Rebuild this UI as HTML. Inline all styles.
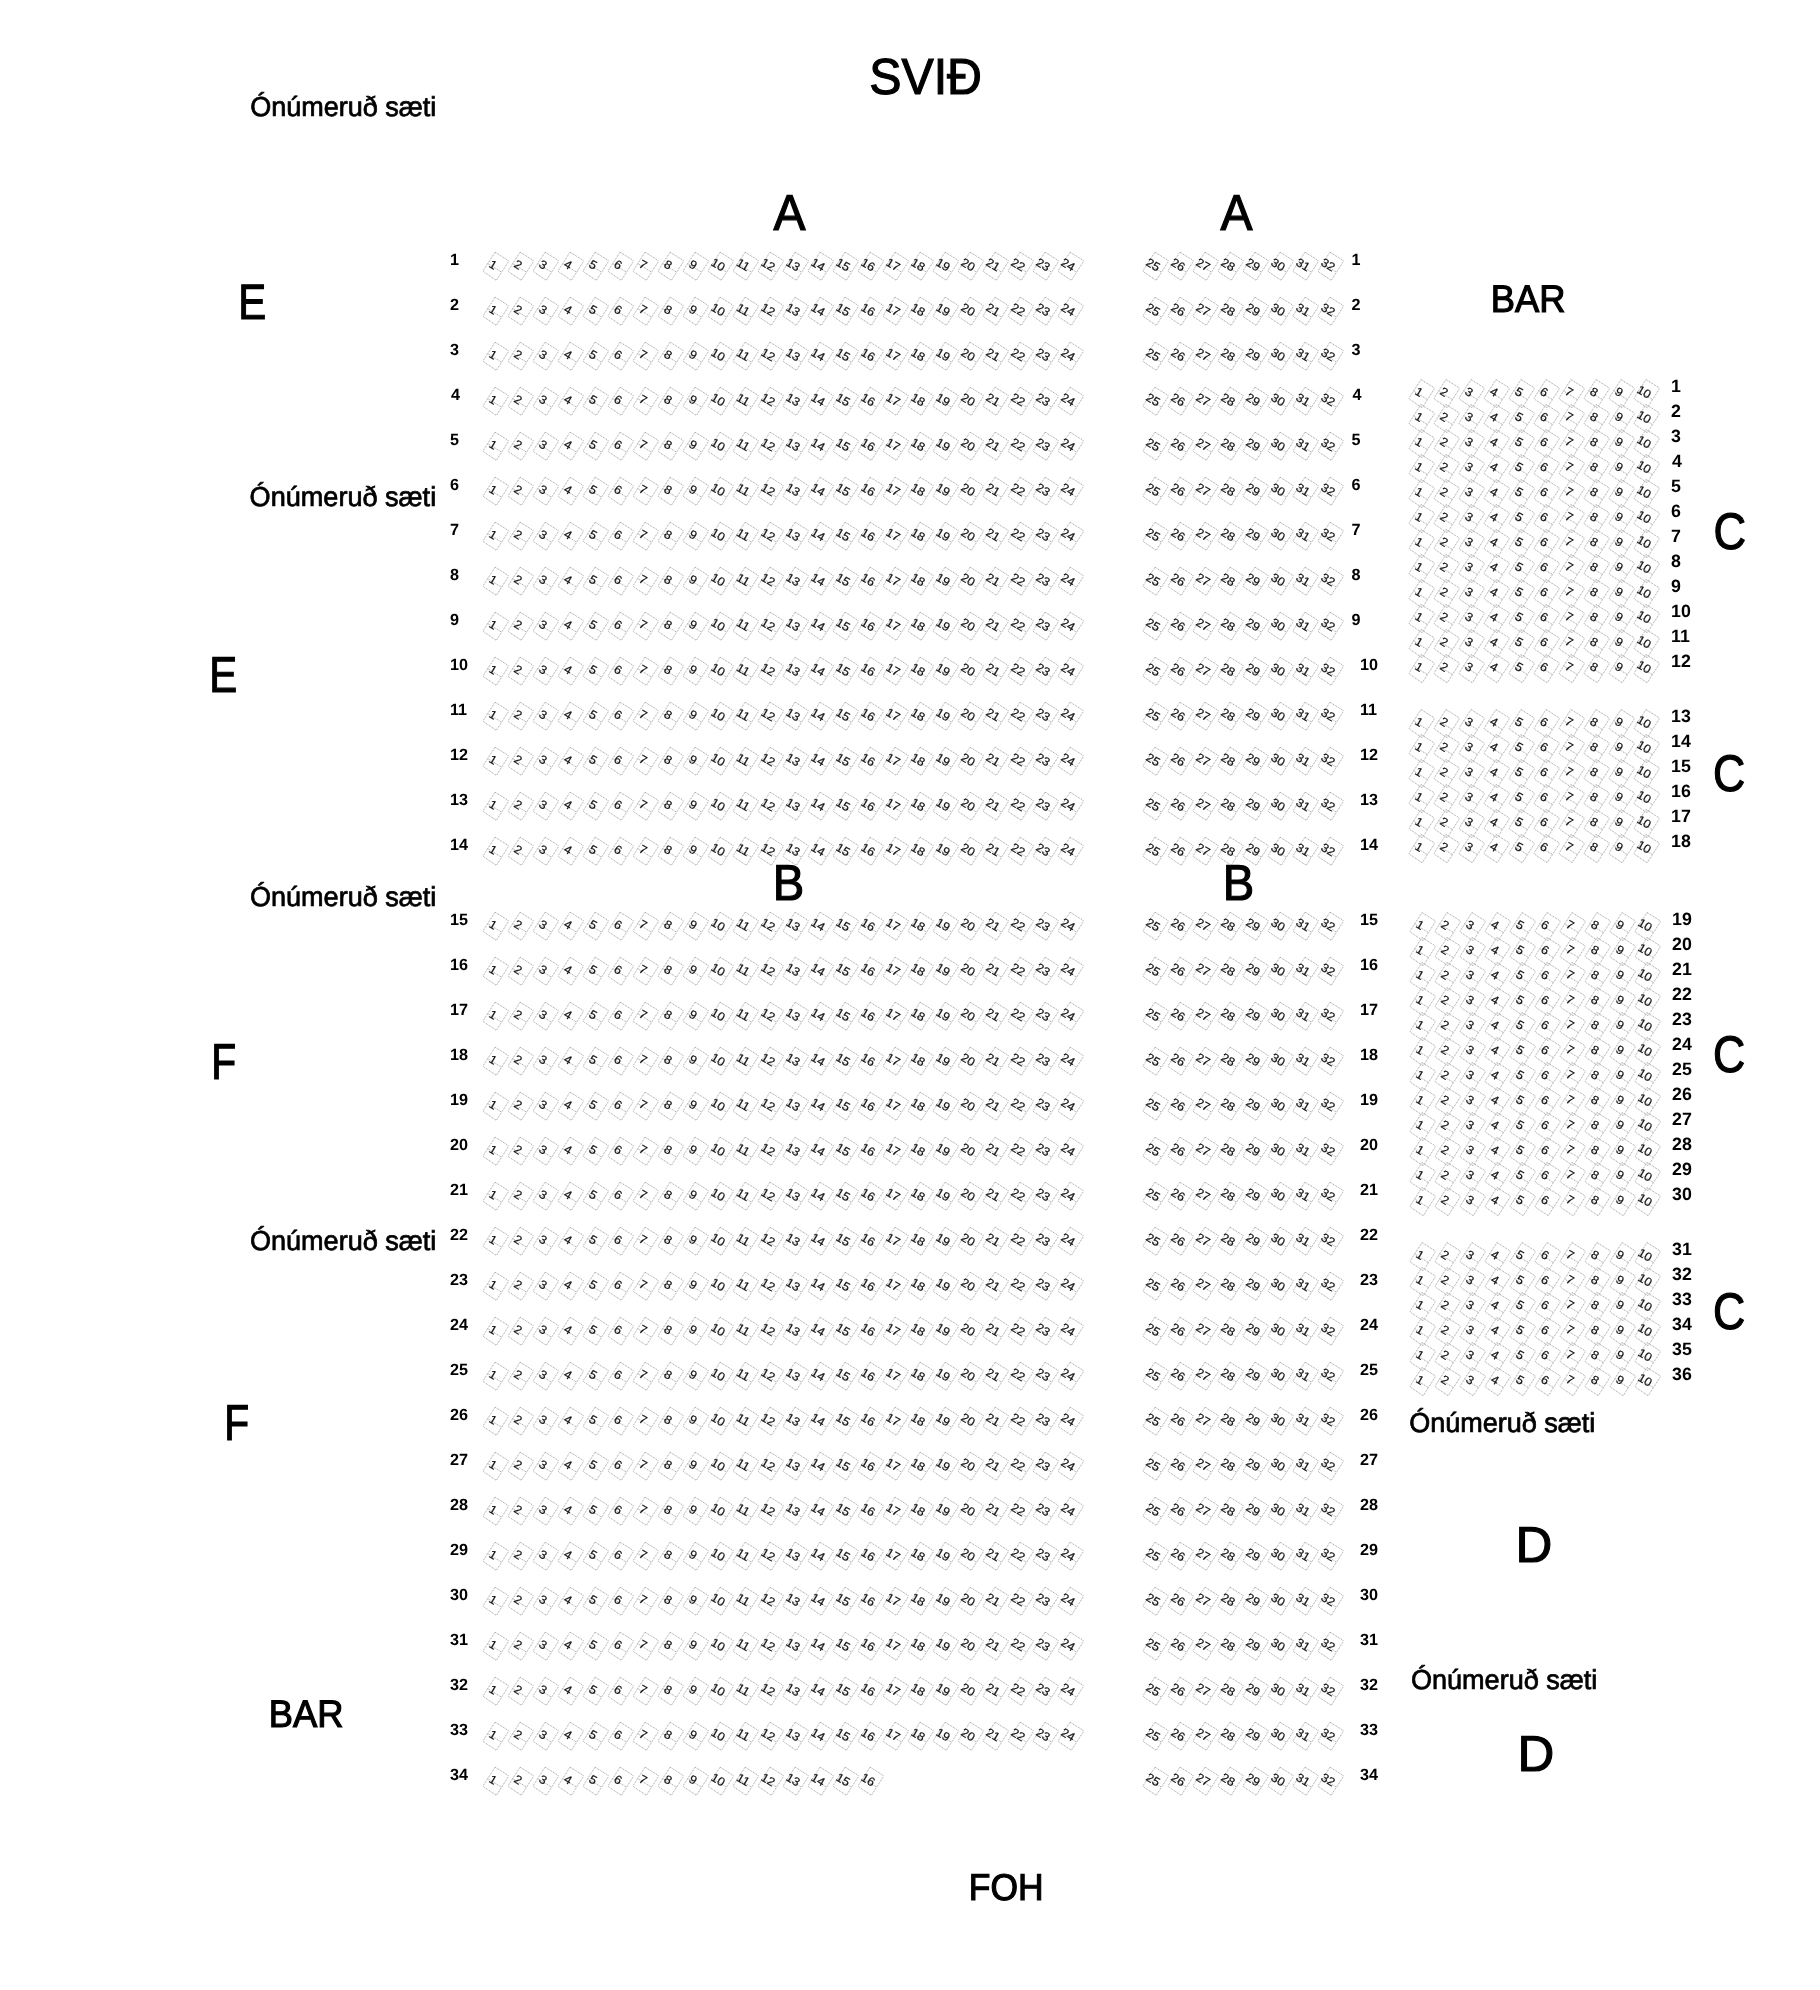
<!DOCTYPE html>
<html><head><meta charset="utf-8"><title>Seating</title><style>
html,body{margin:0;padding:0;background:#fff;width:1820px;height:1990px;overflow:hidden}
svg{position:absolute;left:0;top:0;will-change:transform;text-rendering:geometricPrecision;font-family:"Liberation Sans",sans-serif}
.L,.M{fill:#000}
.R{fill:#000;font-weight:bold}
#s rect,#s path{stroke-linejoin:round;fill:none;stroke:#959595;stroke-width:0.8;stroke-dasharray:1 0.85}
.n text{font-size:12px;fill:#111;stroke:#111;stroke-width:0.2px;text-anchor:middle;transform:scale(1.05,1.0)}
.L{stroke:#000;stroke-width:1.2px}
.M{stroke:#000;stroke-width:0.7px}
</style></head><body>
<svg width="1820" height="1990" viewBox="0 0 1820 1990">
<defs><g id="s"><path d="M-7.6 -11.7L6.9 -11.2Q8.7 -11.1 8.6 -9.3L7.6 12.1L-6.9 11.1Q-8.7 11 -8.6 9.2Z"/><path d="M-8.3 1.9L8.1 2.4"/></g></defs>
<text class="L" font-size="51" transform="matrix(0.947 0 0 0.991 869.203 93.94)">SVIÐ</text>
<text class="L" font-size="51" transform="matrix(0.941 0 0 0.989 773.504 230.16)">A</text>
<text class="L" font-size="51" transform="matrix(0.941 0 0 0.989 1220.504 230.16)">A</text>
<text class="L" font-size="51" transform="matrix(0.821 0 0 0.974 238.219 318.62)">E</text>
<text class="L" font-size="39" transform="matrix(0.933 0 0 0.986 1490.704 312.16)">BAR</text>
<text class="L" font-size="51" transform="matrix(0.885 0 0 1.006 1713.508 549.46)">C</text>
<text class="L" font-size="51" transform="matrix(0.821 0 0 0.989 209.219 692.16)">E</text>
<text class="L" font-size="51" transform="matrix(0.875 0 0 1.006 1712.88 791.46)">C</text>
<text class="L" font-size="51" transform="matrix(0.926 0 0 0.989 772.801 900.16)">B</text>
<text class="L" font-size="51" transform="matrix(0.926 0 0 0.989 1222.801 900.16)">B</text>
<text class="L" font-size="51" transform="matrix(0.875 0 0 1.006 1712.88 1072.46)">C</text>
<text class="L" font-size="51" transform="matrix(0.8 0 0 0.989 211.305 1079.16)">F</text>
<text class="L" font-size="51" transform="matrix(0.875 0 0 1.006 1712.88 1329.46)">C</text>
<text class="L" font-size="51" transform="matrix(0.8 0 0 0.989 224.305 1440.16)">F</text>
<text class="L" font-size="51" transform="matrix(1 0 0 0.989 1515.505 1562.16)">D</text>
<text class="L" font-size="39" transform="matrix(0.933 0 0 0.986 268.704 1727.16)">BAR</text>
<text class="L" font-size="51" transform="matrix(1 0 0 0.989 1517.505 1771.16)">D</text>
<text class="L" font-size="39" transform="matrix(0.908 0 0 0.953 968.781 1900.26)">FOH</text>
<text class="M" font-size="26" transform="matrix(1.039 0 0 1.056 250.141 116.3)">Ónúmeruð sæti</text>
<text class="M" font-size="26" transform="matrix(1.041 0 0 1.056 249.619 506.44)">Ónúmeruð sæti</text>
<text class="M" font-size="26" transform="matrix(1.04 0 0 1.056 249.96 905.78)">Ónúmeruð sæti</text>
<text class="M" font-size="26" transform="matrix(1.04 0 0 1.056 249.96 1249.78)">Ónúmeruð sæti</text>
<text class="M" font-size="26" transform="matrix(1.039 0 0 1.056 1409.141 1431.78)">Ónúmeruð sæti</text>
<text class="M" font-size="26" transform="matrix(1.04 0 0 1.056 1410.96 1688.78)">Ónúmeruð sæti</text>
<text class="R" font-size="16.2" x="450" y="264.7">1</text>
<text class="R" font-size="16.2" x="1351.5" y="264.7">1</text>
<text class="R" font-size="16.2" x="450" y="309.7">2</text>
<text class="R" font-size="16.2" x="1351.5" y="309.7">2</text>
<text class="R" font-size="16.2" x="450" y="354.7">3</text>
<text class="R" font-size="16.2" x="1351.5" y="354.7">3</text>
<text class="R" font-size="16.2" x="451" y="399.7">4</text>
<text class="R" font-size="16.2" x="1352.5" y="399.7">4</text>
<text class="R" font-size="16.2" x="450" y="444.7">5</text>
<text class="R" font-size="16.2" x="1351.5" y="444.7">5</text>
<text class="R" font-size="16.2" x="450" y="489.7">6</text>
<text class="R" font-size="16.2" x="1351.5" y="489.7">6</text>
<text class="R" font-size="16.2" x="450" y="534.7">7</text>
<text class="R" font-size="16.2" x="1351.5" y="534.7">7</text>
<text class="R" font-size="16.2" x="450" y="579.7">8</text>
<text class="R" font-size="16.2" x="1351.5" y="579.7">8</text>
<text class="R" font-size="16.2" x="450" y="624.7">9</text>
<text class="R" font-size="16.2" x="1351.5" y="624.7">9</text>
<text class="R" font-size="16.2" x="450" y="669.7">10</text>
<text class="R" font-size="16.2" x="1360" y="669.7">10</text>
<text class="R" font-size="16.2" x="450" y="714.7">11</text>
<text class="R" font-size="16.2" x="1360" y="714.7">11</text>
<text class="R" font-size="16.2" x="450" y="759.7">12</text>
<text class="R" font-size="16.2" x="1360" y="759.7">12</text>
<text class="R" font-size="16.2" x="450" y="804.7">13</text>
<text class="R" font-size="16.2" x="1360" y="804.7">13</text>
<text class="R" font-size="16.2" x="450" y="849.7">14</text>
<text class="R" font-size="16.2" x="1360" y="849.7">14</text>
<text class="R" font-size="16.2" x="450" y="924.7">15</text>
<text class="R" font-size="16.2" x="1360" y="924.7">15</text>
<text class="R" font-size="16.2" x="450" y="969.7">16</text>
<text class="R" font-size="16.2" x="1360" y="969.7">16</text>
<text class="R" font-size="16.2" x="450" y="1014.7">17</text>
<text class="R" font-size="16.2" x="1360" y="1014.7">17</text>
<text class="R" font-size="16.2" x="450" y="1059.7">18</text>
<text class="R" font-size="16.2" x="1360" y="1059.7">18</text>
<text class="R" font-size="16.2" x="450" y="1104.7">19</text>
<text class="R" font-size="16.2" x="1360" y="1104.7">19</text>
<text class="R" font-size="16.2" x="450" y="1149.7">20</text>
<text class="R" font-size="16.2" x="1360" y="1149.7">20</text>
<text class="R" font-size="16.2" x="450" y="1194.7">21</text>
<text class="R" font-size="16.2" x="1360" y="1194.7">21</text>
<text class="R" font-size="16.2" x="450" y="1239.7">22</text>
<text class="R" font-size="16.2" x="1360" y="1239.7">22</text>
<text class="R" font-size="16.2" x="450" y="1284.7">23</text>
<text class="R" font-size="16.2" x="1360" y="1284.7">23</text>
<text class="R" font-size="16.2" x="450" y="1329.7">24</text>
<text class="R" font-size="16.2" x="1360" y="1329.7">24</text>
<text class="R" font-size="16.2" x="450" y="1374.7">25</text>
<text class="R" font-size="16.2" x="1360" y="1374.7">25</text>
<text class="R" font-size="16.2" x="450" y="1419.7">26</text>
<text class="R" font-size="16.2" x="1360" y="1419.7">26</text>
<text class="R" font-size="16.2" x="450" y="1464.7">27</text>
<text class="R" font-size="16.2" x="1360" y="1464.7">27</text>
<text class="R" font-size="16.2" x="450" y="1509.7">28</text>
<text class="R" font-size="16.2" x="1360" y="1509.7">28</text>
<text class="R" font-size="16.2" x="450" y="1554.7">29</text>
<text class="R" font-size="16.2" x="1360" y="1554.7">29</text>
<text class="R" font-size="16.2" x="450" y="1599.7">30</text>
<text class="R" font-size="16.2" x="1360" y="1599.7">30</text>
<text class="R" font-size="16.2" x="450" y="1644.7">31</text>
<text class="R" font-size="16.2" x="1360" y="1644.7">31</text>
<text class="R" font-size="16.2" x="450" y="1689.7">32</text>
<text class="R" font-size="16.2" x="1360" y="1689.7">32</text>
<text class="R" font-size="16.2" x="450" y="1734.7">33</text>
<text class="R" font-size="16.2" x="1360" y="1734.7">33</text>
<text class="R" font-size="16.2" x="450" y="1779.7">34</text>
<text class="R" font-size="16.2" x="1360" y="1779.7">34</text>
<text class="R" font-size="17.8" x="1671" y="392">1</text>
<text class="R" font-size="17.8" x="1671" y="417">2</text>
<text class="R" font-size="17.8" x="1671" y="442">3</text>
<text class="R" font-size="17.8" x="1672" y="467">4</text>
<text class="R" font-size="17.8" x="1671" y="492">5</text>
<text class="R" font-size="17.8" x="1671" y="517">6</text>
<text class="R" font-size="17.8" x="1671" y="542">7</text>
<text class="R" font-size="17.8" x="1671" y="567">8</text>
<text class="R" font-size="17.8" x="1671" y="592">9</text>
<text class="R" font-size="17.8" x="1671" y="617">10</text>
<text class="R" font-size="17.8" x="1671" y="642">11</text>
<text class="R" font-size="17.8" x="1671" y="667">12</text>
<text class="R" font-size="17.8" x="1671" y="722">13</text>
<text class="R" font-size="17.8" x="1671" y="747">14</text>
<text class="R" font-size="17.8" x="1671" y="772">15</text>
<text class="R" font-size="17.8" x="1671" y="797">16</text>
<text class="R" font-size="17.8" x="1671" y="822">17</text>
<text class="R" font-size="17.8" x="1671" y="847">18</text>
<text class="R" font-size="17.8" x="1672" y="925">19</text>
<text class="R" font-size="17.8" x="1672" y="950">20</text>
<text class="R" font-size="17.8" x="1672" y="975">21</text>
<text class="R" font-size="17.8" x="1672" y="1000">22</text>
<text class="R" font-size="17.8" x="1672" y="1025">23</text>
<text class="R" font-size="17.8" x="1672" y="1050">24</text>
<text class="R" font-size="17.8" x="1672" y="1075">25</text>
<text class="R" font-size="17.8" x="1672" y="1100">26</text>
<text class="R" font-size="17.8" x="1672" y="1125">27</text>
<text class="R" font-size="17.8" x="1672" y="1150">28</text>
<text class="R" font-size="17.8" x="1672" y="1175">29</text>
<text class="R" font-size="17.8" x="1672" y="1200">30</text>
<text class="R" font-size="17.8" x="1672" y="1255">31</text>
<text class="R" font-size="17.8" x="1672" y="1280">32</text>
<text class="R" font-size="17.8" x="1672" y="1305">33</text>
<text class="R" font-size="17.8" x="1672" y="1330">34</text>
<text class="R" font-size="17.8" x="1672" y="1355">35</text>
<text class="R" font-size="17.8" x="1672" y="1380">36</text>
<g class="n">
<g transform="translate(495.8 266.1)rotate(30)"><use href="#s"/><text x="-2.9" y="4.2">1</text></g>
<g transform="translate(520.8 266.1)rotate(30)"><use href="#s"/><text x="-2.9" y="4.2">2</text></g>
<g transform="translate(545.8 266.1)rotate(30)"><use href="#s"/><text x="-2.9" y="4.2">3</text></g>
<g transform="translate(570.8 266.1)rotate(30)"><use href="#s"/><text x="-2.9" y="4.2">4</text></g>
<g transform="translate(595.8 266.1)rotate(30)"><use href="#s"/><text x="-2.9" y="4.2">5</text></g>
<g transform="translate(620.8 266.1)rotate(30)"><use href="#s"/><text x="-2.9" y="4.2">6</text></g>
<g transform="translate(645.8 266.1)rotate(30)"><use href="#s"/><text x="-2.9" y="4.2">7</text></g>
<g transform="translate(670.8 266.1)rotate(30)"><use href="#s"/><text x="-2.9" y="4.2">8</text></g>
<g transform="translate(695.8 266.1)rotate(30)"><use href="#s"/><text x="-2.9" y="4.2">9</text></g>
<g transform="translate(720.8 266.1)rotate(30)"><use href="#s"/><text x="-2.9" y="4.2">10</text></g>
<g transform="translate(745.8 266.1)rotate(30)"><use href="#s"/><text x="-2.9" y="4.2">11</text></g>
<g transform="translate(770.8 266.1)rotate(30)"><use href="#s"/><text x="-2.9" y="4.2">12</text></g>
<g transform="translate(795.8 266.1)rotate(30)"><use href="#s"/><text x="-2.9" y="4.2">13</text></g>
<g transform="translate(820.8 266.1)rotate(30)"><use href="#s"/><text x="-2.9" y="4.2">14</text></g>
<g transform="translate(845.8 266.1)rotate(30)"><use href="#s"/><text x="-2.9" y="4.2">15</text></g>
<g transform="translate(870.8 266.1)rotate(30)"><use href="#s"/><text x="-2.9" y="4.2">16</text></g>
<g transform="translate(895.8 266.1)rotate(30)"><use href="#s"/><text x="-2.9" y="4.2">17</text></g>
<g transform="translate(920.8 266.1)rotate(30)"><use href="#s"/><text x="-2.9" y="4.2">18</text></g>
<g transform="translate(945.8 266.1)rotate(30)"><use href="#s"/><text x="-2.9" y="4.2">19</text></g>
<g transform="translate(970.8 266.1)rotate(30)"><use href="#s"/><text x="-2.9" y="4.2">20</text></g>
<g transform="translate(995.8 266.1)rotate(30)"><use href="#s"/><text x="-2.9" y="4.2">21</text></g>
<g transform="translate(1020.8 266.1)rotate(30)"><use href="#s"/><text x="-2.9" y="4.2">22</text></g>
<g transform="translate(1045.8 266.1)rotate(30)"><use href="#s"/><text x="-2.9" y="4.2">23</text></g>
<g transform="translate(1070.8 266.1)rotate(30)"><use href="#s"/><text x="-2.9" y="4.2">24</text></g>
<g transform="translate(1155.7 266.1)rotate(30)"><use href="#s"/><text x="-2.9" y="4.2">25</text></g>
<g transform="translate(1180.7 266.1)rotate(30)"><use href="#s"/><text x="-2.9" y="4.2">26</text></g>
<g transform="translate(1205.7 266.1)rotate(30)"><use href="#s"/><text x="-2.9" y="4.2">27</text></g>
<g transform="translate(1230.7 266.1)rotate(30)"><use href="#s"/><text x="-2.9" y="4.2">28</text></g>
<g transform="translate(1255.7 266.1)rotate(30)"><use href="#s"/><text x="-2.9" y="4.2">29</text></g>
<g transform="translate(1280.7 266.1)rotate(30)"><use href="#s"/><text x="-2.9" y="4.2">30</text></g>
<g transform="translate(1305.7 266.1)rotate(30)"><use href="#s"/><text x="-2.9" y="4.2">31</text></g>
<g transform="translate(1330.7 266.1)rotate(30)"><use href="#s"/><text x="-2.9" y="4.2">32</text></g>
<g transform="translate(495.8 311.1)rotate(30)"><use href="#s"/><text x="-2.9" y="4.2">1</text></g>
<g transform="translate(520.8 311.1)rotate(30)"><use href="#s"/><text x="-2.9" y="4.2">2</text></g>
<g transform="translate(545.8 311.1)rotate(30)"><use href="#s"/><text x="-2.9" y="4.2">3</text></g>
<g transform="translate(570.8 311.1)rotate(30)"><use href="#s"/><text x="-2.9" y="4.2">4</text></g>
<g transform="translate(595.8 311.1)rotate(30)"><use href="#s"/><text x="-2.9" y="4.2">5</text></g>
<g transform="translate(620.8 311.1)rotate(30)"><use href="#s"/><text x="-2.9" y="4.2">6</text></g>
<g transform="translate(645.8 311.1)rotate(30)"><use href="#s"/><text x="-2.9" y="4.2">7</text></g>
<g transform="translate(670.8 311.1)rotate(30)"><use href="#s"/><text x="-2.9" y="4.2">8</text></g>
<g transform="translate(695.8 311.1)rotate(30)"><use href="#s"/><text x="-2.9" y="4.2">9</text></g>
<g transform="translate(720.8 311.1)rotate(30)"><use href="#s"/><text x="-2.9" y="4.2">10</text></g>
<g transform="translate(745.8 311.1)rotate(30)"><use href="#s"/><text x="-2.9" y="4.2">11</text></g>
<g transform="translate(770.8 311.1)rotate(30)"><use href="#s"/><text x="-2.9" y="4.2">12</text></g>
<g transform="translate(795.8 311.1)rotate(30)"><use href="#s"/><text x="-2.9" y="4.2">13</text></g>
<g transform="translate(820.8 311.1)rotate(30)"><use href="#s"/><text x="-2.9" y="4.2">14</text></g>
<g transform="translate(845.8 311.1)rotate(30)"><use href="#s"/><text x="-2.9" y="4.2">15</text></g>
<g transform="translate(870.8 311.1)rotate(30)"><use href="#s"/><text x="-2.9" y="4.2">16</text></g>
<g transform="translate(895.8 311.1)rotate(30)"><use href="#s"/><text x="-2.9" y="4.2">17</text></g>
<g transform="translate(920.8 311.1)rotate(30)"><use href="#s"/><text x="-2.9" y="4.2">18</text></g>
<g transform="translate(945.8 311.1)rotate(30)"><use href="#s"/><text x="-2.9" y="4.2">19</text></g>
<g transform="translate(970.8 311.1)rotate(30)"><use href="#s"/><text x="-2.9" y="4.2">20</text></g>
<g transform="translate(995.8 311.1)rotate(30)"><use href="#s"/><text x="-2.9" y="4.2">21</text></g>
<g transform="translate(1020.8 311.1)rotate(30)"><use href="#s"/><text x="-2.9" y="4.2">22</text></g>
<g transform="translate(1045.8 311.1)rotate(30)"><use href="#s"/><text x="-2.9" y="4.2">23</text></g>
<g transform="translate(1070.8 311.1)rotate(30)"><use href="#s"/><text x="-2.9" y="4.2">24</text></g>
<g transform="translate(1155.7 311.1)rotate(30)"><use href="#s"/><text x="-2.9" y="4.2">25</text></g>
<g transform="translate(1180.7 311.1)rotate(30)"><use href="#s"/><text x="-2.9" y="4.2">26</text></g>
<g transform="translate(1205.7 311.1)rotate(30)"><use href="#s"/><text x="-2.9" y="4.2">27</text></g>
<g transform="translate(1230.7 311.1)rotate(30)"><use href="#s"/><text x="-2.9" y="4.2">28</text></g>
<g transform="translate(1255.7 311.1)rotate(30)"><use href="#s"/><text x="-2.9" y="4.2">29</text></g>
<g transform="translate(1280.7 311.1)rotate(30)"><use href="#s"/><text x="-2.9" y="4.2">30</text></g>
<g transform="translate(1305.7 311.1)rotate(30)"><use href="#s"/><text x="-2.9" y="4.2">31</text></g>
<g transform="translate(1330.7 311.1)rotate(30)"><use href="#s"/><text x="-2.9" y="4.2">32</text></g>
<g transform="translate(495.8 356.1)rotate(30)"><use href="#s"/><text x="-2.9" y="4.2">1</text></g>
<g transform="translate(520.8 356.1)rotate(30)"><use href="#s"/><text x="-2.9" y="4.2">2</text></g>
<g transform="translate(545.8 356.1)rotate(30)"><use href="#s"/><text x="-2.9" y="4.2">3</text></g>
<g transform="translate(570.8 356.1)rotate(30)"><use href="#s"/><text x="-2.9" y="4.2">4</text></g>
<g transform="translate(595.8 356.1)rotate(30)"><use href="#s"/><text x="-2.9" y="4.2">5</text></g>
<g transform="translate(620.8 356.1)rotate(30)"><use href="#s"/><text x="-2.9" y="4.2">6</text></g>
<g transform="translate(645.8 356.1)rotate(30)"><use href="#s"/><text x="-2.9" y="4.2">7</text></g>
<g transform="translate(670.8 356.1)rotate(30)"><use href="#s"/><text x="-2.9" y="4.2">8</text></g>
<g transform="translate(695.8 356.1)rotate(30)"><use href="#s"/><text x="-2.9" y="4.2">9</text></g>
<g transform="translate(720.8 356.1)rotate(30)"><use href="#s"/><text x="-2.9" y="4.2">10</text></g>
<g transform="translate(745.8 356.1)rotate(30)"><use href="#s"/><text x="-2.9" y="4.2">11</text></g>
<g transform="translate(770.8 356.1)rotate(30)"><use href="#s"/><text x="-2.9" y="4.2">12</text></g>
<g transform="translate(795.8 356.1)rotate(30)"><use href="#s"/><text x="-2.9" y="4.2">13</text></g>
<g transform="translate(820.8 356.1)rotate(30)"><use href="#s"/><text x="-2.9" y="4.2">14</text></g>
<g transform="translate(845.8 356.1)rotate(30)"><use href="#s"/><text x="-2.9" y="4.2">15</text></g>
<g transform="translate(870.8 356.1)rotate(30)"><use href="#s"/><text x="-2.9" y="4.2">16</text></g>
<g transform="translate(895.8 356.1)rotate(30)"><use href="#s"/><text x="-2.9" y="4.2">17</text></g>
<g transform="translate(920.8 356.1)rotate(30)"><use href="#s"/><text x="-2.9" y="4.2">18</text></g>
<g transform="translate(945.8 356.1)rotate(30)"><use href="#s"/><text x="-2.9" y="4.2">19</text></g>
<g transform="translate(970.8 356.1)rotate(30)"><use href="#s"/><text x="-2.9" y="4.2">20</text></g>
<g transform="translate(995.8 356.1)rotate(30)"><use href="#s"/><text x="-2.9" y="4.2">21</text></g>
<g transform="translate(1020.8 356.1)rotate(30)"><use href="#s"/><text x="-2.9" y="4.2">22</text></g>
<g transform="translate(1045.8 356.1)rotate(30)"><use href="#s"/><text x="-2.9" y="4.2">23</text></g>
<g transform="translate(1070.8 356.1)rotate(30)"><use href="#s"/><text x="-2.9" y="4.2">24</text></g>
<g transform="translate(1155.7 356.1)rotate(30)"><use href="#s"/><text x="-2.9" y="4.2">25</text></g>
<g transform="translate(1180.7 356.1)rotate(30)"><use href="#s"/><text x="-2.9" y="4.2">26</text></g>
<g transform="translate(1205.7 356.1)rotate(30)"><use href="#s"/><text x="-2.9" y="4.2">27</text></g>
<g transform="translate(1230.7 356.1)rotate(30)"><use href="#s"/><text x="-2.9" y="4.2">28</text></g>
<g transform="translate(1255.7 356.1)rotate(30)"><use href="#s"/><text x="-2.9" y="4.2">29</text></g>
<g transform="translate(1280.7 356.1)rotate(30)"><use href="#s"/><text x="-2.9" y="4.2">30</text></g>
<g transform="translate(1305.7 356.1)rotate(30)"><use href="#s"/><text x="-2.9" y="4.2">31</text></g>
<g transform="translate(1330.7 356.1)rotate(30)"><use href="#s"/><text x="-2.9" y="4.2">32</text></g>
<g transform="translate(495.8 401.1)rotate(30)"><use href="#s"/><text x="-2.9" y="4.2">1</text></g>
<g transform="translate(520.8 401.1)rotate(30)"><use href="#s"/><text x="-2.9" y="4.2">2</text></g>
<g transform="translate(545.8 401.1)rotate(30)"><use href="#s"/><text x="-2.9" y="4.2">3</text></g>
<g transform="translate(570.8 401.1)rotate(30)"><use href="#s"/><text x="-2.9" y="4.2">4</text></g>
<g transform="translate(595.8 401.1)rotate(30)"><use href="#s"/><text x="-2.9" y="4.2">5</text></g>
<g transform="translate(620.8 401.1)rotate(30)"><use href="#s"/><text x="-2.9" y="4.2">6</text></g>
<g transform="translate(645.8 401.1)rotate(30)"><use href="#s"/><text x="-2.9" y="4.2">7</text></g>
<g transform="translate(670.8 401.1)rotate(30)"><use href="#s"/><text x="-2.9" y="4.2">8</text></g>
<g transform="translate(695.8 401.1)rotate(30)"><use href="#s"/><text x="-2.9" y="4.2">9</text></g>
<g transform="translate(720.8 401.1)rotate(30)"><use href="#s"/><text x="-2.9" y="4.2">10</text></g>
<g transform="translate(745.8 401.1)rotate(30)"><use href="#s"/><text x="-2.9" y="4.2">11</text></g>
<g transform="translate(770.8 401.1)rotate(30)"><use href="#s"/><text x="-2.9" y="4.2">12</text></g>
<g transform="translate(795.8 401.1)rotate(30)"><use href="#s"/><text x="-2.9" y="4.2">13</text></g>
<g transform="translate(820.8 401.1)rotate(30)"><use href="#s"/><text x="-2.9" y="4.2">14</text></g>
<g transform="translate(845.8 401.1)rotate(30)"><use href="#s"/><text x="-2.9" y="4.2">15</text></g>
<g transform="translate(870.8 401.1)rotate(30)"><use href="#s"/><text x="-2.9" y="4.2">16</text></g>
<g transform="translate(895.8 401.1)rotate(30)"><use href="#s"/><text x="-2.9" y="4.2">17</text></g>
<g transform="translate(920.8 401.1)rotate(30)"><use href="#s"/><text x="-2.9" y="4.2">18</text></g>
<g transform="translate(945.8 401.1)rotate(30)"><use href="#s"/><text x="-2.9" y="4.2">19</text></g>
<g transform="translate(970.8 401.1)rotate(30)"><use href="#s"/><text x="-2.9" y="4.2">20</text></g>
<g transform="translate(995.8 401.1)rotate(30)"><use href="#s"/><text x="-2.9" y="4.2">21</text></g>
<g transform="translate(1020.8 401.1)rotate(30)"><use href="#s"/><text x="-2.9" y="4.2">22</text></g>
<g transform="translate(1045.8 401.1)rotate(30)"><use href="#s"/><text x="-2.9" y="4.2">23</text></g>
<g transform="translate(1070.8 401.1)rotate(30)"><use href="#s"/><text x="-2.9" y="4.2">24</text></g>
<g transform="translate(1155.7 401.1)rotate(30)"><use href="#s"/><text x="-2.9" y="4.2">25</text></g>
<g transform="translate(1180.7 401.1)rotate(30)"><use href="#s"/><text x="-2.9" y="4.2">26</text></g>
<g transform="translate(1205.7 401.1)rotate(30)"><use href="#s"/><text x="-2.9" y="4.2">27</text></g>
<g transform="translate(1230.7 401.1)rotate(30)"><use href="#s"/><text x="-2.9" y="4.2">28</text></g>
<g transform="translate(1255.7 401.1)rotate(30)"><use href="#s"/><text x="-2.9" y="4.2">29</text></g>
<g transform="translate(1280.7 401.1)rotate(30)"><use href="#s"/><text x="-2.9" y="4.2">30</text></g>
<g transform="translate(1305.7 401.1)rotate(30)"><use href="#s"/><text x="-2.9" y="4.2">31</text></g>
<g transform="translate(1330.7 401.1)rotate(30)"><use href="#s"/><text x="-2.9" y="4.2">32</text></g>
<g transform="translate(495.8 446.1)rotate(30)"><use href="#s"/><text x="-2.9" y="4.2">1</text></g>
<g transform="translate(520.8 446.1)rotate(30)"><use href="#s"/><text x="-2.9" y="4.2">2</text></g>
<g transform="translate(545.8 446.1)rotate(30)"><use href="#s"/><text x="-2.9" y="4.2">3</text></g>
<g transform="translate(570.8 446.1)rotate(30)"><use href="#s"/><text x="-2.9" y="4.2">4</text></g>
<g transform="translate(595.8 446.1)rotate(30)"><use href="#s"/><text x="-2.9" y="4.2">5</text></g>
<g transform="translate(620.8 446.1)rotate(30)"><use href="#s"/><text x="-2.9" y="4.2">6</text></g>
<g transform="translate(645.8 446.1)rotate(30)"><use href="#s"/><text x="-2.9" y="4.2">7</text></g>
<g transform="translate(670.8 446.1)rotate(30)"><use href="#s"/><text x="-2.9" y="4.2">8</text></g>
<g transform="translate(695.8 446.1)rotate(30)"><use href="#s"/><text x="-2.9" y="4.2">9</text></g>
<g transform="translate(720.8 446.1)rotate(30)"><use href="#s"/><text x="-2.9" y="4.2">10</text></g>
<g transform="translate(745.8 446.1)rotate(30)"><use href="#s"/><text x="-2.9" y="4.2">11</text></g>
<g transform="translate(770.8 446.1)rotate(30)"><use href="#s"/><text x="-2.9" y="4.2">12</text></g>
<g transform="translate(795.8 446.1)rotate(30)"><use href="#s"/><text x="-2.9" y="4.2">13</text></g>
<g transform="translate(820.8 446.1)rotate(30)"><use href="#s"/><text x="-2.9" y="4.2">14</text></g>
<g transform="translate(845.8 446.1)rotate(30)"><use href="#s"/><text x="-2.9" y="4.2">15</text></g>
<g transform="translate(870.8 446.1)rotate(30)"><use href="#s"/><text x="-2.9" y="4.2">16</text></g>
<g transform="translate(895.8 446.1)rotate(30)"><use href="#s"/><text x="-2.9" y="4.2">17</text></g>
<g transform="translate(920.8 446.1)rotate(30)"><use href="#s"/><text x="-2.9" y="4.2">18</text></g>
<g transform="translate(945.8 446.1)rotate(30)"><use href="#s"/><text x="-2.9" y="4.2">19</text></g>
<g transform="translate(970.8 446.1)rotate(30)"><use href="#s"/><text x="-2.9" y="4.2">20</text></g>
<g transform="translate(995.8 446.1)rotate(30)"><use href="#s"/><text x="-2.9" y="4.2">21</text></g>
<g transform="translate(1020.8 446.1)rotate(30)"><use href="#s"/><text x="-2.9" y="4.2">22</text></g>
<g transform="translate(1045.8 446.1)rotate(30)"><use href="#s"/><text x="-2.9" y="4.2">23</text></g>
<g transform="translate(1070.8 446.1)rotate(30)"><use href="#s"/><text x="-2.9" y="4.2">24</text></g>
<g transform="translate(1155.7 446.1)rotate(30)"><use href="#s"/><text x="-2.9" y="4.2">25</text></g>
<g transform="translate(1180.7 446.1)rotate(30)"><use href="#s"/><text x="-2.9" y="4.2">26</text></g>
<g transform="translate(1205.7 446.1)rotate(30)"><use href="#s"/><text x="-2.9" y="4.2">27</text></g>
<g transform="translate(1230.7 446.1)rotate(30)"><use href="#s"/><text x="-2.9" y="4.2">28</text></g>
<g transform="translate(1255.7 446.1)rotate(30)"><use href="#s"/><text x="-2.9" y="4.2">29</text></g>
<g transform="translate(1280.7 446.1)rotate(30)"><use href="#s"/><text x="-2.9" y="4.2">30</text></g>
<g transform="translate(1305.7 446.1)rotate(30)"><use href="#s"/><text x="-2.9" y="4.2">31</text></g>
<g transform="translate(1330.7 446.1)rotate(30)"><use href="#s"/><text x="-2.9" y="4.2">32</text></g>
<g transform="translate(495.8 491.1)rotate(30)"><use href="#s"/><text x="-2.9" y="4.2">1</text></g>
<g transform="translate(520.8 491.1)rotate(30)"><use href="#s"/><text x="-2.9" y="4.2">2</text></g>
<g transform="translate(545.8 491.1)rotate(30)"><use href="#s"/><text x="-2.9" y="4.2">3</text></g>
<g transform="translate(570.8 491.1)rotate(30)"><use href="#s"/><text x="-2.9" y="4.2">4</text></g>
<g transform="translate(595.8 491.1)rotate(30)"><use href="#s"/><text x="-2.9" y="4.2">5</text></g>
<g transform="translate(620.8 491.1)rotate(30)"><use href="#s"/><text x="-2.9" y="4.2">6</text></g>
<g transform="translate(645.8 491.1)rotate(30)"><use href="#s"/><text x="-2.9" y="4.2">7</text></g>
<g transform="translate(670.8 491.1)rotate(30)"><use href="#s"/><text x="-2.9" y="4.2">8</text></g>
<g transform="translate(695.8 491.1)rotate(30)"><use href="#s"/><text x="-2.9" y="4.2">9</text></g>
<g transform="translate(720.8 491.1)rotate(30)"><use href="#s"/><text x="-2.9" y="4.2">10</text></g>
<g transform="translate(745.8 491.1)rotate(30)"><use href="#s"/><text x="-2.9" y="4.2">11</text></g>
<g transform="translate(770.8 491.1)rotate(30)"><use href="#s"/><text x="-2.9" y="4.2">12</text></g>
<g transform="translate(795.8 491.1)rotate(30)"><use href="#s"/><text x="-2.9" y="4.2">13</text></g>
<g transform="translate(820.8 491.1)rotate(30)"><use href="#s"/><text x="-2.9" y="4.2">14</text></g>
<g transform="translate(845.8 491.1)rotate(30)"><use href="#s"/><text x="-2.9" y="4.2">15</text></g>
<g transform="translate(870.8 491.1)rotate(30)"><use href="#s"/><text x="-2.9" y="4.2">16</text></g>
<g transform="translate(895.8 491.1)rotate(30)"><use href="#s"/><text x="-2.9" y="4.2">17</text></g>
<g transform="translate(920.8 491.1)rotate(30)"><use href="#s"/><text x="-2.9" y="4.2">18</text></g>
<g transform="translate(945.8 491.1)rotate(30)"><use href="#s"/><text x="-2.9" y="4.2">19</text></g>
<g transform="translate(970.8 491.1)rotate(30)"><use href="#s"/><text x="-2.9" y="4.2">20</text></g>
<g transform="translate(995.8 491.1)rotate(30)"><use href="#s"/><text x="-2.9" y="4.2">21</text></g>
<g transform="translate(1020.8 491.1)rotate(30)"><use href="#s"/><text x="-2.9" y="4.2">22</text></g>
<g transform="translate(1045.8 491.1)rotate(30)"><use href="#s"/><text x="-2.9" y="4.2">23</text></g>
<g transform="translate(1070.8 491.1)rotate(30)"><use href="#s"/><text x="-2.9" y="4.2">24</text></g>
<g transform="translate(1155.7 491.1)rotate(30)"><use href="#s"/><text x="-2.9" y="4.2">25</text></g>
<g transform="translate(1180.7 491.1)rotate(30)"><use href="#s"/><text x="-2.9" y="4.2">26</text></g>
<g transform="translate(1205.7 491.1)rotate(30)"><use href="#s"/><text x="-2.9" y="4.2">27</text></g>
<g transform="translate(1230.7 491.1)rotate(30)"><use href="#s"/><text x="-2.9" y="4.2">28</text></g>
<g transform="translate(1255.7 491.1)rotate(30)"><use href="#s"/><text x="-2.9" y="4.2">29</text></g>
<g transform="translate(1280.7 491.1)rotate(30)"><use href="#s"/><text x="-2.9" y="4.2">30</text></g>
<g transform="translate(1305.7 491.1)rotate(30)"><use href="#s"/><text x="-2.9" y="4.2">31</text></g>
<g transform="translate(1330.7 491.1)rotate(30)"><use href="#s"/><text x="-2.9" y="4.2">32</text></g>
<g transform="translate(495.8 536.1)rotate(30)"><use href="#s"/><text x="-2.9" y="4.2">1</text></g>
<g transform="translate(520.8 536.1)rotate(30)"><use href="#s"/><text x="-2.9" y="4.2">2</text></g>
<g transform="translate(545.8 536.1)rotate(30)"><use href="#s"/><text x="-2.9" y="4.2">3</text></g>
<g transform="translate(570.8 536.1)rotate(30)"><use href="#s"/><text x="-2.9" y="4.2">4</text></g>
<g transform="translate(595.8 536.1)rotate(30)"><use href="#s"/><text x="-2.9" y="4.2">5</text></g>
<g transform="translate(620.8 536.1)rotate(30)"><use href="#s"/><text x="-2.9" y="4.2">6</text></g>
<g transform="translate(645.8 536.1)rotate(30)"><use href="#s"/><text x="-2.9" y="4.2">7</text></g>
<g transform="translate(670.8 536.1)rotate(30)"><use href="#s"/><text x="-2.9" y="4.2">8</text></g>
<g transform="translate(695.8 536.1)rotate(30)"><use href="#s"/><text x="-2.9" y="4.2">9</text></g>
<g transform="translate(720.8 536.1)rotate(30)"><use href="#s"/><text x="-2.9" y="4.2">10</text></g>
<g transform="translate(745.8 536.1)rotate(30)"><use href="#s"/><text x="-2.9" y="4.2">11</text></g>
<g transform="translate(770.8 536.1)rotate(30)"><use href="#s"/><text x="-2.9" y="4.2">12</text></g>
<g transform="translate(795.8 536.1)rotate(30)"><use href="#s"/><text x="-2.9" y="4.2">13</text></g>
<g transform="translate(820.8 536.1)rotate(30)"><use href="#s"/><text x="-2.9" y="4.2">14</text></g>
<g transform="translate(845.8 536.1)rotate(30)"><use href="#s"/><text x="-2.9" y="4.2">15</text></g>
<g transform="translate(870.8 536.1)rotate(30)"><use href="#s"/><text x="-2.9" y="4.2">16</text></g>
<g transform="translate(895.8 536.1)rotate(30)"><use href="#s"/><text x="-2.9" y="4.2">17</text></g>
<g transform="translate(920.8 536.1)rotate(30)"><use href="#s"/><text x="-2.9" y="4.2">18</text></g>
<g transform="translate(945.8 536.1)rotate(30)"><use href="#s"/><text x="-2.9" y="4.2">19</text></g>
<g transform="translate(970.8 536.1)rotate(30)"><use href="#s"/><text x="-2.9" y="4.2">20</text></g>
<g transform="translate(995.8 536.1)rotate(30)"><use href="#s"/><text x="-2.9" y="4.2">21</text></g>
<g transform="translate(1020.8 536.1)rotate(30)"><use href="#s"/><text x="-2.9" y="4.2">22</text></g>
<g transform="translate(1045.8 536.1)rotate(30)"><use href="#s"/><text x="-2.9" y="4.2">23</text></g>
<g transform="translate(1070.8 536.1)rotate(30)"><use href="#s"/><text x="-2.9" y="4.2">24</text></g>
<g transform="translate(1155.7 536.1)rotate(30)"><use href="#s"/><text x="-2.9" y="4.2">25</text></g>
<g transform="translate(1180.7 536.1)rotate(30)"><use href="#s"/><text x="-2.9" y="4.2">26</text></g>
<g transform="translate(1205.7 536.1)rotate(30)"><use href="#s"/><text x="-2.9" y="4.2">27</text></g>
<g transform="translate(1230.7 536.1)rotate(30)"><use href="#s"/><text x="-2.9" y="4.2">28</text></g>
<g transform="translate(1255.7 536.1)rotate(30)"><use href="#s"/><text x="-2.9" y="4.2">29</text></g>
<g transform="translate(1280.7 536.1)rotate(30)"><use href="#s"/><text x="-2.9" y="4.2">30</text></g>
<g transform="translate(1305.7 536.1)rotate(30)"><use href="#s"/><text x="-2.9" y="4.2">31</text></g>
<g transform="translate(1330.7 536.1)rotate(30)"><use href="#s"/><text x="-2.9" y="4.2">32</text></g>
<g transform="translate(495.8 581.1)rotate(30)"><use href="#s"/><text x="-2.9" y="4.2">1</text></g>
<g transform="translate(520.8 581.1)rotate(30)"><use href="#s"/><text x="-2.9" y="4.2">2</text></g>
<g transform="translate(545.8 581.1)rotate(30)"><use href="#s"/><text x="-2.9" y="4.2">3</text></g>
<g transform="translate(570.8 581.1)rotate(30)"><use href="#s"/><text x="-2.9" y="4.2">4</text></g>
<g transform="translate(595.8 581.1)rotate(30)"><use href="#s"/><text x="-2.9" y="4.2">5</text></g>
<g transform="translate(620.8 581.1)rotate(30)"><use href="#s"/><text x="-2.9" y="4.2">6</text></g>
<g transform="translate(645.8 581.1)rotate(30)"><use href="#s"/><text x="-2.9" y="4.2">7</text></g>
<g transform="translate(670.8 581.1)rotate(30)"><use href="#s"/><text x="-2.9" y="4.2">8</text></g>
<g transform="translate(695.8 581.1)rotate(30)"><use href="#s"/><text x="-2.9" y="4.2">9</text></g>
<g transform="translate(720.8 581.1)rotate(30)"><use href="#s"/><text x="-2.9" y="4.2">10</text></g>
<g transform="translate(745.8 581.1)rotate(30)"><use href="#s"/><text x="-2.9" y="4.2">11</text></g>
<g transform="translate(770.8 581.1)rotate(30)"><use href="#s"/><text x="-2.9" y="4.2">12</text></g>
<g transform="translate(795.8 581.1)rotate(30)"><use href="#s"/><text x="-2.9" y="4.2">13</text></g>
<g transform="translate(820.8 581.1)rotate(30)"><use href="#s"/><text x="-2.9" y="4.2">14</text></g>
<g transform="translate(845.8 581.1)rotate(30)"><use href="#s"/><text x="-2.9" y="4.2">15</text></g>
<g transform="translate(870.8 581.1)rotate(30)"><use href="#s"/><text x="-2.9" y="4.2">16</text></g>
<g transform="translate(895.8 581.1)rotate(30)"><use href="#s"/><text x="-2.9" y="4.2">17</text></g>
<g transform="translate(920.8 581.1)rotate(30)"><use href="#s"/><text x="-2.9" y="4.2">18</text></g>
<g transform="translate(945.8 581.1)rotate(30)"><use href="#s"/><text x="-2.9" y="4.2">19</text></g>
<g transform="translate(970.8 581.1)rotate(30)"><use href="#s"/><text x="-2.9" y="4.2">20</text></g>
<g transform="translate(995.8 581.1)rotate(30)"><use href="#s"/><text x="-2.9" y="4.2">21</text></g>
<g transform="translate(1020.8 581.1)rotate(30)"><use href="#s"/><text x="-2.9" y="4.2">22</text></g>
<g transform="translate(1045.8 581.1)rotate(30)"><use href="#s"/><text x="-2.9" y="4.2">23</text></g>
<g transform="translate(1070.8 581.1)rotate(30)"><use href="#s"/><text x="-2.9" y="4.2">24</text></g>
<g transform="translate(1155.7 581.1)rotate(30)"><use href="#s"/><text x="-2.9" y="4.2">25</text></g>
<g transform="translate(1180.7 581.1)rotate(30)"><use href="#s"/><text x="-2.9" y="4.2">26</text></g>
<g transform="translate(1205.7 581.1)rotate(30)"><use href="#s"/><text x="-2.9" y="4.2">27</text></g>
<g transform="translate(1230.7 581.1)rotate(30)"><use href="#s"/><text x="-2.9" y="4.2">28</text></g>
<g transform="translate(1255.7 581.1)rotate(30)"><use href="#s"/><text x="-2.9" y="4.2">29</text></g>
<g transform="translate(1280.7 581.1)rotate(30)"><use href="#s"/><text x="-2.9" y="4.2">30</text></g>
<g transform="translate(1305.7 581.1)rotate(30)"><use href="#s"/><text x="-2.9" y="4.2">31</text></g>
<g transform="translate(1330.7 581.1)rotate(30)"><use href="#s"/><text x="-2.9" y="4.2">32</text></g>
<g transform="translate(495.8 626.1)rotate(30)"><use href="#s"/><text x="-2.9" y="4.2">1</text></g>
<g transform="translate(520.8 626.1)rotate(30)"><use href="#s"/><text x="-2.9" y="4.2">2</text></g>
<g transform="translate(545.8 626.1)rotate(30)"><use href="#s"/><text x="-2.9" y="4.2">3</text></g>
<g transform="translate(570.8 626.1)rotate(30)"><use href="#s"/><text x="-2.9" y="4.2">4</text></g>
<g transform="translate(595.8 626.1)rotate(30)"><use href="#s"/><text x="-2.9" y="4.2">5</text></g>
<g transform="translate(620.8 626.1)rotate(30)"><use href="#s"/><text x="-2.9" y="4.2">6</text></g>
<g transform="translate(645.8 626.1)rotate(30)"><use href="#s"/><text x="-2.9" y="4.2">7</text></g>
<g transform="translate(670.8 626.1)rotate(30)"><use href="#s"/><text x="-2.9" y="4.2">8</text></g>
<g transform="translate(695.8 626.1)rotate(30)"><use href="#s"/><text x="-2.9" y="4.2">9</text></g>
<g transform="translate(720.8 626.1)rotate(30)"><use href="#s"/><text x="-2.9" y="4.2">10</text></g>
<g transform="translate(745.8 626.1)rotate(30)"><use href="#s"/><text x="-2.9" y="4.2">11</text></g>
<g transform="translate(770.8 626.1)rotate(30)"><use href="#s"/><text x="-2.9" y="4.2">12</text></g>
<g transform="translate(795.8 626.1)rotate(30)"><use href="#s"/><text x="-2.9" y="4.2">13</text></g>
<g transform="translate(820.8 626.1)rotate(30)"><use href="#s"/><text x="-2.9" y="4.2">14</text></g>
<g transform="translate(845.8 626.1)rotate(30)"><use href="#s"/><text x="-2.9" y="4.2">15</text></g>
<g transform="translate(870.8 626.1)rotate(30)"><use href="#s"/><text x="-2.9" y="4.2">16</text></g>
<g transform="translate(895.8 626.1)rotate(30)"><use href="#s"/><text x="-2.9" y="4.2">17</text></g>
<g transform="translate(920.8 626.1)rotate(30)"><use href="#s"/><text x="-2.9" y="4.2">18</text></g>
<g transform="translate(945.8 626.1)rotate(30)"><use href="#s"/><text x="-2.9" y="4.2">19</text></g>
<g transform="translate(970.8 626.1)rotate(30)"><use href="#s"/><text x="-2.9" y="4.2">20</text></g>
<g transform="translate(995.8 626.1)rotate(30)"><use href="#s"/><text x="-2.9" y="4.2">21</text></g>
<g transform="translate(1020.8 626.1)rotate(30)"><use href="#s"/><text x="-2.9" y="4.2">22</text></g>
<g transform="translate(1045.8 626.1)rotate(30)"><use href="#s"/><text x="-2.9" y="4.2">23</text></g>
<g transform="translate(1070.8 626.1)rotate(30)"><use href="#s"/><text x="-2.9" y="4.2">24</text></g>
<g transform="translate(1155.7 626.1)rotate(30)"><use href="#s"/><text x="-2.9" y="4.2">25</text></g>
<g transform="translate(1180.7 626.1)rotate(30)"><use href="#s"/><text x="-2.9" y="4.2">26</text></g>
<g transform="translate(1205.7 626.1)rotate(30)"><use href="#s"/><text x="-2.9" y="4.2">27</text></g>
<g transform="translate(1230.7 626.1)rotate(30)"><use href="#s"/><text x="-2.9" y="4.2">28</text></g>
<g transform="translate(1255.7 626.1)rotate(30)"><use href="#s"/><text x="-2.9" y="4.2">29</text></g>
<g transform="translate(1280.7 626.1)rotate(30)"><use href="#s"/><text x="-2.9" y="4.2">30</text></g>
<g transform="translate(1305.7 626.1)rotate(30)"><use href="#s"/><text x="-2.9" y="4.2">31</text></g>
<g transform="translate(1330.7 626.1)rotate(30)"><use href="#s"/><text x="-2.9" y="4.2">32</text></g>
<g transform="translate(495.8 671.1)rotate(30)"><use href="#s"/><text x="-2.9" y="4.2">1</text></g>
<g transform="translate(520.8 671.1)rotate(30)"><use href="#s"/><text x="-2.9" y="4.2">2</text></g>
<g transform="translate(545.8 671.1)rotate(30)"><use href="#s"/><text x="-2.9" y="4.2">3</text></g>
<g transform="translate(570.8 671.1)rotate(30)"><use href="#s"/><text x="-2.9" y="4.2">4</text></g>
<g transform="translate(595.8 671.1)rotate(30)"><use href="#s"/><text x="-2.9" y="4.2">5</text></g>
<g transform="translate(620.8 671.1)rotate(30)"><use href="#s"/><text x="-2.9" y="4.2">6</text></g>
<g transform="translate(645.8 671.1)rotate(30)"><use href="#s"/><text x="-2.9" y="4.2">7</text></g>
<g transform="translate(670.8 671.1)rotate(30)"><use href="#s"/><text x="-2.9" y="4.2">8</text></g>
<g transform="translate(695.8 671.1)rotate(30)"><use href="#s"/><text x="-2.9" y="4.2">9</text></g>
<g transform="translate(720.8 671.1)rotate(30)"><use href="#s"/><text x="-2.9" y="4.2">10</text></g>
<g transform="translate(745.8 671.1)rotate(30)"><use href="#s"/><text x="-2.9" y="4.2">11</text></g>
<g transform="translate(770.8 671.1)rotate(30)"><use href="#s"/><text x="-2.9" y="4.2">12</text></g>
<g transform="translate(795.8 671.1)rotate(30)"><use href="#s"/><text x="-2.9" y="4.2">13</text></g>
<g transform="translate(820.8 671.1)rotate(30)"><use href="#s"/><text x="-2.9" y="4.2">14</text></g>
<g transform="translate(845.8 671.1)rotate(30)"><use href="#s"/><text x="-2.9" y="4.2">15</text></g>
<g transform="translate(870.8 671.1)rotate(30)"><use href="#s"/><text x="-2.9" y="4.2">16</text></g>
<g transform="translate(895.8 671.1)rotate(30)"><use href="#s"/><text x="-2.9" y="4.2">17</text></g>
<g transform="translate(920.8 671.1)rotate(30)"><use href="#s"/><text x="-2.9" y="4.2">18</text></g>
<g transform="translate(945.8 671.1)rotate(30)"><use href="#s"/><text x="-2.9" y="4.2">19</text></g>
<g transform="translate(970.8 671.1)rotate(30)"><use href="#s"/><text x="-2.9" y="4.2">20</text></g>
<g transform="translate(995.8 671.1)rotate(30)"><use href="#s"/><text x="-2.9" y="4.2">21</text></g>
<g transform="translate(1020.8 671.1)rotate(30)"><use href="#s"/><text x="-2.9" y="4.2">22</text></g>
<g transform="translate(1045.8 671.1)rotate(30)"><use href="#s"/><text x="-2.9" y="4.2">23</text></g>
<g transform="translate(1070.8 671.1)rotate(30)"><use href="#s"/><text x="-2.9" y="4.2">24</text></g>
<g transform="translate(1155.7 671.1)rotate(30)"><use href="#s"/><text x="-2.9" y="4.2">25</text></g>
<g transform="translate(1180.7 671.1)rotate(30)"><use href="#s"/><text x="-2.9" y="4.2">26</text></g>
<g transform="translate(1205.7 671.1)rotate(30)"><use href="#s"/><text x="-2.9" y="4.2">27</text></g>
<g transform="translate(1230.7 671.1)rotate(30)"><use href="#s"/><text x="-2.9" y="4.2">28</text></g>
<g transform="translate(1255.7 671.1)rotate(30)"><use href="#s"/><text x="-2.9" y="4.2">29</text></g>
<g transform="translate(1280.7 671.1)rotate(30)"><use href="#s"/><text x="-2.9" y="4.2">30</text></g>
<g transform="translate(1305.7 671.1)rotate(30)"><use href="#s"/><text x="-2.9" y="4.2">31</text></g>
<g transform="translate(1330.7 671.1)rotate(30)"><use href="#s"/><text x="-2.9" y="4.2">32</text></g>
<g transform="translate(495.8 716.1)rotate(30)"><use href="#s"/><text x="-2.9" y="4.2">1</text></g>
<g transform="translate(520.8 716.1)rotate(30)"><use href="#s"/><text x="-2.9" y="4.2">2</text></g>
<g transform="translate(545.8 716.1)rotate(30)"><use href="#s"/><text x="-2.9" y="4.2">3</text></g>
<g transform="translate(570.8 716.1)rotate(30)"><use href="#s"/><text x="-2.9" y="4.2">4</text></g>
<g transform="translate(595.8 716.1)rotate(30)"><use href="#s"/><text x="-2.9" y="4.2">5</text></g>
<g transform="translate(620.8 716.1)rotate(30)"><use href="#s"/><text x="-2.9" y="4.2">6</text></g>
<g transform="translate(645.8 716.1)rotate(30)"><use href="#s"/><text x="-2.9" y="4.2">7</text></g>
<g transform="translate(670.8 716.1)rotate(30)"><use href="#s"/><text x="-2.9" y="4.2">8</text></g>
<g transform="translate(695.8 716.1)rotate(30)"><use href="#s"/><text x="-2.9" y="4.2">9</text></g>
<g transform="translate(720.8 716.1)rotate(30)"><use href="#s"/><text x="-2.9" y="4.2">10</text></g>
<g transform="translate(745.8 716.1)rotate(30)"><use href="#s"/><text x="-2.9" y="4.2">11</text></g>
<g transform="translate(770.8 716.1)rotate(30)"><use href="#s"/><text x="-2.9" y="4.2">12</text></g>
<g transform="translate(795.8 716.1)rotate(30)"><use href="#s"/><text x="-2.9" y="4.2">13</text></g>
<g transform="translate(820.8 716.1)rotate(30)"><use href="#s"/><text x="-2.9" y="4.2">14</text></g>
<g transform="translate(845.8 716.1)rotate(30)"><use href="#s"/><text x="-2.9" y="4.2">15</text></g>
<g transform="translate(870.8 716.1)rotate(30)"><use href="#s"/><text x="-2.9" y="4.2">16</text></g>
<g transform="translate(895.8 716.1)rotate(30)"><use href="#s"/><text x="-2.9" y="4.2">17</text></g>
<g transform="translate(920.8 716.1)rotate(30)"><use href="#s"/><text x="-2.9" y="4.2">18</text></g>
<g transform="translate(945.8 716.1)rotate(30)"><use href="#s"/><text x="-2.9" y="4.2">19</text></g>
<g transform="translate(970.8 716.1)rotate(30)"><use href="#s"/><text x="-2.9" y="4.2">20</text></g>
<g transform="translate(995.8 716.1)rotate(30)"><use href="#s"/><text x="-2.9" y="4.2">21</text></g>
<g transform="translate(1020.8 716.1)rotate(30)"><use href="#s"/><text x="-2.9" y="4.2">22</text></g>
<g transform="translate(1045.8 716.1)rotate(30)"><use href="#s"/><text x="-2.9" y="4.2">23</text></g>
<g transform="translate(1070.8 716.1)rotate(30)"><use href="#s"/><text x="-2.9" y="4.2">24</text></g>
<g transform="translate(1155.7 716.1)rotate(30)"><use href="#s"/><text x="-2.9" y="4.2">25</text></g>
<g transform="translate(1180.7 716.1)rotate(30)"><use href="#s"/><text x="-2.9" y="4.2">26</text></g>
<g transform="translate(1205.7 716.1)rotate(30)"><use href="#s"/><text x="-2.9" y="4.2">27</text></g>
<g transform="translate(1230.7 716.1)rotate(30)"><use href="#s"/><text x="-2.9" y="4.2">28</text></g>
<g transform="translate(1255.7 716.1)rotate(30)"><use href="#s"/><text x="-2.9" y="4.2">29</text></g>
<g transform="translate(1280.7 716.1)rotate(30)"><use href="#s"/><text x="-2.9" y="4.2">30</text></g>
<g transform="translate(1305.7 716.1)rotate(30)"><use href="#s"/><text x="-2.9" y="4.2">31</text></g>
<g transform="translate(1330.7 716.1)rotate(30)"><use href="#s"/><text x="-2.9" y="4.2">32</text></g>
<g transform="translate(495.8 761.1)rotate(30)"><use href="#s"/><text x="-2.9" y="4.2">1</text></g>
<g transform="translate(520.8 761.1)rotate(30)"><use href="#s"/><text x="-2.9" y="4.2">2</text></g>
<g transform="translate(545.8 761.1)rotate(30)"><use href="#s"/><text x="-2.9" y="4.2">3</text></g>
<g transform="translate(570.8 761.1)rotate(30)"><use href="#s"/><text x="-2.9" y="4.2">4</text></g>
<g transform="translate(595.8 761.1)rotate(30)"><use href="#s"/><text x="-2.9" y="4.2">5</text></g>
<g transform="translate(620.8 761.1)rotate(30)"><use href="#s"/><text x="-2.9" y="4.2">6</text></g>
<g transform="translate(645.8 761.1)rotate(30)"><use href="#s"/><text x="-2.9" y="4.2">7</text></g>
<g transform="translate(670.8 761.1)rotate(30)"><use href="#s"/><text x="-2.9" y="4.2">8</text></g>
<g transform="translate(695.8 761.1)rotate(30)"><use href="#s"/><text x="-2.9" y="4.2">9</text></g>
<g transform="translate(720.8 761.1)rotate(30)"><use href="#s"/><text x="-2.9" y="4.2">10</text></g>
<g transform="translate(745.8 761.1)rotate(30)"><use href="#s"/><text x="-2.9" y="4.2">11</text></g>
<g transform="translate(770.8 761.1)rotate(30)"><use href="#s"/><text x="-2.9" y="4.2">12</text></g>
<g transform="translate(795.8 761.1)rotate(30)"><use href="#s"/><text x="-2.9" y="4.2">13</text></g>
<g transform="translate(820.8 761.1)rotate(30)"><use href="#s"/><text x="-2.9" y="4.2">14</text></g>
<g transform="translate(845.8 761.1)rotate(30)"><use href="#s"/><text x="-2.9" y="4.2">15</text></g>
<g transform="translate(870.8 761.1)rotate(30)"><use href="#s"/><text x="-2.9" y="4.2">16</text></g>
<g transform="translate(895.8 761.1)rotate(30)"><use href="#s"/><text x="-2.9" y="4.2">17</text></g>
<g transform="translate(920.8 761.1)rotate(30)"><use href="#s"/><text x="-2.9" y="4.2">18</text></g>
<g transform="translate(945.8 761.1)rotate(30)"><use href="#s"/><text x="-2.9" y="4.2">19</text></g>
<g transform="translate(970.8 761.1)rotate(30)"><use href="#s"/><text x="-2.9" y="4.2">20</text></g>
<g transform="translate(995.8 761.1)rotate(30)"><use href="#s"/><text x="-2.9" y="4.2">21</text></g>
<g transform="translate(1020.8 761.1)rotate(30)"><use href="#s"/><text x="-2.9" y="4.2">22</text></g>
<g transform="translate(1045.8 761.1)rotate(30)"><use href="#s"/><text x="-2.9" y="4.2">23</text></g>
<g transform="translate(1070.8 761.1)rotate(30)"><use href="#s"/><text x="-2.9" y="4.2">24</text></g>
<g transform="translate(1155.7 761.1)rotate(30)"><use href="#s"/><text x="-2.9" y="4.2">25</text></g>
<g transform="translate(1180.7 761.1)rotate(30)"><use href="#s"/><text x="-2.9" y="4.2">26</text></g>
<g transform="translate(1205.7 761.1)rotate(30)"><use href="#s"/><text x="-2.9" y="4.2">27</text></g>
<g transform="translate(1230.7 761.1)rotate(30)"><use href="#s"/><text x="-2.9" y="4.2">28</text></g>
<g transform="translate(1255.7 761.1)rotate(30)"><use href="#s"/><text x="-2.9" y="4.2">29</text></g>
<g transform="translate(1280.7 761.1)rotate(30)"><use href="#s"/><text x="-2.9" y="4.2">30</text></g>
<g transform="translate(1305.7 761.1)rotate(30)"><use href="#s"/><text x="-2.9" y="4.2">31</text></g>
<g transform="translate(1330.7 761.1)rotate(30)"><use href="#s"/><text x="-2.9" y="4.2">32</text></g>
<g transform="translate(495.8 806.1)rotate(30)"><use href="#s"/><text x="-2.9" y="4.2">1</text></g>
<g transform="translate(520.8 806.1)rotate(30)"><use href="#s"/><text x="-2.9" y="4.2">2</text></g>
<g transform="translate(545.8 806.1)rotate(30)"><use href="#s"/><text x="-2.9" y="4.2">3</text></g>
<g transform="translate(570.8 806.1)rotate(30)"><use href="#s"/><text x="-2.9" y="4.2">4</text></g>
<g transform="translate(595.8 806.1)rotate(30)"><use href="#s"/><text x="-2.9" y="4.2">5</text></g>
<g transform="translate(620.8 806.1)rotate(30)"><use href="#s"/><text x="-2.9" y="4.2">6</text></g>
<g transform="translate(645.8 806.1)rotate(30)"><use href="#s"/><text x="-2.9" y="4.2">7</text></g>
<g transform="translate(670.8 806.1)rotate(30)"><use href="#s"/><text x="-2.9" y="4.2">8</text></g>
<g transform="translate(695.8 806.1)rotate(30)"><use href="#s"/><text x="-2.9" y="4.2">9</text></g>
<g transform="translate(720.8 806.1)rotate(30)"><use href="#s"/><text x="-2.9" y="4.2">10</text></g>
<g transform="translate(745.8 806.1)rotate(30)"><use href="#s"/><text x="-2.9" y="4.2">11</text></g>
<g transform="translate(770.8 806.1)rotate(30)"><use href="#s"/><text x="-2.9" y="4.2">12</text></g>
<g transform="translate(795.8 806.1)rotate(30)"><use href="#s"/><text x="-2.9" y="4.2">13</text></g>
<g transform="translate(820.8 806.1)rotate(30)"><use href="#s"/><text x="-2.9" y="4.2">14</text></g>
<g transform="translate(845.8 806.1)rotate(30)"><use href="#s"/><text x="-2.9" y="4.2">15</text></g>
<g transform="translate(870.8 806.1)rotate(30)"><use href="#s"/><text x="-2.9" y="4.2">16</text></g>
<g transform="translate(895.8 806.1)rotate(30)"><use href="#s"/><text x="-2.9" y="4.2">17</text></g>
<g transform="translate(920.8 806.1)rotate(30)"><use href="#s"/><text x="-2.9" y="4.2">18</text></g>
<g transform="translate(945.8 806.1)rotate(30)"><use href="#s"/><text x="-2.9" y="4.2">19</text></g>
<g transform="translate(970.8 806.1)rotate(30)"><use href="#s"/><text x="-2.9" y="4.2">20</text></g>
<g transform="translate(995.8 806.1)rotate(30)"><use href="#s"/><text x="-2.9" y="4.2">21</text></g>
<g transform="translate(1020.8 806.1)rotate(30)"><use href="#s"/><text x="-2.9" y="4.2">22</text></g>
<g transform="translate(1045.8 806.1)rotate(30)"><use href="#s"/><text x="-2.9" y="4.2">23</text></g>
<g transform="translate(1070.8 806.1)rotate(30)"><use href="#s"/><text x="-2.9" y="4.2">24</text></g>
<g transform="translate(1155.7 806.1)rotate(30)"><use href="#s"/><text x="-2.9" y="4.2">25</text></g>
<g transform="translate(1180.7 806.1)rotate(30)"><use href="#s"/><text x="-2.9" y="4.2">26</text></g>
<g transform="translate(1205.7 806.1)rotate(30)"><use href="#s"/><text x="-2.9" y="4.2">27</text></g>
<g transform="translate(1230.7 806.1)rotate(30)"><use href="#s"/><text x="-2.9" y="4.2">28</text></g>
<g transform="translate(1255.7 806.1)rotate(30)"><use href="#s"/><text x="-2.9" y="4.2">29</text></g>
<g transform="translate(1280.7 806.1)rotate(30)"><use href="#s"/><text x="-2.9" y="4.2">30</text></g>
<g transform="translate(1305.7 806.1)rotate(30)"><use href="#s"/><text x="-2.9" y="4.2">31</text></g>
<g transform="translate(1330.7 806.1)rotate(30)"><use href="#s"/><text x="-2.9" y="4.2">32</text></g>
<g transform="translate(495.8 851.1)rotate(30)"><use href="#s"/><text x="-2.9" y="4.2">1</text></g>
<g transform="translate(520.8 851.1)rotate(30)"><use href="#s"/><text x="-2.9" y="4.2">2</text></g>
<g transform="translate(545.8 851.1)rotate(30)"><use href="#s"/><text x="-2.9" y="4.2">3</text></g>
<g transform="translate(570.8 851.1)rotate(30)"><use href="#s"/><text x="-2.9" y="4.2">4</text></g>
<g transform="translate(595.8 851.1)rotate(30)"><use href="#s"/><text x="-2.9" y="4.2">5</text></g>
<g transform="translate(620.8 851.1)rotate(30)"><use href="#s"/><text x="-2.9" y="4.2">6</text></g>
<g transform="translate(645.8 851.1)rotate(30)"><use href="#s"/><text x="-2.9" y="4.2">7</text></g>
<g transform="translate(670.8 851.1)rotate(30)"><use href="#s"/><text x="-2.9" y="4.2">8</text></g>
<g transform="translate(695.8 851.1)rotate(30)"><use href="#s"/><text x="-2.9" y="4.2">9</text></g>
<g transform="translate(720.8 851.1)rotate(30)"><use href="#s"/><text x="-2.9" y="4.2">10</text></g>
<g transform="translate(745.8 851.1)rotate(30)"><use href="#s"/><text x="-2.9" y="4.2">11</text></g>
<g transform="translate(770.8 851.1)rotate(30)"><use href="#s"/><text x="-2.9" y="4.2">12</text></g>
<g transform="translate(795.8 851.1)rotate(30)"><use href="#s"/><text x="-2.9" y="4.2">13</text></g>
<g transform="translate(820.8 851.1)rotate(30)"><use href="#s"/><text x="-2.9" y="4.2">14</text></g>
<g transform="translate(845.8 851.1)rotate(30)"><use href="#s"/><text x="-2.9" y="4.2">15</text></g>
<g transform="translate(870.8 851.1)rotate(30)"><use href="#s"/><text x="-2.9" y="4.2">16</text></g>
<g transform="translate(895.8 851.1)rotate(30)"><use href="#s"/><text x="-2.9" y="4.2">17</text></g>
<g transform="translate(920.8 851.1)rotate(30)"><use href="#s"/><text x="-2.9" y="4.2">18</text></g>
<g transform="translate(945.8 851.1)rotate(30)"><use href="#s"/><text x="-2.9" y="4.2">19</text></g>
<g transform="translate(970.8 851.1)rotate(30)"><use href="#s"/><text x="-2.9" y="4.2">20</text></g>
<g transform="translate(995.8 851.1)rotate(30)"><use href="#s"/><text x="-2.9" y="4.2">21</text></g>
<g transform="translate(1020.8 851.1)rotate(30)"><use href="#s"/><text x="-2.9" y="4.2">22</text></g>
<g transform="translate(1045.8 851.1)rotate(30)"><use href="#s"/><text x="-2.9" y="4.2">23</text></g>
<g transform="translate(1070.8 851.1)rotate(30)"><use href="#s"/><text x="-2.9" y="4.2">24</text></g>
<g transform="translate(1155.7 851.1)rotate(30)"><use href="#s"/><text x="-2.9" y="4.2">25</text></g>
<g transform="translate(1180.7 851.1)rotate(30)"><use href="#s"/><text x="-2.9" y="4.2">26</text></g>
<g transform="translate(1205.7 851.1)rotate(30)"><use href="#s"/><text x="-2.9" y="4.2">27</text></g>
<g transform="translate(1230.7 851.1)rotate(30)"><use href="#s"/><text x="-2.9" y="4.2">28</text></g>
<g transform="translate(1255.7 851.1)rotate(30)"><use href="#s"/><text x="-2.9" y="4.2">29</text></g>
<g transform="translate(1280.7 851.1)rotate(30)"><use href="#s"/><text x="-2.9" y="4.2">30</text></g>
<g transform="translate(1305.7 851.1)rotate(30)"><use href="#s"/><text x="-2.9" y="4.2">31</text></g>
<g transform="translate(1330.7 851.1)rotate(30)"><use href="#s"/><text x="-2.9" y="4.2">32</text></g>
<g transform="translate(495.8 926.1)rotate(30)"><use href="#s"/><text x="-2.9" y="4.2">1</text></g>
<g transform="translate(520.8 926.1)rotate(30)"><use href="#s"/><text x="-2.9" y="4.2">2</text></g>
<g transform="translate(545.8 926.1)rotate(30)"><use href="#s"/><text x="-2.9" y="4.2">3</text></g>
<g transform="translate(570.8 926.1)rotate(30)"><use href="#s"/><text x="-2.9" y="4.2">4</text></g>
<g transform="translate(595.8 926.1)rotate(30)"><use href="#s"/><text x="-2.9" y="4.2">5</text></g>
<g transform="translate(620.8 926.1)rotate(30)"><use href="#s"/><text x="-2.9" y="4.2">6</text></g>
<g transform="translate(645.8 926.1)rotate(30)"><use href="#s"/><text x="-2.9" y="4.2">7</text></g>
<g transform="translate(670.8 926.1)rotate(30)"><use href="#s"/><text x="-2.9" y="4.2">8</text></g>
<g transform="translate(695.8 926.1)rotate(30)"><use href="#s"/><text x="-2.9" y="4.2">9</text></g>
<g transform="translate(720.8 926.1)rotate(30)"><use href="#s"/><text x="-2.9" y="4.2">10</text></g>
<g transform="translate(745.8 926.1)rotate(30)"><use href="#s"/><text x="-2.9" y="4.2">11</text></g>
<g transform="translate(770.8 926.1)rotate(30)"><use href="#s"/><text x="-2.9" y="4.2">12</text></g>
<g transform="translate(795.8 926.1)rotate(30)"><use href="#s"/><text x="-2.9" y="4.2">13</text></g>
<g transform="translate(820.8 926.1)rotate(30)"><use href="#s"/><text x="-2.9" y="4.2">14</text></g>
<g transform="translate(845.8 926.1)rotate(30)"><use href="#s"/><text x="-2.9" y="4.2">15</text></g>
<g transform="translate(870.8 926.1)rotate(30)"><use href="#s"/><text x="-2.9" y="4.2">16</text></g>
<g transform="translate(895.8 926.1)rotate(30)"><use href="#s"/><text x="-2.9" y="4.2">17</text></g>
<g transform="translate(920.8 926.1)rotate(30)"><use href="#s"/><text x="-2.9" y="4.2">18</text></g>
<g transform="translate(945.8 926.1)rotate(30)"><use href="#s"/><text x="-2.9" y="4.2">19</text></g>
<g transform="translate(970.8 926.1)rotate(30)"><use href="#s"/><text x="-2.9" y="4.2">20</text></g>
<g transform="translate(995.8 926.1)rotate(30)"><use href="#s"/><text x="-2.9" y="4.2">21</text></g>
<g transform="translate(1020.8 926.1)rotate(30)"><use href="#s"/><text x="-2.9" y="4.2">22</text></g>
<g transform="translate(1045.8 926.1)rotate(30)"><use href="#s"/><text x="-2.9" y="4.2">23</text></g>
<g transform="translate(1070.8 926.1)rotate(30)"><use href="#s"/><text x="-2.9" y="4.2">24</text></g>
<g transform="translate(1155.7 926.1)rotate(30)"><use href="#s"/><text x="-2.9" y="4.2">25</text></g>
<g transform="translate(1180.7 926.1)rotate(30)"><use href="#s"/><text x="-2.9" y="4.2">26</text></g>
<g transform="translate(1205.7 926.1)rotate(30)"><use href="#s"/><text x="-2.9" y="4.2">27</text></g>
<g transform="translate(1230.7 926.1)rotate(30)"><use href="#s"/><text x="-2.9" y="4.2">28</text></g>
<g transform="translate(1255.7 926.1)rotate(30)"><use href="#s"/><text x="-2.9" y="4.2">29</text></g>
<g transform="translate(1280.7 926.1)rotate(30)"><use href="#s"/><text x="-2.9" y="4.2">30</text></g>
<g transform="translate(1305.7 926.1)rotate(30)"><use href="#s"/><text x="-2.9" y="4.2">31</text></g>
<g transform="translate(1330.7 926.1)rotate(30)"><use href="#s"/><text x="-2.9" y="4.2">32</text></g>
<g transform="translate(495.8 971.1)rotate(30)"><use href="#s"/><text x="-2.9" y="4.2">1</text></g>
<g transform="translate(520.8 971.1)rotate(30)"><use href="#s"/><text x="-2.9" y="4.2">2</text></g>
<g transform="translate(545.8 971.1)rotate(30)"><use href="#s"/><text x="-2.9" y="4.2">3</text></g>
<g transform="translate(570.8 971.1)rotate(30)"><use href="#s"/><text x="-2.9" y="4.2">4</text></g>
<g transform="translate(595.8 971.1)rotate(30)"><use href="#s"/><text x="-2.9" y="4.2">5</text></g>
<g transform="translate(620.8 971.1)rotate(30)"><use href="#s"/><text x="-2.9" y="4.2">6</text></g>
<g transform="translate(645.8 971.1)rotate(30)"><use href="#s"/><text x="-2.9" y="4.2">7</text></g>
<g transform="translate(670.8 971.1)rotate(30)"><use href="#s"/><text x="-2.9" y="4.2">8</text></g>
<g transform="translate(695.8 971.1)rotate(30)"><use href="#s"/><text x="-2.9" y="4.2">9</text></g>
<g transform="translate(720.8 971.1)rotate(30)"><use href="#s"/><text x="-2.9" y="4.2">10</text></g>
<g transform="translate(745.8 971.1)rotate(30)"><use href="#s"/><text x="-2.9" y="4.2">11</text></g>
<g transform="translate(770.8 971.1)rotate(30)"><use href="#s"/><text x="-2.9" y="4.2">12</text></g>
<g transform="translate(795.8 971.1)rotate(30)"><use href="#s"/><text x="-2.9" y="4.2">13</text></g>
<g transform="translate(820.8 971.1)rotate(30)"><use href="#s"/><text x="-2.9" y="4.2">14</text></g>
<g transform="translate(845.8 971.1)rotate(30)"><use href="#s"/><text x="-2.9" y="4.2">15</text></g>
<g transform="translate(870.8 971.1)rotate(30)"><use href="#s"/><text x="-2.9" y="4.2">16</text></g>
<g transform="translate(895.8 971.1)rotate(30)"><use href="#s"/><text x="-2.9" y="4.2">17</text></g>
<g transform="translate(920.8 971.1)rotate(30)"><use href="#s"/><text x="-2.9" y="4.2">18</text></g>
<g transform="translate(945.8 971.1)rotate(30)"><use href="#s"/><text x="-2.9" y="4.2">19</text></g>
<g transform="translate(970.8 971.1)rotate(30)"><use href="#s"/><text x="-2.9" y="4.2">20</text></g>
<g transform="translate(995.8 971.1)rotate(30)"><use href="#s"/><text x="-2.9" y="4.2">21</text></g>
<g transform="translate(1020.8 971.1)rotate(30)"><use href="#s"/><text x="-2.9" y="4.2">22</text></g>
<g transform="translate(1045.8 971.1)rotate(30)"><use href="#s"/><text x="-2.9" y="4.2">23</text></g>
<g transform="translate(1070.8 971.1)rotate(30)"><use href="#s"/><text x="-2.9" y="4.2">24</text></g>
<g transform="translate(1155.7 971.1)rotate(30)"><use href="#s"/><text x="-2.9" y="4.2">25</text></g>
<g transform="translate(1180.7 971.1)rotate(30)"><use href="#s"/><text x="-2.9" y="4.2">26</text></g>
<g transform="translate(1205.7 971.1)rotate(30)"><use href="#s"/><text x="-2.9" y="4.2">27</text></g>
<g transform="translate(1230.7 971.1)rotate(30)"><use href="#s"/><text x="-2.9" y="4.2">28</text></g>
<g transform="translate(1255.7 971.1)rotate(30)"><use href="#s"/><text x="-2.9" y="4.2">29</text></g>
<g transform="translate(1280.7 971.1)rotate(30)"><use href="#s"/><text x="-2.9" y="4.2">30</text></g>
<g transform="translate(1305.7 971.1)rotate(30)"><use href="#s"/><text x="-2.9" y="4.2">31</text></g>
<g transform="translate(1330.7 971.1)rotate(30)"><use href="#s"/><text x="-2.9" y="4.2">32</text></g>
<g transform="translate(495.8 1016.1)rotate(30)"><use href="#s"/><text x="-2.9" y="4.2">1</text></g>
<g transform="translate(520.8 1016.1)rotate(30)"><use href="#s"/><text x="-2.9" y="4.2">2</text></g>
<g transform="translate(545.8 1016.1)rotate(30)"><use href="#s"/><text x="-2.9" y="4.2">3</text></g>
<g transform="translate(570.8 1016.1)rotate(30)"><use href="#s"/><text x="-2.9" y="4.2">4</text></g>
<g transform="translate(595.8 1016.1)rotate(30)"><use href="#s"/><text x="-2.9" y="4.2">5</text></g>
<g transform="translate(620.8 1016.1)rotate(30)"><use href="#s"/><text x="-2.9" y="4.2">6</text></g>
<g transform="translate(645.8 1016.1)rotate(30)"><use href="#s"/><text x="-2.9" y="4.2">7</text></g>
<g transform="translate(670.8 1016.1)rotate(30)"><use href="#s"/><text x="-2.9" y="4.2">8</text></g>
<g transform="translate(695.8 1016.1)rotate(30)"><use href="#s"/><text x="-2.9" y="4.2">9</text></g>
<g transform="translate(720.8 1016.1)rotate(30)"><use href="#s"/><text x="-2.9" y="4.2">10</text></g>
<g transform="translate(745.8 1016.1)rotate(30)"><use href="#s"/><text x="-2.9" y="4.2">11</text></g>
<g transform="translate(770.8 1016.1)rotate(30)"><use href="#s"/><text x="-2.9" y="4.2">12</text></g>
<g transform="translate(795.8 1016.1)rotate(30)"><use href="#s"/><text x="-2.9" y="4.2">13</text></g>
<g transform="translate(820.8 1016.1)rotate(30)"><use href="#s"/><text x="-2.9" y="4.2">14</text></g>
<g transform="translate(845.8 1016.1)rotate(30)"><use href="#s"/><text x="-2.9" y="4.2">15</text></g>
<g transform="translate(870.8 1016.1)rotate(30)"><use href="#s"/><text x="-2.9" y="4.2">16</text></g>
<g transform="translate(895.8 1016.1)rotate(30)"><use href="#s"/><text x="-2.9" y="4.2">17</text></g>
<g transform="translate(920.8 1016.1)rotate(30)"><use href="#s"/><text x="-2.9" y="4.2">18</text></g>
<g transform="translate(945.8 1016.1)rotate(30)"><use href="#s"/><text x="-2.9" y="4.2">19</text></g>
<g transform="translate(970.8 1016.1)rotate(30)"><use href="#s"/><text x="-2.9" y="4.2">20</text></g>
<g transform="translate(995.8 1016.1)rotate(30)"><use href="#s"/><text x="-2.9" y="4.2">21</text></g>
<g transform="translate(1020.8 1016.1)rotate(30)"><use href="#s"/><text x="-2.9" y="4.2">22</text></g>
<g transform="translate(1045.8 1016.1)rotate(30)"><use href="#s"/><text x="-2.9" y="4.2">23</text></g>
<g transform="translate(1070.8 1016.1)rotate(30)"><use href="#s"/><text x="-2.9" y="4.2">24</text></g>
<g transform="translate(1155.7 1016.1)rotate(30)"><use href="#s"/><text x="-2.9" y="4.2">25</text></g>
<g transform="translate(1180.7 1016.1)rotate(30)"><use href="#s"/><text x="-2.9" y="4.2">26</text></g>
<g transform="translate(1205.7 1016.1)rotate(30)"><use href="#s"/><text x="-2.9" y="4.2">27</text></g>
<g transform="translate(1230.7 1016.1)rotate(30)"><use href="#s"/><text x="-2.9" y="4.2">28</text></g>
<g transform="translate(1255.7 1016.1)rotate(30)"><use href="#s"/><text x="-2.9" y="4.2">29</text></g>
<g transform="translate(1280.7 1016.1)rotate(30)"><use href="#s"/><text x="-2.9" y="4.2">30</text></g>
<g transform="translate(1305.7 1016.1)rotate(30)"><use href="#s"/><text x="-2.9" y="4.2">31</text></g>
<g transform="translate(1330.7 1016.1)rotate(30)"><use href="#s"/><text x="-2.9" y="4.2">32</text></g>
<g transform="translate(495.8 1061.1)rotate(30)"><use href="#s"/><text x="-2.9" y="4.2">1</text></g>
<g transform="translate(520.8 1061.1)rotate(30)"><use href="#s"/><text x="-2.9" y="4.2">2</text></g>
<g transform="translate(545.8 1061.1)rotate(30)"><use href="#s"/><text x="-2.9" y="4.2">3</text></g>
<g transform="translate(570.8 1061.1)rotate(30)"><use href="#s"/><text x="-2.9" y="4.2">4</text></g>
<g transform="translate(595.8 1061.1)rotate(30)"><use href="#s"/><text x="-2.9" y="4.2">5</text></g>
<g transform="translate(620.8 1061.1)rotate(30)"><use href="#s"/><text x="-2.9" y="4.2">6</text></g>
<g transform="translate(645.8 1061.1)rotate(30)"><use href="#s"/><text x="-2.9" y="4.2">7</text></g>
<g transform="translate(670.8 1061.1)rotate(30)"><use href="#s"/><text x="-2.9" y="4.2">8</text></g>
<g transform="translate(695.8 1061.1)rotate(30)"><use href="#s"/><text x="-2.9" y="4.2">9</text></g>
<g transform="translate(720.8 1061.1)rotate(30)"><use href="#s"/><text x="-2.9" y="4.2">10</text></g>
<g transform="translate(745.8 1061.1)rotate(30)"><use href="#s"/><text x="-2.9" y="4.2">11</text></g>
<g transform="translate(770.8 1061.1)rotate(30)"><use href="#s"/><text x="-2.9" y="4.2">12</text></g>
<g transform="translate(795.8 1061.1)rotate(30)"><use href="#s"/><text x="-2.9" y="4.2">13</text></g>
<g transform="translate(820.8 1061.1)rotate(30)"><use href="#s"/><text x="-2.9" y="4.2">14</text></g>
<g transform="translate(845.8 1061.1)rotate(30)"><use href="#s"/><text x="-2.9" y="4.2">15</text></g>
<g transform="translate(870.8 1061.1)rotate(30)"><use href="#s"/><text x="-2.9" y="4.2">16</text></g>
<g transform="translate(895.8 1061.1)rotate(30)"><use href="#s"/><text x="-2.9" y="4.2">17</text></g>
<g transform="translate(920.8 1061.1)rotate(30)"><use href="#s"/><text x="-2.9" y="4.2">18</text></g>
<g transform="translate(945.8 1061.1)rotate(30)"><use href="#s"/><text x="-2.9" y="4.2">19</text></g>
<g transform="translate(970.8 1061.1)rotate(30)"><use href="#s"/><text x="-2.9" y="4.2">20</text></g>
<g transform="translate(995.8 1061.1)rotate(30)"><use href="#s"/><text x="-2.9" y="4.2">21</text></g>
<g transform="translate(1020.8 1061.1)rotate(30)"><use href="#s"/><text x="-2.9" y="4.2">22</text></g>
<g transform="translate(1045.8 1061.1)rotate(30)"><use href="#s"/><text x="-2.9" y="4.2">23</text></g>
<g transform="translate(1070.8 1061.1)rotate(30)"><use href="#s"/><text x="-2.9" y="4.2">24</text></g>
<g transform="translate(1155.7 1061.1)rotate(30)"><use href="#s"/><text x="-2.9" y="4.2">25</text></g>
<g transform="translate(1180.7 1061.1)rotate(30)"><use href="#s"/><text x="-2.9" y="4.2">26</text></g>
<g transform="translate(1205.7 1061.1)rotate(30)"><use href="#s"/><text x="-2.9" y="4.2">27</text></g>
<g transform="translate(1230.7 1061.1)rotate(30)"><use href="#s"/><text x="-2.9" y="4.2">28</text></g>
<g transform="translate(1255.7 1061.1)rotate(30)"><use href="#s"/><text x="-2.9" y="4.2">29</text></g>
<g transform="translate(1280.7 1061.1)rotate(30)"><use href="#s"/><text x="-2.9" y="4.2">30</text></g>
<g transform="translate(1305.7 1061.1)rotate(30)"><use href="#s"/><text x="-2.9" y="4.2">31</text></g>
<g transform="translate(1330.7 1061.1)rotate(30)"><use href="#s"/><text x="-2.9" y="4.2">32</text></g>
<g transform="translate(495.8 1106.1)rotate(30)"><use href="#s"/><text x="-2.9" y="4.2">1</text></g>
<g transform="translate(520.8 1106.1)rotate(30)"><use href="#s"/><text x="-2.9" y="4.2">2</text></g>
<g transform="translate(545.8 1106.1)rotate(30)"><use href="#s"/><text x="-2.9" y="4.2">3</text></g>
<g transform="translate(570.8 1106.1)rotate(30)"><use href="#s"/><text x="-2.9" y="4.2">4</text></g>
<g transform="translate(595.8 1106.1)rotate(30)"><use href="#s"/><text x="-2.9" y="4.2">5</text></g>
<g transform="translate(620.8 1106.1)rotate(30)"><use href="#s"/><text x="-2.9" y="4.2">6</text></g>
<g transform="translate(645.8 1106.1)rotate(30)"><use href="#s"/><text x="-2.9" y="4.2">7</text></g>
<g transform="translate(670.8 1106.1)rotate(30)"><use href="#s"/><text x="-2.9" y="4.2">8</text></g>
<g transform="translate(695.8 1106.1)rotate(30)"><use href="#s"/><text x="-2.9" y="4.2">9</text></g>
<g transform="translate(720.8 1106.1)rotate(30)"><use href="#s"/><text x="-2.9" y="4.2">10</text></g>
<g transform="translate(745.8 1106.1)rotate(30)"><use href="#s"/><text x="-2.9" y="4.2">11</text></g>
<g transform="translate(770.8 1106.1)rotate(30)"><use href="#s"/><text x="-2.9" y="4.2">12</text></g>
<g transform="translate(795.8 1106.1)rotate(30)"><use href="#s"/><text x="-2.9" y="4.2">13</text></g>
<g transform="translate(820.8 1106.1)rotate(30)"><use href="#s"/><text x="-2.9" y="4.2">14</text></g>
<g transform="translate(845.8 1106.1)rotate(30)"><use href="#s"/><text x="-2.9" y="4.2">15</text></g>
<g transform="translate(870.8 1106.1)rotate(30)"><use href="#s"/><text x="-2.9" y="4.2">16</text></g>
<g transform="translate(895.8 1106.1)rotate(30)"><use href="#s"/><text x="-2.9" y="4.2">17</text></g>
<g transform="translate(920.8 1106.1)rotate(30)"><use href="#s"/><text x="-2.9" y="4.2">18</text></g>
<g transform="translate(945.8 1106.1)rotate(30)"><use href="#s"/><text x="-2.9" y="4.2">19</text></g>
<g transform="translate(970.8 1106.1)rotate(30)"><use href="#s"/><text x="-2.9" y="4.2">20</text></g>
<g transform="translate(995.8 1106.1)rotate(30)"><use href="#s"/><text x="-2.9" y="4.2">21</text></g>
<g transform="translate(1020.8 1106.1)rotate(30)"><use href="#s"/><text x="-2.9" y="4.2">22</text></g>
<g transform="translate(1045.8 1106.1)rotate(30)"><use href="#s"/><text x="-2.9" y="4.2">23</text></g>
<g transform="translate(1070.8 1106.1)rotate(30)"><use href="#s"/><text x="-2.9" y="4.2">24</text></g>
<g transform="translate(1155.7 1106.1)rotate(30)"><use href="#s"/><text x="-2.9" y="4.2">25</text></g>
<g transform="translate(1180.7 1106.1)rotate(30)"><use href="#s"/><text x="-2.9" y="4.2">26</text></g>
<g transform="translate(1205.7 1106.1)rotate(30)"><use href="#s"/><text x="-2.9" y="4.2">27</text></g>
<g transform="translate(1230.7 1106.1)rotate(30)"><use href="#s"/><text x="-2.9" y="4.2">28</text></g>
<g transform="translate(1255.7 1106.1)rotate(30)"><use href="#s"/><text x="-2.9" y="4.2">29</text></g>
<g transform="translate(1280.7 1106.1)rotate(30)"><use href="#s"/><text x="-2.9" y="4.2">30</text></g>
<g transform="translate(1305.7 1106.1)rotate(30)"><use href="#s"/><text x="-2.9" y="4.2">31</text></g>
<g transform="translate(1330.7 1106.1)rotate(30)"><use href="#s"/><text x="-2.9" y="4.2">32</text></g>
<g transform="translate(495.8 1151.1)rotate(30)"><use href="#s"/><text x="-2.9" y="4.2">1</text></g>
<g transform="translate(520.8 1151.1)rotate(30)"><use href="#s"/><text x="-2.9" y="4.2">2</text></g>
<g transform="translate(545.8 1151.1)rotate(30)"><use href="#s"/><text x="-2.9" y="4.2">3</text></g>
<g transform="translate(570.8 1151.1)rotate(30)"><use href="#s"/><text x="-2.9" y="4.2">4</text></g>
<g transform="translate(595.8 1151.1)rotate(30)"><use href="#s"/><text x="-2.9" y="4.2">5</text></g>
<g transform="translate(620.8 1151.1)rotate(30)"><use href="#s"/><text x="-2.9" y="4.2">6</text></g>
<g transform="translate(645.8 1151.1)rotate(30)"><use href="#s"/><text x="-2.9" y="4.2">7</text></g>
<g transform="translate(670.8 1151.1)rotate(30)"><use href="#s"/><text x="-2.9" y="4.2">8</text></g>
<g transform="translate(695.8 1151.1)rotate(30)"><use href="#s"/><text x="-2.9" y="4.2">9</text></g>
<g transform="translate(720.8 1151.1)rotate(30)"><use href="#s"/><text x="-2.9" y="4.2">10</text></g>
<g transform="translate(745.8 1151.1)rotate(30)"><use href="#s"/><text x="-2.9" y="4.2">11</text></g>
<g transform="translate(770.8 1151.1)rotate(30)"><use href="#s"/><text x="-2.9" y="4.2">12</text></g>
<g transform="translate(795.8 1151.1)rotate(30)"><use href="#s"/><text x="-2.9" y="4.2">13</text></g>
<g transform="translate(820.8 1151.1)rotate(30)"><use href="#s"/><text x="-2.9" y="4.2">14</text></g>
<g transform="translate(845.8 1151.1)rotate(30)"><use href="#s"/><text x="-2.9" y="4.2">15</text></g>
<g transform="translate(870.8 1151.1)rotate(30)"><use href="#s"/><text x="-2.9" y="4.2">16</text></g>
<g transform="translate(895.8 1151.1)rotate(30)"><use href="#s"/><text x="-2.9" y="4.2">17</text></g>
<g transform="translate(920.8 1151.1)rotate(30)"><use href="#s"/><text x="-2.9" y="4.2">18</text></g>
<g transform="translate(945.8 1151.1)rotate(30)"><use href="#s"/><text x="-2.9" y="4.2">19</text></g>
<g transform="translate(970.8 1151.1)rotate(30)"><use href="#s"/><text x="-2.9" y="4.2">20</text></g>
<g transform="translate(995.8 1151.1)rotate(30)"><use href="#s"/><text x="-2.9" y="4.2">21</text></g>
<g transform="translate(1020.8 1151.1)rotate(30)"><use href="#s"/><text x="-2.9" y="4.2">22</text></g>
<g transform="translate(1045.8 1151.1)rotate(30)"><use href="#s"/><text x="-2.9" y="4.2">23</text></g>
<g transform="translate(1070.8 1151.1)rotate(30)"><use href="#s"/><text x="-2.9" y="4.2">24</text></g>
<g transform="translate(1155.7 1151.1)rotate(30)"><use href="#s"/><text x="-2.9" y="4.2">25</text></g>
<g transform="translate(1180.7 1151.1)rotate(30)"><use href="#s"/><text x="-2.9" y="4.2">26</text></g>
<g transform="translate(1205.7 1151.1)rotate(30)"><use href="#s"/><text x="-2.9" y="4.2">27</text></g>
<g transform="translate(1230.7 1151.1)rotate(30)"><use href="#s"/><text x="-2.9" y="4.2">28</text></g>
<g transform="translate(1255.7 1151.1)rotate(30)"><use href="#s"/><text x="-2.9" y="4.2">29</text></g>
<g transform="translate(1280.7 1151.1)rotate(30)"><use href="#s"/><text x="-2.9" y="4.2">30</text></g>
<g transform="translate(1305.7 1151.1)rotate(30)"><use href="#s"/><text x="-2.9" y="4.2">31</text></g>
<g transform="translate(1330.7 1151.1)rotate(30)"><use href="#s"/><text x="-2.9" y="4.2">32</text></g>
<g transform="translate(495.8 1196.1)rotate(30)"><use href="#s"/><text x="-2.9" y="4.2">1</text></g>
<g transform="translate(520.8 1196.1)rotate(30)"><use href="#s"/><text x="-2.9" y="4.2">2</text></g>
<g transform="translate(545.8 1196.1)rotate(30)"><use href="#s"/><text x="-2.9" y="4.2">3</text></g>
<g transform="translate(570.8 1196.1)rotate(30)"><use href="#s"/><text x="-2.9" y="4.2">4</text></g>
<g transform="translate(595.8 1196.1)rotate(30)"><use href="#s"/><text x="-2.9" y="4.2">5</text></g>
<g transform="translate(620.8 1196.1)rotate(30)"><use href="#s"/><text x="-2.9" y="4.2">6</text></g>
<g transform="translate(645.8 1196.1)rotate(30)"><use href="#s"/><text x="-2.9" y="4.2">7</text></g>
<g transform="translate(670.8 1196.1)rotate(30)"><use href="#s"/><text x="-2.9" y="4.2">8</text></g>
<g transform="translate(695.8 1196.1)rotate(30)"><use href="#s"/><text x="-2.9" y="4.2">9</text></g>
<g transform="translate(720.8 1196.1)rotate(30)"><use href="#s"/><text x="-2.9" y="4.2">10</text></g>
<g transform="translate(745.8 1196.1)rotate(30)"><use href="#s"/><text x="-2.9" y="4.2">11</text></g>
<g transform="translate(770.8 1196.1)rotate(30)"><use href="#s"/><text x="-2.9" y="4.2">12</text></g>
<g transform="translate(795.8 1196.1)rotate(30)"><use href="#s"/><text x="-2.9" y="4.2">13</text></g>
<g transform="translate(820.8 1196.1)rotate(30)"><use href="#s"/><text x="-2.9" y="4.2">14</text></g>
<g transform="translate(845.8 1196.1)rotate(30)"><use href="#s"/><text x="-2.9" y="4.2">15</text></g>
<g transform="translate(870.8 1196.1)rotate(30)"><use href="#s"/><text x="-2.9" y="4.2">16</text></g>
<g transform="translate(895.8 1196.1)rotate(30)"><use href="#s"/><text x="-2.9" y="4.2">17</text></g>
<g transform="translate(920.8 1196.1)rotate(30)"><use href="#s"/><text x="-2.9" y="4.2">18</text></g>
<g transform="translate(945.8 1196.1)rotate(30)"><use href="#s"/><text x="-2.9" y="4.2">19</text></g>
<g transform="translate(970.8 1196.1)rotate(30)"><use href="#s"/><text x="-2.9" y="4.2">20</text></g>
<g transform="translate(995.8 1196.1)rotate(30)"><use href="#s"/><text x="-2.9" y="4.2">21</text></g>
<g transform="translate(1020.8 1196.1)rotate(30)"><use href="#s"/><text x="-2.9" y="4.2">22</text></g>
<g transform="translate(1045.8 1196.1)rotate(30)"><use href="#s"/><text x="-2.9" y="4.2">23</text></g>
<g transform="translate(1070.8 1196.1)rotate(30)"><use href="#s"/><text x="-2.9" y="4.2">24</text></g>
<g transform="translate(1155.7 1196.1)rotate(30)"><use href="#s"/><text x="-2.9" y="4.2">25</text></g>
<g transform="translate(1180.7 1196.1)rotate(30)"><use href="#s"/><text x="-2.9" y="4.2">26</text></g>
<g transform="translate(1205.7 1196.1)rotate(30)"><use href="#s"/><text x="-2.9" y="4.2">27</text></g>
<g transform="translate(1230.7 1196.1)rotate(30)"><use href="#s"/><text x="-2.9" y="4.2">28</text></g>
<g transform="translate(1255.7 1196.1)rotate(30)"><use href="#s"/><text x="-2.9" y="4.2">29</text></g>
<g transform="translate(1280.7 1196.1)rotate(30)"><use href="#s"/><text x="-2.9" y="4.2">30</text></g>
<g transform="translate(1305.7 1196.1)rotate(30)"><use href="#s"/><text x="-2.9" y="4.2">31</text></g>
<g transform="translate(1330.7 1196.1)rotate(30)"><use href="#s"/><text x="-2.9" y="4.2">32</text></g>
<g transform="translate(495.8 1241.1)rotate(30)"><use href="#s"/><text x="-2.9" y="4.2">1</text></g>
<g transform="translate(520.8 1241.1)rotate(30)"><use href="#s"/><text x="-2.9" y="4.2">2</text></g>
<g transform="translate(545.8 1241.1)rotate(30)"><use href="#s"/><text x="-2.9" y="4.2">3</text></g>
<g transform="translate(570.8 1241.1)rotate(30)"><use href="#s"/><text x="-2.9" y="4.2">4</text></g>
<g transform="translate(595.8 1241.1)rotate(30)"><use href="#s"/><text x="-2.9" y="4.2">5</text></g>
<g transform="translate(620.8 1241.1)rotate(30)"><use href="#s"/><text x="-2.9" y="4.2">6</text></g>
<g transform="translate(645.8 1241.1)rotate(30)"><use href="#s"/><text x="-2.9" y="4.2">7</text></g>
<g transform="translate(670.8 1241.1)rotate(30)"><use href="#s"/><text x="-2.9" y="4.2">8</text></g>
<g transform="translate(695.8 1241.1)rotate(30)"><use href="#s"/><text x="-2.9" y="4.2">9</text></g>
<g transform="translate(720.8 1241.1)rotate(30)"><use href="#s"/><text x="-2.9" y="4.2">10</text></g>
<g transform="translate(745.8 1241.1)rotate(30)"><use href="#s"/><text x="-2.9" y="4.2">11</text></g>
<g transform="translate(770.8 1241.1)rotate(30)"><use href="#s"/><text x="-2.9" y="4.2">12</text></g>
<g transform="translate(795.8 1241.1)rotate(30)"><use href="#s"/><text x="-2.9" y="4.2">13</text></g>
<g transform="translate(820.8 1241.1)rotate(30)"><use href="#s"/><text x="-2.9" y="4.2">14</text></g>
<g transform="translate(845.8 1241.1)rotate(30)"><use href="#s"/><text x="-2.9" y="4.2">15</text></g>
<g transform="translate(870.8 1241.1)rotate(30)"><use href="#s"/><text x="-2.9" y="4.2">16</text></g>
<g transform="translate(895.8 1241.1)rotate(30)"><use href="#s"/><text x="-2.9" y="4.2">17</text></g>
<g transform="translate(920.8 1241.1)rotate(30)"><use href="#s"/><text x="-2.9" y="4.2">18</text></g>
<g transform="translate(945.8 1241.1)rotate(30)"><use href="#s"/><text x="-2.9" y="4.2">19</text></g>
<g transform="translate(970.8 1241.1)rotate(30)"><use href="#s"/><text x="-2.9" y="4.2">20</text></g>
<g transform="translate(995.8 1241.1)rotate(30)"><use href="#s"/><text x="-2.9" y="4.2">21</text></g>
<g transform="translate(1020.8 1241.1)rotate(30)"><use href="#s"/><text x="-2.9" y="4.2">22</text></g>
<g transform="translate(1045.8 1241.1)rotate(30)"><use href="#s"/><text x="-2.9" y="4.2">23</text></g>
<g transform="translate(1070.8 1241.1)rotate(30)"><use href="#s"/><text x="-2.9" y="4.2">24</text></g>
<g transform="translate(1155.7 1241.1)rotate(30)"><use href="#s"/><text x="-2.9" y="4.2">25</text></g>
<g transform="translate(1180.7 1241.1)rotate(30)"><use href="#s"/><text x="-2.9" y="4.2">26</text></g>
<g transform="translate(1205.7 1241.1)rotate(30)"><use href="#s"/><text x="-2.9" y="4.2">27</text></g>
<g transform="translate(1230.7 1241.1)rotate(30)"><use href="#s"/><text x="-2.9" y="4.2">28</text></g>
<g transform="translate(1255.7 1241.1)rotate(30)"><use href="#s"/><text x="-2.9" y="4.2">29</text></g>
<g transform="translate(1280.7 1241.1)rotate(30)"><use href="#s"/><text x="-2.9" y="4.2">30</text></g>
<g transform="translate(1305.7 1241.1)rotate(30)"><use href="#s"/><text x="-2.9" y="4.2">31</text></g>
<g transform="translate(1330.7 1241.1)rotate(30)"><use href="#s"/><text x="-2.9" y="4.2">32</text></g>
<g transform="translate(495.8 1286.1)rotate(30)"><use href="#s"/><text x="-2.9" y="4.2">1</text></g>
<g transform="translate(520.8 1286.1)rotate(30)"><use href="#s"/><text x="-2.9" y="4.2">2</text></g>
<g transform="translate(545.8 1286.1)rotate(30)"><use href="#s"/><text x="-2.9" y="4.2">3</text></g>
<g transform="translate(570.8 1286.1)rotate(30)"><use href="#s"/><text x="-2.9" y="4.2">4</text></g>
<g transform="translate(595.8 1286.1)rotate(30)"><use href="#s"/><text x="-2.9" y="4.2">5</text></g>
<g transform="translate(620.8 1286.1)rotate(30)"><use href="#s"/><text x="-2.9" y="4.2">6</text></g>
<g transform="translate(645.8 1286.1)rotate(30)"><use href="#s"/><text x="-2.9" y="4.2">7</text></g>
<g transform="translate(670.8 1286.1)rotate(30)"><use href="#s"/><text x="-2.9" y="4.2">8</text></g>
<g transform="translate(695.8 1286.1)rotate(30)"><use href="#s"/><text x="-2.9" y="4.2">9</text></g>
<g transform="translate(720.8 1286.1)rotate(30)"><use href="#s"/><text x="-2.9" y="4.2">10</text></g>
<g transform="translate(745.8 1286.1)rotate(30)"><use href="#s"/><text x="-2.9" y="4.2">11</text></g>
<g transform="translate(770.8 1286.1)rotate(30)"><use href="#s"/><text x="-2.9" y="4.2">12</text></g>
<g transform="translate(795.8 1286.1)rotate(30)"><use href="#s"/><text x="-2.9" y="4.2">13</text></g>
<g transform="translate(820.8 1286.1)rotate(30)"><use href="#s"/><text x="-2.9" y="4.2">14</text></g>
<g transform="translate(845.8 1286.1)rotate(30)"><use href="#s"/><text x="-2.9" y="4.2">15</text></g>
<g transform="translate(870.8 1286.1)rotate(30)"><use href="#s"/><text x="-2.9" y="4.2">16</text></g>
<g transform="translate(895.8 1286.1)rotate(30)"><use href="#s"/><text x="-2.9" y="4.2">17</text></g>
<g transform="translate(920.8 1286.1)rotate(30)"><use href="#s"/><text x="-2.9" y="4.2">18</text></g>
<g transform="translate(945.8 1286.1)rotate(30)"><use href="#s"/><text x="-2.9" y="4.2">19</text></g>
<g transform="translate(970.8 1286.1)rotate(30)"><use href="#s"/><text x="-2.9" y="4.2">20</text></g>
<g transform="translate(995.8 1286.1)rotate(30)"><use href="#s"/><text x="-2.9" y="4.2">21</text></g>
<g transform="translate(1020.8 1286.1)rotate(30)"><use href="#s"/><text x="-2.9" y="4.2">22</text></g>
<g transform="translate(1045.8 1286.1)rotate(30)"><use href="#s"/><text x="-2.9" y="4.2">23</text></g>
<g transform="translate(1070.8 1286.1)rotate(30)"><use href="#s"/><text x="-2.9" y="4.2">24</text></g>
<g transform="translate(1155.7 1286.1)rotate(30)"><use href="#s"/><text x="-2.9" y="4.2">25</text></g>
<g transform="translate(1180.7 1286.1)rotate(30)"><use href="#s"/><text x="-2.9" y="4.2">26</text></g>
<g transform="translate(1205.7 1286.1)rotate(30)"><use href="#s"/><text x="-2.9" y="4.2">27</text></g>
<g transform="translate(1230.7 1286.1)rotate(30)"><use href="#s"/><text x="-2.9" y="4.2">28</text></g>
<g transform="translate(1255.7 1286.1)rotate(30)"><use href="#s"/><text x="-2.9" y="4.2">29</text></g>
<g transform="translate(1280.7 1286.1)rotate(30)"><use href="#s"/><text x="-2.9" y="4.2">30</text></g>
<g transform="translate(1305.7 1286.1)rotate(30)"><use href="#s"/><text x="-2.9" y="4.2">31</text></g>
<g transform="translate(1330.7 1286.1)rotate(30)"><use href="#s"/><text x="-2.9" y="4.2">32</text></g>
<g transform="translate(495.8 1331.1)rotate(30)"><use href="#s"/><text x="-2.9" y="4.2">1</text></g>
<g transform="translate(520.8 1331.1)rotate(30)"><use href="#s"/><text x="-2.9" y="4.2">2</text></g>
<g transform="translate(545.8 1331.1)rotate(30)"><use href="#s"/><text x="-2.9" y="4.2">3</text></g>
<g transform="translate(570.8 1331.1)rotate(30)"><use href="#s"/><text x="-2.9" y="4.2">4</text></g>
<g transform="translate(595.8 1331.1)rotate(30)"><use href="#s"/><text x="-2.9" y="4.2">5</text></g>
<g transform="translate(620.8 1331.1)rotate(30)"><use href="#s"/><text x="-2.9" y="4.2">6</text></g>
<g transform="translate(645.8 1331.1)rotate(30)"><use href="#s"/><text x="-2.9" y="4.2">7</text></g>
<g transform="translate(670.8 1331.1)rotate(30)"><use href="#s"/><text x="-2.9" y="4.2">8</text></g>
<g transform="translate(695.8 1331.1)rotate(30)"><use href="#s"/><text x="-2.9" y="4.2">9</text></g>
<g transform="translate(720.8 1331.1)rotate(30)"><use href="#s"/><text x="-2.9" y="4.2">10</text></g>
<g transform="translate(745.8 1331.1)rotate(30)"><use href="#s"/><text x="-2.9" y="4.2">11</text></g>
<g transform="translate(770.8 1331.1)rotate(30)"><use href="#s"/><text x="-2.9" y="4.2">12</text></g>
<g transform="translate(795.8 1331.1)rotate(30)"><use href="#s"/><text x="-2.9" y="4.2">13</text></g>
<g transform="translate(820.8 1331.1)rotate(30)"><use href="#s"/><text x="-2.9" y="4.2">14</text></g>
<g transform="translate(845.8 1331.1)rotate(30)"><use href="#s"/><text x="-2.9" y="4.2">15</text></g>
<g transform="translate(870.8 1331.1)rotate(30)"><use href="#s"/><text x="-2.9" y="4.2">16</text></g>
<g transform="translate(895.8 1331.1)rotate(30)"><use href="#s"/><text x="-2.9" y="4.2">17</text></g>
<g transform="translate(920.8 1331.1)rotate(30)"><use href="#s"/><text x="-2.9" y="4.2">18</text></g>
<g transform="translate(945.8 1331.1)rotate(30)"><use href="#s"/><text x="-2.9" y="4.2">19</text></g>
<g transform="translate(970.8 1331.1)rotate(30)"><use href="#s"/><text x="-2.9" y="4.2">20</text></g>
<g transform="translate(995.8 1331.1)rotate(30)"><use href="#s"/><text x="-2.9" y="4.2">21</text></g>
<g transform="translate(1020.8 1331.1)rotate(30)"><use href="#s"/><text x="-2.9" y="4.2">22</text></g>
<g transform="translate(1045.8 1331.1)rotate(30)"><use href="#s"/><text x="-2.9" y="4.2">23</text></g>
<g transform="translate(1070.8 1331.1)rotate(30)"><use href="#s"/><text x="-2.9" y="4.2">24</text></g>
<g transform="translate(1155.7 1331.1)rotate(30)"><use href="#s"/><text x="-2.9" y="4.2">25</text></g>
<g transform="translate(1180.7 1331.1)rotate(30)"><use href="#s"/><text x="-2.9" y="4.2">26</text></g>
<g transform="translate(1205.7 1331.1)rotate(30)"><use href="#s"/><text x="-2.9" y="4.2">27</text></g>
<g transform="translate(1230.7 1331.1)rotate(30)"><use href="#s"/><text x="-2.9" y="4.2">28</text></g>
<g transform="translate(1255.7 1331.1)rotate(30)"><use href="#s"/><text x="-2.9" y="4.2">29</text></g>
<g transform="translate(1280.7 1331.1)rotate(30)"><use href="#s"/><text x="-2.9" y="4.2">30</text></g>
<g transform="translate(1305.7 1331.1)rotate(30)"><use href="#s"/><text x="-2.9" y="4.2">31</text></g>
<g transform="translate(1330.7 1331.1)rotate(30)"><use href="#s"/><text x="-2.9" y="4.2">32</text></g>
<g transform="translate(495.8 1376.1)rotate(30)"><use href="#s"/><text x="-2.9" y="4.2">1</text></g>
<g transform="translate(520.8 1376.1)rotate(30)"><use href="#s"/><text x="-2.9" y="4.2">2</text></g>
<g transform="translate(545.8 1376.1)rotate(30)"><use href="#s"/><text x="-2.9" y="4.2">3</text></g>
<g transform="translate(570.8 1376.1)rotate(30)"><use href="#s"/><text x="-2.9" y="4.2">4</text></g>
<g transform="translate(595.8 1376.1)rotate(30)"><use href="#s"/><text x="-2.9" y="4.2">5</text></g>
<g transform="translate(620.8 1376.1)rotate(30)"><use href="#s"/><text x="-2.9" y="4.2">6</text></g>
<g transform="translate(645.8 1376.1)rotate(30)"><use href="#s"/><text x="-2.9" y="4.2">7</text></g>
<g transform="translate(670.8 1376.1)rotate(30)"><use href="#s"/><text x="-2.9" y="4.2">8</text></g>
<g transform="translate(695.8 1376.1)rotate(30)"><use href="#s"/><text x="-2.9" y="4.2">9</text></g>
<g transform="translate(720.8 1376.1)rotate(30)"><use href="#s"/><text x="-2.9" y="4.2">10</text></g>
<g transform="translate(745.8 1376.1)rotate(30)"><use href="#s"/><text x="-2.9" y="4.2">11</text></g>
<g transform="translate(770.8 1376.1)rotate(30)"><use href="#s"/><text x="-2.9" y="4.2">12</text></g>
<g transform="translate(795.8 1376.1)rotate(30)"><use href="#s"/><text x="-2.9" y="4.2">13</text></g>
<g transform="translate(820.8 1376.1)rotate(30)"><use href="#s"/><text x="-2.9" y="4.2">14</text></g>
<g transform="translate(845.8 1376.1)rotate(30)"><use href="#s"/><text x="-2.9" y="4.2">15</text></g>
<g transform="translate(870.8 1376.1)rotate(30)"><use href="#s"/><text x="-2.9" y="4.2">16</text></g>
<g transform="translate(895.8 1376.1)rotate(30)"><use href="#s"/><text x="-2.9" y="4.2">17</text></g>
<g transform="translate(920.8 1376.1)rotate(30)"><use href="#s"/><text x="-2.9" y="4.2">18</text></g>
<g transform="translate(945.8 1376.1)rotate(30)"><use href="#s"/><text x="-2.9" y="4.2">19</text></g>
<g transform="translate(970.8 1376.1)rotate(30)"><use href="#s"/><text x="-2.9" y="4.2">20</text></g>
<g transform="translate(995.8 1376.1)rotate(30)"><use href="#s"/><text x="-2.9" y="4.2">21</text></g>
<g transform="translate(1020.8 1376.1)rotate(30)"><use href="#s"/><text x="-2.9" y="4.2">22</text></g>
<g transform="translate(1045.8 1376.1)rotate(30)"><use href="#s"/><text x="-2.9" y="4.2">23</text></g>
<g transform="translate(1070.8 1376.1)rotate(30)"><use href="#s"/><text x="-2.9" y="4.2">24</text></g>
<g transform="translate(1155.7 1376.1)rotate(30)"><use href="#s"/><text x="-2.9" y="4.2">25</text></g>
<g transform="translate(1180.7 1376.1)rotate(30)"><use href="#s"/><text x="-2.9" y="4.2">26</text></g>
<g transform="translate(1205.7 1376.1)rotate(30)"><use href="#s"/><text x="-2.9" y="4.2">27</text></g>
<g transform="translate(1230.7 1376.1)rotate(30)"><use href="#s"/><text x="-2.9" y="4.2">28</text></g>
<g transform="translate(1255.7 1376.1)rotate(30)"><use href="#s"/><text x="-2.9" y="4.2">29</text></g>
<g transform="translate(1280.7 1376.1)rotate(30)"><use href="#s"/><text x="-2.9" y="4.2">30</text></g>
<g transform="translate(1305.7 1376.1)rotate(30)"><use href="#s"/><text x="-2.9" y="4.2">31</text></g>
<g transform="translate(1330.7 1376.1)rotate(30)"><use href="#s"/><text x="-2.9" y="4.2">32</text></g>
<g transform="translate(495.8 1421.1)rotate(30)"><use href="#s"/><text x="-2.9" y="4.2">1</text></g>
<g transform="translate(520.8 1421.1)rotate(30)"><use href="#s"/><text x="-2.9" y="4.2">2</text></g>
<g transform="translate(545.8 1421.1)rotate(30)"><use href="#s"/><text x="-2.9" y="4.2">3</text></g>
<g transform="translate(570.8 1421.1)rotate(30)"><use href="#s"/><text x="-2.9" y="4.2">4</text></g>
<g transform="translate(595.8 1421.1)rotate(30)"><use href="#s"/><text x="-2.9" y="4.2">5</text></g>
<g transform="translate(620.8 1421.1)rotate(30)"><use href="#s"/><text x="-2.9" y="4.2">6</text></g>
<g transform="translate(645.8 1421.1)rotate(30)"><use href="#s"/><text x="-2.9" y="4.2">7</text></g>
<g transform="translate(670.8 1421.1)rotate(30)"><use href="#s"/><text x="-2.9" y="4.2">8</text></g>
<g transform="translate(695.8 1421.1)rotate(30)"><use href="#s"/><text x="-2.9" y="4.2">9</text></g>
<g transform="translate(720.8 1421.1)rotate(30)"><use href="#s"/><text x="-2.9" y="4.2">10</text></g>
<g transform="translate(745.8 1421.1)rotate(30)"><use href="#s"/><text x="-2.9" y="4.2">11</text></g>
<g transform="translate(770.8 1421.1)rotate(30)"><use href="#s"/><text x="-2.9" y="4.2">12</text></g>
<g transform="translate(795.8 1421.1)rotate(30)"><use href="#s"/><text x="-2.9" y="4.2">13</text></g>
<g transform="translate(820.8 1421.1)rotate(30)"><use href="#s"/><text x="-2.9" y="4.2">14</text></g>
<g transform="translate(845.8 1421.1)rotate(30)"><use href="#s"/><text x="-2.9" y="4.2">15</text></g>
<g transform="translate(870.8 1421.1)rotate(30)"><use href="#s"/><text x="-2.9" y="4.2">16</text></g>
<g transform="translate(895.8 1421.1)rotate(30)"><use href="#s"/><text x="-2.9" y="4.2">17</text></g>
<g transform="translate(920.8 1421.1)rotate(30)"><use href="#s"/><text x="-2.9" y="4.2">18</text></g>
<g transform="translate(945.8 1421.1)rotate(30)"><use href="#s"/><text x="-2.9" y="4.2">19</text></g>
<g transform="translate(970.8 1421.1)rotate(30)"><use href="#s"/><text x="-2.9" y="4.2">20</text></g>
<g transform="translate(995.8 1421.1)rotate(30)"><use href="#s"/><text x="-2.9" y="4.2">21</text></g>
<g transform="translate(1020.8 1421.1)rotate(30)"><use href="#s"/><text x="-2.9" y="4.2">22</text></g>
<g transform="translate(1045.8 1421.1)rotate(30)"><use href="#s"/><text x="-2.9" y="4.2">23</text></g>
<g transform="translate(1070.8 1421.1)rotate(30)"><use href="#s"/><text x="-2.9" y="4.2">24</text></g>
<g transform="translate(1155.7 1421.1)rotate(30)"><use href="#s"/><text x="-2.9" y="4.2">25</text></g>
<g transform="translate(1180.7 1421.1)rotate(30)"><use href="#s"/><text x="-2.9" y="4.2">26</text></g>
<g transform="translate(1205.7 1421.1)rotate(30)"><use href="#s"/><text x="-2.9" y="4.2">27</text></g>
<g transform="translate(1230.7 1421.1)rotate(30)"><use href="#s"/><text x="-2.9" y="4.2">28</text></g>
<g transform="translate(1255.7 1421.1)rotate(30)"><use href="#s"/><text x="-2.9" y="4.2">29</text></g>
<g transform="translate(1280.7 1421.1)rotate(30)"><use href="#s"/><text x="-2.9" y="4.2">30</text></g>
<g transform="translate(1305.7 1421.1)rotate(30)"><use href="#s"/><text x="-2.9" y="4.2">31</text></g>
<g transform="translate(1330.7 1421.1)rotate(30)"><use href="#s"/><text x="-2.9" y="4.2">32</text></g>
<g transform="translate(495.8 1466.1)rotate(30)"><use href="#s"/><text x="-2.9" y="4.2">1</text></g>
<g transform="translate(520.8 1466.1)rotate(30)"><use href="#s"/><text x="-2.9" y="4.2">2</text></g>
<g transform="translate(545.8 1466.1)rotate(30)"><use href="#s"/><text x="-2.9" y="4.2">3</text></g>
<g transform="translate(570.8 1466.1)rotate(30)"><use href="#s"/><text x="-2.9" y="4.2">4</text></g>
<g transform="translate(595.8 1466.1)rotate(30)"><use href="#s"/><text x="-2.9" y="4.2">5</text></g>
<g transform="translate(620.8 1466.1)rotate(30)"><use href="#s"/><text x="-2.9" y="4.2">6</text></g>
<g transform="translate(645.8 1466.1)rotate(30)"><use href="#s"/><text x="-2.9" y="4.2">7</text></g>
<g transform="translate(670.8 1466.1)rotate(30)"><use href="#s"/><text x="-2.9" y="4.2">8</text></g>
<g transform="translate(695.8 1466.1)rotate(30)"><use href="#s"/><text x="-2.9" y="4.2">9</text></g>
<g transform="translate(720.8 1466.1)rotate(30)"><use href="#s"/><text x="-2.9" y="4.2">10</text></g>
<g transform="translate(745.8 1466.1)rotate(30)"><use href="#s"/><text x="-2.9" y="4.2">11</text></g>
<g transform="translate(770.8 1466.1)rotate(30)"><use href="#s"/><text x="-2.9" y="4.2">12</text></g>
<g transform="translate(795.8 1466.1)rotate(30)"><use href="#s"/><text x="-2.9" y="4.2">13</text></g>
<g transform="translate(820.8 1466.1)rotate(30)"><use href="#s"/><text x="-2.9" y="4.2">14</text></g>
<g transform="translate(845.8 1466.1)rotate(30)"><use href="#s"/><text x="-2.9" y="4.2">15</text></g>
<g transform="translate(870.8 1466.1)rotate(30)"><use href="#s"/><text x="-2.9" y="4.2">16</text></g>
<g transform="translate(895.8 1466.1)rotate(30)"><use href="#s"/><text x="-2.9" y="4.2">17</text></g>
<g transform="translate(920.8 1466.1)rotate(30)"><use href="#s"/><text x="-2.9" y="4.2">18</text></g>
<g transform="translate(945.8 1466.1)rotate(30)"><use href="#s"/><text x="-2.9" y="4.2">19</text></g>
<g transform="translate(970.8 1466.1)rotate(30)"><use href="#s"/><text x="-2.9" y="4.2">20</text></g>
<g transform="translate(995.8 1466.1)rotate(30)"><use href="#s"/><text x="-2.9" y="4.2">21</text></g>
<g transform="translate(1020.8 1466.1)rotate(30)"><use href="#s"/><text x="-2.9" y="4.2">22</text></g>
<g transform="translate(1045.8 1466.1)rotate(30)"><use href="#s"/><text x="-2.9" y="4.2">23</text></g>
<g transform="translate(1070.8 1466.1)rotate(30)"><use href="#s"/><text x="-2.9" y="4.2">24</text></g>
<g transform="translate(1155.7 1466.1)rotate(30)"><use href="#s"/><text x="-2.9" y="4.2">25</text></g>
<g transform="translate(1180.7 1466.1)rotate(30)"><use href="#s"/><text x="-2.9" y="4.2">26</text></g>
<g transform="translate(1205.7 1466.1)rotate(30)"><use href="#s"/><text x="-2.9" y="4.2">27</text></g>
<g transform="translate(1230.7 1466.1)rotate(30)"><use href="#s"/><text x="-2.9" y="4.2">28</text></g>
<g transform="translate(1255.7 1466.1)rotate(30)"><use href="#s"/><text x="-2.9" y="4.2">29</text></g>
<g transform="translate(1280.7 1466.1)rotate(30)"><use href="#s"/><text x="-2.9" y="4.2">30</text></g>
<g transform="translate(1305.7 1466.1)rotate(30)"><use href="#s"/><text x="-2.9" y="4.2">31</text></g>
<g transform="translate(1330.7 1466.1)rotate(30)"><use href="#s"/><text x="-2.9" y="4.2">32</text></g>
<g transform="translate(495.8 1511.1)rotate(30)"><use href="#s"/><text x="-2.9" y="4.2">1</text></g>
<g transform="translate(520.8 1511.1)rotate(30)"><use href="#s"/><text x="-2.9" y="4.2">2</text></g>
<g transform="translate(545.8 1511.1)rotate(30)"><use href="#s"/><text x="-2.9" y="4.2">3</text></g>
<g transform="translate(570.8 1511.1)rotate(30)"><use href="#s"/><text x="-2.9" y="4.2">4</text></g>
<g transform="translate(595.8 1511.1)rotate(30)"><use href="#s"/><text x="-2.9" y="4.2">5</text></g>
<g transform="translate(620.8 1511.1)rotate(30)"><use href="#s"/><text x="-2.9" y="4.2">6</text></g>
<g transform="translate(645.8 1511.1)rotate(30)"><use href="#s"/><text x="-2.9" y="4.2">7</text></g>
<g transform="translate(670.8 1511.1)rotate(30)"><use href="#s"/><text x="-2.9" y="4.2">8</text></g>
<g transform="translate(695.8 1511.1)rotate(30)"><use href="#s"/><text x="-2.9" y="4.2">9</text></g>
<g transform="translate(720.8 1511.1)rotate(30)"><use href="#s"/><text x="-2.9" y="4.2">10</text></g>
<g transform="translate(745.8 1511.1)rotate(30)"><use href="#s"/><text x="-2.9" y="4.2">11</text></g>
<g transform="translate(770.8 1511.1)rotate(30)"><use href="#s"/><text x="-2.9" y="4.2">12</text></g>
<g transform="translate(795.8 1511.1)rotate(30)"><use href="#s"/><text x="-2.9" y="4.2">13</text></g>
<g transform="translate(820.8 1511.1)rotate(30)"><use href="#s"/><text x="-2.9" y="4.2">14</text></g>
<g transform="translate(845.8 1511.1)rotate(30)"><use href="#s"/><text x="-2.9" y="4.2">15</text></g>
<g transform="translate(870.8 1511.1)rotate(30)"><use href="#s"/><text x="-2.9" y="4.2">16</text></g>
<g transform="translate(895.8 1511.1)rotate(30)"><use href="#s"/><text x="-2.9" y="4.2">17</text></g>
<g transform="translate(920.8 1511.1)rotate(30)"><use href="#s"/><text x="-2.9" y="4.2">18</text></g>
<g transform="translate(945.8 1511.1)rotate(30)"><use href="#s"/><text x="-2.9" y="4.2">19</text></g>
<g transform="translate(970.8 1511.1)rotate(30)"><use href="#s"/><text x="-2.9" y="4.2">20</text></g>
<g transform="translate(995.8 1511.1)rotate(30)"><use href="#s"/><text x="-2.9" y="4.2">21</text></g>
<g transform="translate(1020.8 1511.1)rotate(30)"><use href="#s"/><text x="-2.9" y="4.2">22</text></g>
<g transform="translate(1045.8 1511.1)rotate(30)"><use href="#s"/><text x="-2.9" y="4.2">23</text></g>
<g transform="translate(1070.8 1511.1)rotate(30)"><use href="#s"/><text x="-2.9" y="4.2">24</text></g>
<g transform="translate(1155.7 1511.1)rotate(30)"><use href="#s"/><text x="-2.9" y="4.2">25</text></g>
<g transform="translate(1180.7 1511.1)rotate(30)"><use href="#s"/><text x="-2.9" y="4.2">26</text></g>
<g transform="translate(1205.7 1511.1)rotate(30)"><use href="#s"/><text x="-2.9" y="4.2">27</text></g>
<g transform="translate(1230.7 1511.1)rotate(30)"><use href="#s"/><text x="-2.9" y="4.2">28</text></g>
<g transform="translate(1255.7 1511.1)rotate(30)"><use href="#s"/><text x="-2.9" y="4.2">29</text></g>
<g transform="translate(1280.7 1511.1)rotate(30)"><use href="#s"/><text x="-2.9" y="4.2">30</text></g>
<g transform="translate(1305.7 1511.1)rotate(30)"><use href="#s"/><text x="-2.9" y="4.2">31</text></g>
<g transform="translate(1330.7 1511.1)rotate(30)"><use href="#s"/><text x="-2.9" y="4.2">32</text></g>
<g transform="translate(495.8 1556.1)rotate(30)"><use href="#s"/><text x="-2.9" y="4.2">1</text></g>
<g transform="translate(520.8 1556.1)rotate(30)"><use href="#s"/><text x="-2.9" y="4.2">2</text></g>
<g transform="translate(545.8 1556.1)rotate(30)"><use href="#s"/><text x="-2.9" y="4.2">3</text></g>
<g transform="translate(570.8 1556.1)rotate(30)"><use href="#s"/><text x="-2.9" y="4.2">4</text></g>
<g transform="translate(595.8 1556.1)rotate(30)"><use href="#s"/><text x="-2.9" y="4.2">5</text></g>
<g transform="translate(620.8 1556.1)rotate(30)"><use href="#s"/><text x="-2.9" y="4.2">6</text></g>
<g transform="translate(645.8 1556.1)rotate(30)"><use href="#s"/><text x="-2.9" y="4.2">7</text></g>
<g transform="translate(670.8 1556.1)rotate(30)"><use href="#s"/><text x="-2.9" y="4.2">8</text></g>
<g transform="translate(695.8 1556.1)rotate(30)"><use href="#s"/><text x="-2.9" y="4.2">9</text></g>
<g transform="translate(720.8 1556.1)rotate(30)"><use href="#s"/><text x="-2.9" y="4.2">10</text></g>
<g transform="translate(745.8 1556.1)rotate(30)"><use href="#s"/><text x="-2.9" y="4.2">11</text></g>
<g transform="translate(770.8 1556.1)rotate(30)"><use href="#s"/><text x="-2.9" y="4.2">12</text></g>
<g transform="translate(795.8 1556.1)rotate(30)"><use href="#s"/><text x="-2.9" y="4.2">13</text></g>
<g transform="translate(820.8 1556.1)rotate(30)"><use href="#s"/><text x="-2.9" y="4.2">14</text></g>
<g transform="translate(845.8 1556.1)rotate(30)"><use href="#s"/><text x="-2.9" y="4.2">15</text></g>
<g transform="translate(870.8 1556.1)rotate(30)"><use href="#s"/><text x="-2.9" y="4.2">16</text></g>
<g transform="translate(895.8 1556.1)rotate(30)"><use href="#s"/><text x="-2.9" y="4.2">17</text></g>
<g transform="translate(920.8 1556.1)rotate(30)"><use href="#s"/><text x="-2.9" y="4.2">18</text></g>
<g transform="translate(945.8 1556.1)rotate(30)"><use href="#s"/><text x="-2.9" y="4.2">19</text></g>
<g transform="translate(970.8 1556.1)rotate(30)"><use href="#s"/><text x="-2.9" y="4.2">20</text></g>
<g transform="translate(995.8 1556.1)rotate(30)"><use href="#s"/><text x="-2.9" y="4.2">21</text></g>
<g transform="translate(1020.8 1556.1)rotate(30)"><use href="#s"/><text x="-2.9" y="4.2">22</text></g>
<g transform="translate(1045.8 1556.1)rotate(30)"><use href="#s"/><text x="-2.9" y="4.2">23</text></g>
<g transform="translate(1070.8 1556.1)rotate(30)"><use href="#s"/><text x="-2.9" y="4.2">24</text></g>
<g transform="translate(1155.7 1556.1)rotate(30)"><use href="#s"/><text x="-2.9" y="4.2">25</text></g>
<g transform="translate(1180.7 1556.1)rotate(30)"><use href="#s"/><text x="-2.9" y="4.2">26</text></g>
<g transform="translate(1205.7 1556.1)rotate(30)"><use href="#s"/><text x="-2.9" y="4.2">27</text></g>
<g transform="translate(1230.7 1556.1)rotate(30)"><use href="#s"/><text x="-2.9" y="4.2">28</text></g>
<g transform="translate(1255.7 1556.1)rotate(30)"><use href="#s"/><text x="-2.9" y="4.2">29</text></g>
<g transform="translate(1280.7 1556.1)rotate(30)"><use href="#s"/><text x="-2.9" y="4.2">30</text></g>
<g transform="translate(1305.7 1556.1)rotate(30)"><use href="#s"/><text x="-2.9" y="4.2">31</text></g>
<g transform="translate(1330.7 1556.1)rotate(30)"><use href="#s"/><text x="-2.9" y="4.2">32</text></g>
<g transform="translate(495.8 1601.1)rotate(30)"><use href="#s"/><text x="-2.9" y="4.2">1</text></g>
<g transform="translate(520.8 1601.1)rotate(30)"><use href="#s"/><text x="-2.9" y="4.2">2</text></g>
<g transform="translate(545.8 1601.1)rotate(30)"><use href="#s"/><text x="-2.9" y="4.2">3</text></g>
<g transform="translate(570.8 1601.1)rotate(30)"><use href="#s"/><text x="-2.9" y="4.2">4</text></g>
<g transform="translate(595.8 1601.1)rotate(30)"><use href="#s"/><text x="-2.9" y="4.2">5</text></g>
<g transform="translate(620.8 1601.1)rotate(30)"><use href="#s"/><text x="-2.9" y="4.2">6</text></g>
<g transform="translate(645.8 1601.1)rotate(30)"><use href="#s"/><text x="-2.9" y="4.2">7</text></g>
<g transform="translate(670.8 1601.1)rotate(30)"><use href="#s"/><text x="-2.9" y="4.2">8</text></g>
<g transform="translate(695.8 1601.1)rotate(30)"><use href="#s"/><text x="-2.9" y="4.2">9</text></g>
<g transform="translate(720.8 1601.1)rotate(30)"><use href="#s"/><text x="-2.9" y="4.2">10</text></g>
<g transform="translate(745.8 1601.1)rotate(30)"><use href="#s"/><text x="-2.9" y="4.2">11</text></g>
<g transform="translate(770.8 1601.1)rotate(30)"><use href="#s"/><text x="-2.9" y="4.2">12</text></g>
<g transform="translate(795.8 1601.1)rotate(30)"><use href="#s"/><text x="-2.9" y="4.2">13</text></g>
<g transform="translate(820.8 1601.1)rotate(30)"><use href="#s"/><text x="-2.9" y="4.2">14</text></g>
<g transform="translate(845.8 1601.1)rotate(30)"><use href="#s"/><text x="-2.9" y="4.2">15</text></g>
<g transform="translate(870.8 1601.1)rotate(30)"><use href="#s"/><text x="-2.9" y="4.2">16</text></g>
<g transform="translate(895.8 1601.1)rotate(30)"><use href="#s"/><text x="-2.9" y="4.2">17</text></g>
<g transform="translate(920.8 1601.1)rotate(30)"><use href="#s"/><text x="-2.9" y="4.2">18</text></g>
<g transform="translate(945.8 1601.1)rotate(30)"><use href="#s"/><text x="-2.9" y="4.2">19</text></g>
<g transform="translate(970.8 1601.1)rotate(30)"><use href="#s"/><text x="-2.9" y="4.2">20</text></g>
<g transform="translate(995.8 1601.1)rotate(30)"><use href="#s"/><text x="-2.9" y="4.2">21</text></g>
<g transform="translate(1020.8 1601.1)rotate(30)"><use href="#s"/><text x="-2.9" y="4.2">22</text></g>
<g transform="translate(1045.8 1601.1)rotate(30)"><use href="#s"/><text x="-2.9" y="4.2">23</text></g>
<g transform="translate(1070.8 1601.1)rotate(30)"><use href="#s"/><text x="-2.9" y="4.2">24</text></g>
<g transform="translate(1155.7 1601.1)rotate(30)"><use href="#s"/><text x="-2.9" y="4.2">25</text></g>
<g transform="translate(1180.7 1601.1)rotate(30)"><use href="#s"/><text x="-2.9" y="4.2">26</text></g>
<g transform="translate(1205.7 1601.1)rotate(30)"><use href="#s"/><text x="-2.9" y="4.2">27</text></g>
<g transform="translate(1230.7 1601.1)rotate(30)"><use href="#s"/><text x="-2.9" y="4.2">28</text></g>
<g transform="translate(1255.7 1601.1)rotate(30)"><use href="#s"/><text x="-2.9" y="4.2">29</text></g>
<g transform="translate(1280.7 1601.1)rotate(30)"><use href="#s"/><text x="-2.9" y="4.2">30</text></g>
<g transform="translate(1305.7 1601.1)rotate(30)"><use href="#s"/><text x="-2.9" y="4.2">31</text></g>
<g transform="translate(1330.7 1601.1)rotate(30)"><use href="#s"/><text x="-2.9" y="4.2">32</text></g>
<g transform="translate(495.8 1646.1)rotate(30)"><use href="#s"/><text x="-2.9" y="4.2">1</text></g>
<g transform="translate(520.8 1646.1)rotate(30)"><use href="#s"/><text x="-2.9" y="4.2">2</text></g>
<g transform="translate(545.8 1646.1)rotate(30)"><use href="#s"/><text x="-2.9" y="4.2">3</text></g>
<g transform="translate(570.8 1646.1)rotate(30)"><use href="#s"/><text x="-2.9" y="4.2">4</text></g>
<g transform="translate(595.8 1646.1)rotate(30)"><use href="#s"/><text x="-2.9" y="4.2">5</text></g>
<g transform="translate(620.8 1646.1)rotate(30)"><use href="#s"/><text x="-2.9" y="4.2">6</text></g>
<g transform="translate(645.8 1646.1)rotate(30)"><use href="#s"/><text x="-2.9" y="4.2">7</text></g>
<g transform="translate(670.8 1646.1)rotate(30)"><use href="#s"/><text x="-2.9" y="4.2">8</text></g>
<g transform="translate(695.8 1646.1)rotate(30)"><use href="#s"/><text x="-2.9" y="4.2">9</text></g>
<g transform="translate(720.8 1646.1)rotate(30)"><use href="#s"/><text x="-2.9" y="4.2">10</text></g>
<g transform="translate(745.8 1646.1)rotate(30)"><use href="#s"/><text x="-2.9" y="4.2">11</text></g>
<g transform="translate(770.8 1646.1)rotate(30)"><use href="#s"/><text x="-2.9" y="4.2">12</text></g>
<g transform="translate(795.8 1646.1)rotate(30)"><use href="#s"/><text x="-2.9" y="4.2">13</text></g>
<g transform="translate(820.8 1646.1)rotate(30)"><use href="#s"/><text x="-2.9" y="4.2">14</text></g>
<g transform="translate(845.8 1646.1)rotate(30)"><use href="#s"/><text x="-2.9" y="4.2">15</text></g>
<g transform="translate(870.8 1646.1)rotate(30)"><use href="#s"/><text x="-2.9" y="4.2">16</text></g>
<g transform="translate(895.8 1646.1)rotate(30)"><use href="#s"/><text x="-2.9" y="4.2">17</text></g>
<g transform="translate(920.8 1646.1)rotate(30)"><use href="#s"/><text x="-2.9" y="4.2">18</text></g>
<g transform="translate(945.8 1646.1)rotate(30)"><use href="#s"/><text x="-2.9" y="4.2">19</text></g>
<g transform="translate(970.8 1646.1)rotate(30)"><use href="#s"/><text x="-2.9" y="4.2">20</text></g>
<g transform="translate(995.8 1646.1)rotate(30)"><use href="#s"/><text x="-2.9" y="4.2">21</text></g>
<g transform="translate(1020.8 1646.1)rotate(30)"><use href="#s"/><text x="-2.9" y="4.2">22</text></g>
<g transform="translate(1045.8 1646.1)rotate(30)"><use href="#s"/><text x="-2.9" y="4.2">23</text></g>
<g transform="translate(1070.8 1646.1)rotate(30)"><use href="#s"/><text x="-2.9" y="4.2">24</text></g>
<g transform="translate(1155.7 1646.1)rotate(30)"><use href="#s"/><text x="-2.9" y="4.2">25</text></g>
<g transform="translate(1180.7 1646.1)rotate(30)"><use href="#s"/><text x="-2.9" y="4.2">26</text></g>
<g transform="translate(1205.7 1646.1)rotate(30)"><use href="#s"/><text x="-2.9" y="4.2">27</text></g>
<g transform="translate(1230.7 1646.1)rotate(30)"><use href="#s"/><text x="-2.9" y="4.2">28</text></g>
<g transform="translate(1255.7 1646.1)rotate(30)"><use href="#s"/><text x="-2.9" y="4.2">29</text></g>
<g transform="translate(1280.7 1646.1)rotate(30)"><use href="#s"/><text x="-2.9" y="4.2">30</text></g>
<g transform="translate(1305.7 1646.1)rotate(30)"><use href="#s"/><text x="-2.9" y="4.2">31</text></g>
<g transform="translate(1330.7 1646.1)rotate(30)"><use href="#s"/><text x="-2.9" y="4.2">32</text></g>
<g transform="translate(495.8 1691.1)rotate(30)"><use href="#s"/><text x="-2.9" y="4.2">1</text></g>
<g transform="translate(520.8 1691.1)rotate(30)"><use href="#s"/><text x="-2.9" y="4.2">2</text></g>
<g transform="translate(545.8 1691.1)rotate(30)"><use href="#s"/><text x="-2.9" y="4.2">3</text></g>
<g transform="translate(570.8 1691.1)rotate(30)"><use href="#s"/><text x="-2.9" y="4.2">4</text></g>
<g transform="translate(595.8 1691.1)rotate(30)"><use href="#s"/><text x="-2.9" y="4.2">5</text></g>
<g transform="translate(620.8 1691.1)rotate(30)"><use href="#s"/><text x="-2.9" y="4.2">6</text></g>
<g transform="translate(645.8 1691.1)rotate(30)"><use href="#s"/><text x="-2.9" y="4.2">7</text></g>
<g transform="translate(670.8 1691.1)rotate(30)"><use href="#s"/><text x="-2.9" y="4.2">8</text></g>
<g transform="translate(695.8 1691.1)rotate(30)"><use href="#s"/><text x="-2.9" y="4.2">9</text></g>
<g transform="translate(720.8 1691.1)rotate(30)"><use href="#s"/><text x="-2.9" y="4.2">10</text></g>
<g transform="translate(745.8 1691.1)rotate(30)"><use href="#s"/><text x="-2.9" y="4.2">11</text></g>
<g transform="translate(770.8 1691.1)rotate(30)"><use href="#s"/><text x="-2.9" y="4.2">12</text></g>
<g transform="translate(795.8 1691.1)rotate(30)"><use href="#s"/><text x="-2.9" y="4.2">13</text></g>
<g transform="translate(820.8 1691.1)rotate(30)"><use href="#s"/><text x="-2.9" y="4.2">14</text></g>
<g transform="translate(845.8 1691.1)rotate(30)"><use href="#s"/><text x="-2.9" y="4.2">15</text></g>
<g transform="translate(870.8 1691.1)rotate(30)"><use href="#s"/><text x="-2.9" y="4.2">16</text></g>
<g transform="translate(895.8 1691.1)rotate(30)"><use href="#s"/><text x="-2.9" y="4.2">17</text></g>
<g transform="translate(920.8 1691.1)rotate(30)"><use href="#s"/><text x="-2.9" y="4.2">18</text></g>
<g transform="translate(945.8 1691.1)rotate(30)"><use href="#s"/><text x="-2.9" y="4.2">19</text></g>
<g transform="translate(970.8 1691.1)rotate(30)"><use href="#s"/><text x="-2.9" y="4.2">20</text></g>
<g transform="translate(995.8 1691.1)rotate(30)"><use href="#s"/><text x="-2.9" y="4.2">21</text></g>
<g transform="translate(1020.8 1691.1)rotate(30)"><use href="#s"/><text x="-2.9" y="4.2">22</text></g>
<g transform="translate(1045.8 1691.1)rotate(30)"><use href="#s"/><text x="-2.9" y="4.2">23</text></g>
<g transform="translate(1070.8 1691.1)rotate(30)"><use href="#s"/><text x="-2.9" y="4.2">24</text></g>
<g transform="translate(1155.7 1691.1)rotate(30)"><use href="#s"/><text x="-2.9" y="4.2">25</text></g>
<g transform="translate(1180.7 1691.1)rotate(30)"><use href="#s"/><text x="-2.9" y="4.2">26</text></g>
<g transform="translate(1205.7 1691.1)rotate(30)"><use href="#s"/><text x="-2.9" y="4.2">27</text></g>
<g transform="translate(1230.7 1691.1)rotate(30)"><use href="#s"/><text x="-2.9" y="4.2">28</text></g>
<g transform="translate(1255.7 1691.1)rotate(30)"><use href="#s"/><text x="-2.9" y="4.2">29</text></g>
<g transform="translate(1280.7 1691.1)rotate(30)"><use href="#s"/><text x="-2.9" y="4.2">30</text></g>
<g transform="translate(1305.7 1691.1)rotate(30)"><use href="#s"/><text x="-2.9" y="4.2">31</text></g>
<g transform="translate(1330.7 1691.1)rotate(30)"><use href="#s"/><text x="-2.9" y="4.2">32</text></g>
<g transform="translate(495.8 1736.1)rotate(30)"><use href="#s"/><text x="-2.9" y="4.2">1</text></g>
<g transform="translate(520.8 1736.1)rotate(30)"><use href="#s"/><text x="-2.9" y="4.2">2</text></g>
<g transform="translate(545.8 1736.1)rotate(30)"><use href="#s"/><text x="-2.9" y="4.2">3</text></g>
<g transform="translate(570.8 1736.1)rotate(30)"><use href="#s"/><text x="-2.9" y="4.2">4</text></g>
<g transform="translate(595.8 1736.1)rotate(30)"><use href="#s"/><text x="-2.9" y="4.2">5</text></g>
<g transform="translate(620.8 1736.1)rotate(30)"><use href="#s"/><text x="-2.9" y="4.2">6</text></g>
<g transform="translate(645.8 1736.1)rotate(30)"><use href="#s"/><text x="-2.9" y="4.2">7</text></g>
<g transform="translate(670.8 1736.1)rotate(30)"><use href="#s"/><text x="-2.9" y="4.2">8</text></g>
<g transform="translate(695.8 1736.1)rotate(30)"><use href="#s"/><text x="-2.9" y="4.2">9</text></g>
<g transform="translate(720.8 1736.1)rotate(30)"><use href="#s"/><text x="-2.9" y="4.2">10</text></g>
<g transform="translate(745.8 1736.1)rotate(30)"><use href="#s"/><text x="-2.9" y="4.2">11</text></g>
<g transform="translate(770.8 1736.1)rotate(30)"><use href="#s"/><text x="-2.9" y="4.2">12</text></g>
<g transform="translate(795.8 1736.1)rotate(30)"><use href="#s"/><text x="-2.9" y="4.2">13</text></g>
<g transform="translate(820.8 1736.1)rotate(30)"><use href="#s"/><text x="-2.9" y="4.2">14</text></g>
<g transform="translate(845.8 1736.1)rotate(30)"><use href="#s"/><text x="-2.9" y="4.2">15</text></g>
<g transform="translate(870.8 1736.1)rotate(30)"><use href="#s"/><text x="-2.9" y="4.2">16</text></g>
<g transform="translate(895.8 1736.1)rotate(30)"><use href="#s"/><text x="-2.9" y="4.2">17</text></g>
<g transform="translate(920.8 1736.1)rotate(30)"><use href="#s"/><text x="-2.9" y="4.2">18</text></g>
<g transform="translate(945.8 1736.1)rotate(30)"><use href="#s"/><text x="-2.9" y="4.2">19</text></g>
<g transform="translate(970.8 1736.1)rotate(30)"><use href="#s"/><text x="-2.9" y="4.2">20</text></g>
<g transform="translate(995.8 1736.1)rotate(30)"><use href="#s"/><text x="-2.9" y="4.2">21</text></g>
<g transform="translate(1020.8 1736.1)rotate(30)"><use href="#s"/><text x="-2.9" y="4.2">22</text></g>
<g transform="translate(1045.8 1736.1)rotate(30)"><use href="#s"/><text x="-2.9" y="4.2">23</text></g>
<g transform="translate(1070.8 1736.1)rotate(30)"><use href="#s"/><text x="-2.9" y="4.2">24</text></g>
<g transform="translate(1155.7 1736.1)rotate(30)"><use href="#s"/><text x="-2.9" y="4.2">25</text></g>
<g transform="translate(1180.7 1736.1)rotate(30)"><use href="#s"/><text x="-2.9" y="4.2">26</text></g>
<g transform="translate(1205.7 1736.1)rotate(30)"><use href="#s"/><text x="-2.9" y="4.2">27</text></g>
<g transform="translate(1230.7 1736.1)rotate(30)"><use href="#s"/><text x="-2.9" y="4.2">28</text></g>
<g transform="translate(1255.7 1736.1)rotate(30)"><use href="#s"/><text x="-2.9" y="4.2">29</text></g>
<g transform="translate(1280.7 1736.1)rotate(30)"><use href="#s"/><text x="-2.9" y="4.2">30</text></g>
<g transform="translate(1305.7 1736.1)rotate(30)"><use href="#s"/><text x="-2.9" y="4.2">31</text></g>
<g transform="translate(1330.7 1736.1)rotate(30)"><use href="#s"/><text x="-2.9" y="4.2">32</text></g>
<g transform="translate(495.8 1781.1)rotate(30)"><use href="#s"/><text x="-2.9" y="4.2">1</text></g>
<g transform="translate(520.8 1781.1)rotate(30)"><use href="#s"/><text x="-2.9" y="4.2">2</text></g>
<g transform="translate(545.8 1781.1)rotate(30)"><use href="#s"/><text x="-2.9" y="4.2">3</text></g>
<g transform="translate(570.8 1781.1)rotate(30)"><use href="#s"/><text x="-2.9" y="4.2">4</text></g>
<g transform="translate(595.8 1781.1)rotate(30)"><use href="#s"/><text x="-2.9" y="4.2">5</text></g>
<g transform="translate(620.8 1781.1)rotate(30)"><use href="#s"/><text x="-2.9" y="4.2">6</text></g>
<g transform="translate(645.8 1781.1)rotate(30)"><use href="#s"/><text x="-2.9" y="4.2">7</text></g>
<g transform="translate(670.8 1781.1)rotate(30)"><use href="#s"/><text x="-2.9" y="4.2">8</text></g>
<g transform="translate(695.8 1781.1)rotate(30)"><use href="#s"/><text x="-2.9" y="4.2">9</text></g>
<g transform="translate(720.8 1781.1)rotate(30)"><use href="#s"/><text x="-2.9" y="4.2">10</text></g>
<g transform="translate(745.8 1781.1)rotate(30)"><use href="#s"/><text x="-2.9" y="4.2">11</text></g>
<g transform="translate(770.8 1781.1)rotate(30)"><use href="#s"/><text x="-2.9" y="4.2">12</text></g>
<g transform="translate(795.8 1781.1)rotate(30)"><use href="#s"/><text x="-2.9" y="4.2">13</text></g>
<g transform="translate(820.8 1781.1)rotate(30)"><use href="#s"/><text x="-2.9" y="4.2">14</text></g>
<g transform="translate(845.8 1781.1)rotate(30)"><use href="#s"/><text x="-2.9" y="4.2">15</text></g>
<g transform="translate(870.8 1781.1)rotate(30)"><use href="#s"/><text x="-2.9" y="4.2">16</text></g>
<g transform="translate(1155.7 1781.1)rotate(30)"><use href="#s"/><text x="-2.9" y="4.2">25</text></g>
<g transform="translate(1180.7 1781.1)rotate(30)"><use href="#s"/><text x="-2.9" y="4.2">26</text></g>
<g transform="translate(1205.7 1781.1)rotate(30)"><use href="#s"/><text x="-2.9" y="4.2">27</text></g>
<g transform="translate(1230.7 1781.1)rotate(30)"><use href="#s"/><text x="-2.9" y="4.2">28</text></g>
<g transform="translate(1255.7 1781.1)rotate(30)"><use href="#s"/><text x="-2.9" y="4.2">29</text></g>
<g transform="translate(1280.7 1781.1)rotate(30)"><use href="#s"/><text x="-2.9" y="4.2">30</text></g>
<g transform="translate(1305.7 1781.1)rotate(30)"><use href="#s"/><text x="-2.9" y="4.2">31</text></g>
<g transform="translate(1330.7 1781.1)rotate(30)"><use href="#s"/><text x="-2.9" y="4.2">32</text></g>
<g transform="translate(1421.7 393.5)rotate(30)"><use href="#s"/><text x="-2.9" y="4.2">1</text></g>
<g transform="translate(1446.7 393.5)rotate(30)"><use href="#s"/><text x="-2.9" y="4.2">2</text></g>
<g transform="translate(1471.7 393.5)rotate(30)"><use href="#s"/><text x="-2.9" y="4.2">3</text></g>
<g transform="translate(1496.7 393.5)rotate(30)"><use href="#s"/><text x="-2.9" y="4.2">4</text></g>
<g transform="translate(1521.7 393.5)rotate(30)"><use href="#s"/><text x="-2.9" y="4.2">5</text></g>
<g transform="translate(1546.7 393.5)rotate(30)"><use href="#s"/><text x="-2.9" y="4.2">6</text></g>
<g transform="translate(1571.7 393.5)rotate(30)"><use href="#s"/><text x="-2.9" y="4.2">7</text></g>
<g transform="translate(1596.7 393.5)rotate(30)"><use href="#s"/><text x="-2.9" y="4.2">8</text></g>
<g transform="translate(1621.7 393.5)rotate(30)"><use href="#s"/><text x="-2.9" y="4.2">9</text></g>
<g transform="translate(1646.7 393.5)rotate(30)"><use href="#s"/><text x="-2.9" y="4.2">10</text></g>
<g transform="translate(1421.7 418.5)rotate(30)"><use href="#s"/><text x="-2.9" y="4.2">1</text></g>
<g transform="translate(1446.7 418.5)rotate(30)"><use href="#s"/><text x="-2.9" y="4.2">2</text></g>
<g transform="translate(1471.7 418.5)rotate(30)"><use href="#s"/><text x="-2.9" y="4.2">3</text></g>
<g transform="translate(1496.7 418.5)rotate(30)"><use href="#s"/><text x="-2.9" y="4.2">4</text></g>
<g transform="translate(1521.7 418.5)rotate(30)"><use href="#s"/><text x="-2.9" y="4.2">5</text></g>
<g transform="translate(1546.7 418.5)rotate(30)"><use href="#s"/><text x="-2.9" y="4.2">6</text></g>
<g transform="translate(1571.7 418.5)rotate(30)"><use href="#s"/><text x="-2.9" y="4.2">7</text></g>
<g transform="translate(1596.7 418.5)rotate(30)"><use href="#s"/><text x="-2.9" y="4.2">8</text></g>
<g transform="translate(1621.7 418.5)rotate(30)"><use href="#s"/><text x="-2.9" y="4.2">9</text></g>
<g transform="translate(1646.7 418.5)rotate(30)"><use href="#s"/><text x="-2.9" y="4.2">10</text></g>
<g transform="translate(1421.7 443.5)rotate(30)"><use href="#s"/><text x="-2.9" y="4.2">1</text></g>
<g transform="translate(1446.7 443.5)rotate(30)"><use href="#s"/><text x="-2.9" y="4.2">2</text></g>
<g transform="translate(1471.7 443.5)rotate(30)"><use href="#s"/><text x="-2.9" y="4.2">3</text></g>
<g transform="translate(1496.7 443.5)rotate(30)"><use href="#s"/><text x="-2.9" y="4.2">4</text></g>
<g transform="translate(1521.7 443.5)rotate(30)"><use href="#s"/><text x="-2.9" y="4.2">5</text></g>
<g transform="translate(1546.7 443.5)rotate(30)"><use href="#s"/><text x="-2.9" y="4.2">6</text></g>
<g transform="translate(1571.7 443.5)rotate(30)"><use href="#s"/><text x="-2.9" y="4.2">7</text></g>
<g transform="translate(1596.7 443.5)rotate(30)"><use href="#s"/><text x="-2.9" y="4.2">8</text></g>
<g transform="translate(1621.7 443.5)rotate(30)"><use href="#s"/><text x="-2.9" y="4.2">9</text></g>
<g transform="translate(1646.7 443.5)rotate(30)"><use href="#s"/><text x="-2.9" y="4.2">10</text></g>
<g transform="translate(1421.7 468.5)rotate(30)"><use href="#s"/><text x="-2.9" y="4.2">1</text></g>
<g transform="translate(1446.7 468.5)rotate(30)"><use href="#s"/><text x="-2.9" y="4.2">2</text></g>
<g transform="translate(1471.7 468.5)rotate(30)"><use href="#s"/><text x="-2.9" y="4.2">3</text></g>
<g transform="translate(1496.7 468.5)rotate(30)"><use href="#s"/><text x="-2.9" y="4.2">4</text></g>
<g transform="translate(1521.7 468.5)rotate(30)"><use href="#s"/><text x="-2.9" y="4.2">5</text></g>
<g transform="translate(1546.7 468.5)rotate(30)"><use href="#s"/><text x="-2.9" y="4.2">6</text></g>
<g transform="translate(1571.7 468.5)rotate(30)"><use href="#s"/><text x="-2.9" y="4.2">7</text></g>
<g transform="translate(1596.7 468.5)rotate(30)"><use href="#s"/><text x="-2.9" y="4.2">8</text></g>
<g transform="translate(1621.7 468.5)rotate(30)"><use href="#s"/><text x="-2.9" y="4.2">9</text></g>
<g transform="translate(1646.7 468.5)rotate(30)"><use href="#s"/><text x="-2.9" y="4.2">10</text></g>
<g transform="translate(1421.7 493.5)rotate(30)"><use href="#s"/><text x="-2.9" y="4.2">1</text></g>
<g transform="translate(1446.7 493.5)rotate(30)"><use href="#s"/><text x="-2.9" y="4.2">2</text></g>
<g transform="translate(1471.7 493.5)rotate(30)"><use href="#s"/><text x="-2.9" y="4.2">3</text></g>
<g transform="translate(1496.7 493.5)rotate(30)"><use href="#s"/><text x="-2.9" y="4.2">4</text></g>
<g transform="translate(1521.7 493.5)rotate(30)"><use href="#s"/><text x="-2.9" y="4.2">5</text></g>
<g transform="translate(1546.7 493.5)rotate(30)"><use href="#s"/><text x="-2.9" y="4.2">6</text></g>
<g transform="translate(1571.7 493.5)rotate(30)"><use href="#s"/><text x="-2.9" y="4.2">7</text></g>
<g transform="translate(1596.7 493.5)rotate(30)"><use href="#s"/><text x="-2.9" y="4.2">8</text></g>
<g transform="translate(1621.7 493.5)rotate(30)"><use href="#s"/><text x="-2.9" y="4.2">9</text></g>
<g transform="translate(1646.7 493.5)rotate(30)"><use href="#s"/><text x="-2.9" y="4.2">10</text></g>
<g transform="translate(1421.7 518.5)rotate(30)"><use href="#s"/><text x="-2.9" y="4.2">1</text></g>
<g transform="translate(1446.7 518.5)rotate(30)"><use href="#s"/><text x="-2.9" y="4.2">2</text></g>
<g transform="translate(1471.7 518.5)rotate(30)"><use href="#s"/><text x="-2.9" y="4.2">3</text></g>
<g transform="translate(1496.7 518.5)rotate(30)"><use href="#s"/><text x="-2.9" y="4.2">4</text></g>
<g transform="translate(1521.7 518.5)rotate(30)"><use href="#s"/><text x="-2.9" y="4.2">5</text></g>
<g transform="translate(1546.7 518.5)rotate(30)"><use href="#s"/><text x="-2.9" y="4.2">6</text></g>
<g transform="translate(1571.7 518.5)rotate(30)"><use href="#s"/><text x="-2.9" y="4.2">7</text></g>
<g transform="translate(1596.7 518.5)rotate(30)"><use href="#s"/><text x="-2.9" y="4.2">8</text></g>
<g transform="translate(1621.7 518.5)rotate(30)"><use href="#s"/><text x="-2.9" y="4.2">9</text></g>
<g transform="translate(1646.7 518.5)rotate(30)"><use href="#s"/><text x="-2.9" y="4.2">10</text></g>
<g transform="translate(1421.7 543.5)rotate(30)"><use href="#s"/><text x="-2.9" y="4.2">1</text></g>
<g transform="translate(1446.7 543.5)rotate(30)"><use href="#s"/><text x="-2.9" y="4.2">2</text></g>
<g transform="translate(1471.7 543.5)rotate(30)"><use href="#s"/><text x="-2.9" y="4.2">3</text></g>
<g transform="translate(1496.7 543.5)rotate(30)"><use href="#s"/><text x="-2.9" y="4.2">4</text></g>
<g transform="translate(1521.7 543.5)rotate(30)"><use href="#s"/><text x="-2.9" y="4.2">5</text></g>
<g transform="translate(1546.7 543.5)rotate(30)"><use href="#s"/><text x="-2.9" y="4.2">6</text></g>
<g transform="translate(1571.7 543.5)rotate(30)"><use href="#s"/><text x="-2.9" y="4.2">7</text></g>
<g transform="translate(1596.7 543.5)rotate(30)"><use href="#s"/><text x="-2.9" y="4.2">8</text></g>
<g transform="translate(1621.7 543.5)rotate(30)"><use href="#s"/><text x="-2.9" y="4.2">9</text></g>
<g transform="translate(1646.7 543.5)rotate(30)"><use href="#s"/><text x="-2.9" y="4.2">10</text></g>
<g transform="translate(1421.7 568.5)rotate(30)"><use href="#s"/><text x="-2.9" y="4.2">1</text></g>
<g transform="translate(1446.7 568.5)rotate(30)"><use href="#s"/><text x="-2.9" y="4.2">2</text></g>
<g transform="translate(1471.7 568.5)rotate(30)"><use href="#s"/><text x="-2.9" y="4.2">3</text></g>
<g transform="translate(1496.7 568.5)rotate(30)"><use href="#s"/><text x="-2.9" y="4.2">4</text></g>
<g transform="translate(1521.7 568.5)rotate(30)"><use href="#s"/><text x="-2.9" y="4.2">5</text></g>
<g transform="translate(1546.7 568.5)rotate(30)"><use href="#s"/><text x="-2.9" y="4.2">6</text></g>
<g transform="translate(1571.7 568.5)rotate(30)"><use href="#s"/><text x="-2.9" y="4.2">7</text></g>
<g transform="translate(1596.7 568.5)rotate(30)"><use href="#s"/><text x="-2.9" y="4.2">8</text></g>
<g transform="translate(1621.7 568.5)rotate(30)"><use href="#s"/><text x="-2.9" y="4.2">9</text></g>
<g transform="translate(1646.7 568.5)rotate(30)"><use href="#s"/><text x="-2.9" y="4.2">10</text></g>
<g transform="translate(1421.7 593.5)rotate(30)"><use href="#s"/><text x="-2.9" y="4.2">1</text></g>
<g transform="translate(1446.7 593.5)rotate(30)"><use href="#s"/><text x="-2.9" y="4.2">2</text></g>
<g transform="translate(1471.7 593.5)rotate(30)"><use href="#s"/><text x="-2.9" y="4.2">3</text></g>
<g transform="translate(1496.7 593.5)rotate(30)"><use href="#s"/><text x="-2.9" y="4.2">4</text></g>
<g transform="translate(1521.7 593.5)rotate(30)"><use href="#s"/><text x="-2.9" y="4.2">5</text></g>
<g transform="translate(1546.7 593.5)rotate(30)"><use href="#s"/><text x="-2.9" y="4.2">6</text></g>
<g transform="translate(1571.7 593.5)rotate(30)"><use href="#s"/><text x="-2.9" y="4.2">7</text></g>
<g transform="translate(1596.7 593.5)rotate(30)"><use href="#s"/><text x="-2.9" y="4.2">8</text></g>
<g transform="translate(1621.7 593.5)rotate(30)"><use href="#s"/><text x="-2.9" y="4.2">9</text></g>
<g transform="translate(1646.7 593.5)rotate(30)"><use href="#s"/><text x="-2.9" y="4.2">10</text></g>
<g transform="translate(1421.7 618.5)rotate(30)"><use href="#s"/><text x="-2.9" y="4.2">1</text></g>
<g transform="translate(1446.7 618.5)rotate(30)"><use href="#s"/><text x="-2.9" y="4.2">2</text></g>
<g transform="translate(1471.7 618.5)rotate(30)"><use href="#s"/><text x="-2.9" y="4.2">3</text></g>
<g transform="translate(1496.7 618.5)rotate(30)"><use href="#s"/><text x="-2.9" y="4.2">4</text></g>
<g transform="translate(1521.7 618.5)rotate(30)"><use href="#s"/><text x="-2.9" y="4.2">5</text></g>
<g transform="translate(1546.7 618.5)rotate(30)"><use href="#s"/><text x="-2.9" y="4.2">6</text></g>
<g transform="translate(1571.7 618.5)rotate(30)"><use href="#s"/><text x="-2.9" y="4.2">7</text></g>
<g transform="translate(1596.7 618.5)rotate(30)"><use href="#s"/><text x="-2.9" y="4.2">8</text></g>
<g transform="translate(1621.7 618.5)rotate(30)"><use href="#s"/><text x="-2.9" y="4.2">9</text></g>
<g transform="translate(1646.7 618.5)rotate(30)"><use href="#s"/><text x="-2.9" y="4.2">10</text></g>
<g transform="translate(1421.7 643.5)rotate(30)"><use href="#s"/><text x="-2.9" y="4.2">1</text></g>
<g transform="translate(1446.7 643.5)rotate(30)"><use href="#s"/><text x="-2.9" y="4.2">2</text></g>
<g transform="translate(1471.7 643.5)rotate(30)"><use href="#s"/><text x="-2.9" y="4.2">3</text></g>
<g transform="translate(1496.7 643.5)rotate(30)"><use href="#s"/><text x="-2.9" y="4.2">4</text></g>
<g transform="translate(1521.7 643.5)rotate(30)"><use href="#s"/><text x="-2.9" y="4.2">5</text></g>
<g transform="translate(1546.7 643.5)rotate(30)"><use href="#s"/><text x="-2.9" y="4.2">6</text></g>
<g transform="translate(1571.7 643.5)rotate(30)"><use href="#s"/><text x="-2.9" y="4.2">7</text></g>
<g transform="translate(1596.7 643.5)rotate(30)"><use href="#s"/><text x="-2.9" y="4.2">8</text></g>
<g transform="translate(1621.7 643.5)rotate(30)"><use href="#s"/><text x="-2.9" y="4.2">9</text></g>
<g transform="translate(1646.7 643.5)rotate(30)"><use href="#s"/><text x="-2.9" y="4.2">10</text></g>
<g transform="translate(1421.7 668.5)rotate(30)"><use href="#s"/><text x="-2.9" y="4.2">1</text></g>
<g transform="translate(1446.7 668.5)rotate(30)"><use href="#s"/><text x="-2.9" y="4.2">2</text></g>
<g transform="translate(1471.7 668.5)rotate(30)"><use href="#s"/><text x="-2.9" y="4.2">3</text></g>
<g transform="translate(1496.7 668.5)rotate(30)"><use href="#s"/><text x="-2.9" y="4.2">4</text></g>
<g transform="translate(1521.7 668.5)rotate(30)"><use href="#s"/><text x="-2.9" y="4.2">5</text></g>
<g transform="translate(1546.7 668.5)rotate(30)"><use href="#s"/><text x="-2.9" y="4.2">6</text></g>
<g transform="translate(1571.7 668.5)rotate(30)"><use href="#s"/><text x="-2.9" y="4.2">7</text></g>
<g transform="translate(1596.7 668.5)rotate(30)"><use href="#s"/><text x="-2.9" y="4.2">8</text></g>
<g transform="translate(1621.7 668.5)rotate(30)"><use href="#s"/><text x="-2.9" y="4.2">9</text></g>
<g transform="translate(1646.7 668.5)rotate(30)"><use href="#s"/><text x="-2.9" y="4.2">10</text></g>
<g transform="translate(1421.7 723.5)rotate(30)"><use href="#s"/><text x="-2.9" y="4.2">1</text></g>
<g transform="translate(1446.7 723.5)rotate(30)"><use href="#s"/><text x="-2.9" y="4.2">2</text></g>
<g transform="translate(1471.7 723.5)rotate(30)"><use href="#s"/><text x="-2.9" y="4.2">3</text></g>
<g transform="translate(1496.7 723.5)rotate(30)"><use href="#s"/><text x="-2.9" y="4.2">4</text></g>
<g transform="translate(1521.7 723.5)rotate(30)"><use href="#s"/><text x="-2.9" y="4.2">5</text></g>
<g transform="translate(1546.7 723.5)rotate(30)"><use href="#s"/><text x="-2.9" y="4.2">6</text></g>
<g transform="translate(1571.7 723.5)rotate(30)"><use href="#s"/><text x="-2.9" y="4.2">7</text></g>
<g transform="translate(1596.7 723.5)rotate(30)"><use href="#s"/><text x="-2.9" y="4.2">8</text></g>
<g transform="translate(1621.7 723.5)rotate(30)"><use href="#s"/><text x="-2.9" y="4.2">9</text></g>
<g transform="translate(1646.7 723.5)rotate(30)"><use href="#s"/><text x="-2.9" y="4.2">10</text></g>
<g transform="translate(1421.7 748.5)rotate(30)"><use href="#s"/><text x="-2.9" y="4.2">1</text></g>
<g transform="translate(1446.7 748.5)rotate(30)"><use href="#s"/><text x="-2.9" y="4.2">2</text></g>
<g transform="translate(1471.7 748.5)rotate(30)"><use href="#s"/><text x="-2.9" y="4.2">3</text></g>
<g transform="translate(1496.7 748.5)rotate(30)"><use href="#s"/><text x="-2.9" y="4.2">4</text></g>
<g transform="translate(1521.7 748.5)rotate(30)"><use href="#s"/><text x="-2.9" y="4.2">5</text></g>
<g transform="translate(1546.7 748.5)rotate(30)"><use href="#s"/><text x="-2.9" y="4.2">6</text></g>
<g transform="translate(1571.7 748.5)rotate(30)"><use href="#s"/><text x="-2.9" y="4.2">7</text></g>
<g transform="translate(1596.7 748.5)rotate(30)"><use href="#s"/><text x="-2.9" y="4.2">8</text></g>
<g transform="translate(1621.7 748.5)rotate(30)"><use href="#s"/><text x="-2.9" y="4.2">9</text></g>
<g transform="translate(1646.7 748.5)rotate(30)"><use href="#s"/><text x="-2.9" y="4.2">10</text></g>
<g transform="translate(1421.7 773.5)rotate(30)"><use href="#s"/><text x="-2.9" y="4.2">1</text></g>
<g transform="translate(1446.7 773.5)rotate(30)"><use href="#s"/><text x="-2.9" y="4.2">2</text></g>
<g transform="translate(1471.7 773.5)rotate(30)"><use href="#s"/><text x="-2.9" y="4.2">3</text></g>
<g transform="translate(1496.7 773.5)rotate(30)"><use href="#s"/><text x="-2.9" y="4.2">4</text></g>
<g transform="translate(1521.7 773.5)rotate(30)"><use href="#s"/><text x="-2.9" y="4.2">5</text></g>
<g transform="translate(1546.7 773.5)rotate(30)"><use href="#s"/><text x="-2.9" y="4.2">6</text></g>
<g transform="translate(1571.7 773.5)rotate(30)"><use href="#s"/><text x="-2.9" y="4.2">7</text></g>
<g transform="translate(1596.7 773.5)rotate(30)"><use href="#s"/><text x="-2.9" y="4.2">8</text></g>
<g transform="translate(1621.7 773.5)rotate(30)"><use href="#s"/><text x="-2.9" y="4.2">9</text></g>
<g transform="translate(1646.7 773.5)rotate(30)"><use href="#s"/><text x="-2.9" y="4.2">10</text></g>
<g transform="translate(1421.7 798.5)rotate(30)"><use href="#s"/><text x="-2.9" y="4.2">1</text></g>
<g transform="translate(1446.7 798.5)rotate(30)"><use href="#s"/><text x="-2.9" y="4.2">2</text></g>
<g transform="translate(1471.7 798.5)rotate(30)"><use href="#s"/><text x="-2.9" y="4.2">3</text></g>
<g transform="translate(1496.7 798.5)rotate(30)"><use href="#s"/><text x="-2.9" y="4.2">4</text></g>
<g transform="translate(1521.7 798.5)rotate(30)"><use href="#s"/><text x="-2.9" y="4.2">5</text></g>
<g transform="translate(1546.7 798.5)rotate(30)"><use href="#s"/><text x="-2.9" y="4.2">6</text></g>
<g transform="translate(1571.7 798.5)rotate(30)"><use href="#s"/><text x="-2.9" y="4.2">7</text></g>
<g transform="translate(1596.7 798.5)rotate(30)"><use href="#s"/><text x="-2.9" y="4.2">8</text></g>
<g transform="translate(1621.7 798.5)rotate(30)"><use href="#s"/><text x="-2.9" y="4.2">9</text></g>
<g transform="translate(1646.7 798.5)rotate(30)"><use href="#s"/><text x="-2.9" y="4.2">10</text></g>
<g transform="translate(1421.7 823.5)rotate(30)"><use href="#s"/><text x="-2.9" y="4.2">1</text></g>
<g transform="translate(1446.7 823.5)rotate(30)"><use href="#s"/><text x="-2.9" y="4.2">2</text></g>
<g transform="translate(1471.7 823.5)rotate(30)"><use href="#s"/><text x="-2.9" y="4.2">3</text></g>
<g transform="translate(1496.7 823.5)rotate(30)"><use href="#s"/><text x="-2.9" y="4.2">4</text></g>
<g transform="translate(1521.7 823.5)rotate(30)"><use href="#s"/><text x="-2.9" y="4.2">5</text></g>
<g transform="translate(1546.7 823.5)rotate(30)"><use href="#s"/><text x="-2.9" y="4.2">6</text></g>
<g transform="translate(1571.7 823.5)rotate(30)"><use href="#s"/><text x="-2.9" y="4.2">7</text></g>
<g transform="translate(1596.7 823.5)rotate(30)"><use href="#s"/><text x="-2.9" y="4.2">8</text></g>
<g transform="translate(1621.7 823.5)rotate(30)"><use href="#s"/><text x="-2.9" y="4.2">9</text></g>
<g transform="translate(1646.7 823.5)rotate(30)"><use href="#s"/><text x="-2.9" y="4.2">10</text></g>
<g transform="translate(1421.7 848.5)rotate(30)"><use href="#s"/><text x="-2.9" y="4.2">1</text></g>
<g transform="translate(1446.7 848.5)rotate(30)"><use href="#s"/><text x="-2.9" y="4.2">2</text></g>
<g transform="translate(1471.7 848.5)rotate(30)"><use href="#s"/><text x="-2.9" y="4.2">3</text></g>
<g transform="translate(1496.7 848.5)rotate(30)"><use href="#s"/><text x="-2.9" y="4.2">4</text></g>
<g transform="translate(1521.7 848.5)rotate(30)"><use href="#s"/><text x="-2.9" y="4.2">5</text></g>
<g transform="translate(1546.7 848.5)rotate(30)"><use href="#s"/><text x="-2.9" y="4.2">6</text></g>
<g transform="translate(1571.7 848.5)rotate(30)"><use href="#s"/><text x="-2.9" y="4.2">7</text></g>
<g transform="translate(1596.7 848.5)rotate(30)"><use href="#s"/><text x="-2.9" y="4.2">8</text></g>
<g transform="translate(1621.7 848.5)rotate(30)"><use href="#s"/><text x="-2.9" y="4.2">9</text></g>
<g transform="translate(1646.7 848.5)rotate(30)"><use href="#s"/><text x="-2.9" y="4.2">10</text></g>
<g transform="translate(1422.7 926.5)rotate(30)"><use href="#s"/><text x="-2.9" y="4.2">1</text></g>
<g transform="translate(1447.7 926.5)rotate(30)"><use href="#s"/><text x="-2.9" y="4.2">2</text></g>
<g transform="translate(1472.7 926.5)rotate(30)"><use href="#s"/><text x="-2.9" y="4.2">3</text></g>
<g transform="translate(1497.7 926.5)rotate(30)"><use href="#s"/><text x="-2.9" y="4.2">4</text></g>
<g transform="translate(1522.7 926.5)rotate(30)"><use href="#s"/><text x="-2.9" y="4.2">5</text></g>
<g transform="translate(1547.7 926.5)rotate(30)"><use href="#s"/><text x="-2.9" y="4.2">6</text></g>
<g transform="translate(1572.7 926.5)rotate(30)"><use href="#s"/><text x="-2.9" y="4.2">7</text></g>
<g transform="translate(1597.7 926.5)rotate(30)"><use href="#s"/><text x="-2.9" y="4.2">8</text></g>
<g transform="translate(1622.7 926.5)rotate(30)"><use href="#s"/><text x="-2.9" y="4.2">9</text></g>
<g transform="translate(1647.7 926.5)rotate(30)"><use href="#s"/><text x="-2.9" y="4.2">10</text></g>
<g transform="translate(1422.7 951.5)rotate(30)"><use href="#s"/><text x="-2.9" y="4.2">1</text></g>
<g transform="translate(1447.7 951.5)rotate(30)"><use href="#s"/><text x="-2.9" y="4.2">2</text></g>
<g transform="translate(1472.7 951.5)rotate(30)"><use href="#s"/><text x="-2.9" y="4.2">3</text></g>
<g transform="translate(1497.7 951.5)rotate(30)"><use href="#s"/><text x="-2.9" y="4.2">4</text></g>
<g transform="translate(1522.7 951.5)rotate(30)"><use href="#s"/><text x="-2.9" y="4.2">5</text></g>
<g transform="translate(1547.7 951.5)rotate(30)"><use href="#s"/><text x="-2.9" y="4.2">6</text></g>
<g transform="translate(1572.7 951.5)rotate(30)"><use href="#s"/><text x="-2.9" y="4.2">7</text></g>
<g transform="translate(1597.7 951.5)rotate(30)"><use href="#s"/><text x="-2.9" y="4.2">8</text></g>
<g transform="translate(1622.7 951.5)rotate(30)"><use href="#s"/><text x="-2.9" y="4.2">9</text></g>
<g transform="translate(1647.7 951.5)rotate(30)"><use href="#s"/><text x="-2.9" y="4.2">10</text></g>
<g transform="translate(1422.7 976.5)rotate(30)"><use href="#s"/><text x="-2.9" y="4.2">1</text></g>
<g transform="translate(1447.7 976.5)rotate(30)"><use href="#s"/><text x="-2.9" y="4.2">2</text></g>
<g transform="translate(1472.7 976.5)rotate(30)"><use href="#s"/><text x="-2.9" y="4.2">3</text></g>
<g transform="translate(1497.7 976.5)rotate(30)"><use href="#s"/><text x="-2.9" y="4.2">4</text></g>
<g transform="translate(1522.7 976.5)rotate(30)"><use href="#s"/><text x="-2.9" y="4.2">5</text></g>
<g transform="translate(1547.7 976.5)rotate(30)"><use href="#s"/><text x="-2.9" y="4.2">6</text></g>
<g transform="translate(1572.7 976.5)rotate(30)"><use href="#s"/><text x="-2.9" y="4.2">7</text></g>
<g transform="translate(1597.7 976.5)rotate(30)"><use href="#s"/><text x="-2.9" y="4.2">8</text></g>
<g transform="translate(1622.7 976.5)rotate(30)"><use href="#s"/><text x="-2.9" y="4.2">9</text></g>
<g transform="translate(1647.7 976.5)rotate(30)"><use href="#s"/><text x="-2.9" y="4.2">10</text></g>
<g transform="translate(1422.7 1001.5)rotate(30)"><use href="#s"/><text x="-2.9" y="4.2">1</text></g>
<g transform="translate(1447.7 1001.5)rotate(30)"><use href="#s"/><text x="-2.9" y="4.2">2</text></g>
<g transform="translate(1472.7 1001.5)rotate(30)"><use href="#s"/><text x="-2.9" y="4.2">3</text></g>
<g transform="translate(1497.7 1001.5)rotate(30)"><use href="#s"/><text x="-2.9" y="4.2">4</text></g>
<g transform="translate(1522.7 1001.5)rotate(30)"><use href="#s"/><text x="-2.9" y="4.2">5</text></g>
<g transform="translate(1547.7 1001.5)rotate(30)"><use href="#s"/><text x="-2.9" y="4.2">6</text></g>
<g transform="translate(1572.7 1001.5)rotate(30)"><use href="#s"/><text x="-2.9" y="4.2">7</text></g>
<g transform="translate(1597.7 1001.5)rotate(30)"><use href="#s"/><text x="-2.9" y="4.2">8</text></g>
<g transform="translate(1622.7 1001.5)rotate(30)"><use href="#s"/><text x="-2.9" y="4.2">9</text></g>
<g transform="translate(1647.7 1001.5)rotate(30)"><use href="#s"/><text x="-2.9" y="4.2">10</text></g>
<g transform="translate(1422.7 1026.5)rotate(30)"><use href="#s"/><text x="-2.9" y="4.2">1</text></g>
<g transform="translate(1447.7 1026.5)rotate(30)"><use href="#s"/><text x="-2.9" y="4.2">2</text></g>
<g transform="translate(1472.7 1026.5)rotate(30)"><use href="#s"/><text x="-2.9" y="4.2">3</text></g>
<g transform="translate(1497.7 1026.5)rotate(30)"><use href="#s"/><text x="-2.9" y="4.2">4</text></g>
<g transform="translate(1522.7 1026.5)rotate(30)"><use href="#s"/><text x="-2.9" y="4.2">5</text></g>
<g transform="translate(1547.7 1026.5)rotate(30)"><use href="#s"/><text x="-2.9" y="4.2">6</text></g>
<g transform="translate(1572.7 1026.5)rotate(30)"><use href="#s"/><text x="-2.9" y="4.2">7</text></g>
<g transform="translate(1597.7 1026.5)rotate(30)"><use href="#s"/><text x="-2.9" y="4.2">8</text></g>
<g transform="translate(1622.7 1026.5)rotate(30)"><use href="#s"/><text x="-2.9" y="4.2">9</text></g>
<g transform="translate(1647.7 1026.5)rotate(30)"><use href="#s"/><text x="-2.9" y="4.2">10</text></g>
<g transform="translate(1422.7 1051.5)rotate(30)"><use href="#s"/><text x="-2.9" y="4.2">1</text></g>
<g transform="translate(1447.7 1051.5)rotate(30)"><use href="#s"/><text x="-2.9" y="4.2">2</text></g>
<g transform="translate(1472.7 1051.5)rotate(30)"><use href="#s"/><text x="-2.9" y="4.2">3</text></g>
<g transform="translate(1497.7 1051.5)rotate(30)"><use href="#s"/><text x="-2.9" y="4.2">4</text></g>
<g transform="translate(1522.7 1051.5)rotate(30)"><use href="#s"/><text x="-2.9" y="4.2">5</text></g>
<g transform="translate(1547.7 1051.5)rotate(30)"><use href="#s"/><text x="-2.9" y="4.2">6</text></g>
<g transform="translate(1572.7 1051.5)rotate(30)"><use href="#s"/><text x="-2.9" y="4.2">7</text></g>
<g transform="translate(1597.7 1051.5)rotate(30)"><use href="#s"/><text x="-2.9" y="4.2">8</text></g>
<g transform="translate(1622.7 1051.5)rotate(30)"><use href="#s"/><text x="-2.9" y="4.2">9</text></g>
<g transform="translate(1647.7 1051.5)rotate(30)"><use href="#s"/><text x="-2.9" y="4.2">10</text></g>
<g transform="translate(1422.7 1076.5)rotate(30)"><use href="#s"/><text x="-2.9" y="4.2">1</text></g>
<g transform="translate(1447.7 1076.5)rotate(30)"><use href="#s"/><text x="-2.9" y="4.2">2</text></g>
<g transform="translate(1472.7 1076.5)rotate(30)"><use href="#s"/><text x="-2.9" y="4.2">3</text></g>
<g transform="translate(1497.7 1076.5)rotate(30)"><use href="#s"/><text x="-2.9" y="4.2">4</text></g>
<g transform="translate(1522.7 1076.5)rotate(30)"><use href="#s"/><text x="-2.9" y="4.2">5</text></g>
<g transform="translate(1547.7 1076.5)rotate(30)"><use href="#s"/><text x="-2.9" y="4.2">6</text></g>
<g transform="translate(1572.7 1076.5)rotate(30)"><use href="#s"/><text x="-2.9" y="4.2">7</text></g>
<g transform="translate(1597.7 1076.5)rotate(30)"><use href="#s"/><text x="-2.9" y="4.2">8</text></g>
<g transform="translate(1622.7 1076.5)rotate(30)"><use href="#s"/><text x="-2.9" y="4.2">9</text></g>
<g transform="translate(1647.7 1076.5)rotate(30)"><use href="#s"/><text x="-2.9" y="4.2">10</text></g>
<g transform="translate(1422.7 1101.5)rotate(30)"><use href="#s"/><text x="-2.9" y="4.2">1</text></g>
<g transform="translate(1447.7 1101.5)rotate(30)"><use href="#s"/><text x="-2.9" y="4.2">2</text></g>
<g transform="translate(1472.7 1101.5)rotate(30)"><use href="#s"/><text x="-2.9" y="4.2">3</text></g>
<g transform="translate(1497.7 1101.5)rotate(30)"><use href="#s"/><text x="-2.9" y="4.2">4</text></g>
<g transform="translate(1522.7 1101.5)rotate(30)"><use href="#s"/><text x="-2.9" y="4.2">5</text></g>
<g transform="translate(1547.7 1101.5)rotate(30)"><use href="#s"/><text x="-2.9" y="4.2">6</text></g>
<g transform="translate(1572.7 1101.5)rotate(30)"><use href="#s"/><text x="-2.9" y="4.2">7</text></g>
<g transform="translate(1597.7 1101.5)rotate(30)"><use href="#s"/><text x="-2.9" y="4.2">8</text></g>
<g transform="translate(1622.7 1101.5)rotate(30)"><use href="#s"/><text x="-2.9" y="4.2">9</text></g>
<g transform="translate(1647.7 1101.5)rotate(30)"><use href="#s"/><text x="-2.9" y="4.2">10</text></g>
<g transform="translate(1422.7 1126.5)rotate(30)"><use href="#s"/><text x="-2.9" y="4.2">1</text></g>
<g transform="translate(1447.7 1126.5)rotate(30)"><use href="#s"/><text x="-2.9" y="4.2">2</text></g>
<g transform="translate(1472.7 1126.5)rotate(30)"><use href="#s"/><text x="-2.9" y="4.2">3</text></g>
<g transform="translate(1497.7 1126.5)rotate(30)"><use href="#s"/><text x="-2.9" y="4.2">4</text></g>
<g transform="translate(1522.7 1126.5)rotate(30)"><use href="#s"/><text x="-2.9" y="4.2">5</text></g>
<g transform="translate(1547.7 1126.5)rotate(30)"><use href="#s"/><text x="-2.9" y="4.2">6</text></g>
<g transform="translate(1572.7 1126.5)rotate(30)"><use href="#s"/><text x="-2.9" y="4.2">7</text></g>
<g transform="translate(1597.7 1126.5)rotate(30)"><use href="#s"/><text x="-2.9" y="4.2">8</text></g>
<g transform="translate(1622.7 1126.5)rotate(30)"><use href="#s"/><text x="-2.9" y="4.2">9</text></g>
<g transform="translate(1647.7 1126.5)rotate(30)"><use href="#s"/><text x="-2.9" y="4.2">10</text></g>
<g transform="translate(1422.7 1151.5)rotate(30)"><use href="#s"/><text x="-2.9" y="4.2">1</text></g>
<g transform="translate(1447.7 1151.5)rotate(30)"><use href="#s"/><text x="-2.9" y="4.2">2</text></g>
<g transform="translate(1472.7 1151.5)rotate(30)"><use href="#s"/><text x="-2.9" y="4.2">3</text></g>
<g transform="translate(1497.7 1151.5)rotate(30)"><use href="#s"/><text x="-2.9" y="4.2">4</text></g>
<g transform="translate(1522.7 1151.5)rotate(30)"><use href="#s"/><text x="-2.9" y="4.2">5</text></g>
<g transform="translate(1547.7 1151.5)rotate(30)"><use href="#s"/><text x="-2.9" y="4.2">6</text></g>
<g transform="translate(1572.7 1151.5)rotate(30)"><use href="#s"/><text x="-2.9" y="4.2">7</text></g>
<g transform="translate(1597.7 1151.5)rotate(30)"><use href="#s"/><text x="-2.9" y="4.2">8</text></g>
<g transform="translate(1622.7 1151.5)rotate(30)"><use href="#s"/><text x="-2.9" y="4.2">9</text></g>
<g transform="translate(1647.7 1151.5)rotate(30)"><use href="#s"/><text x="-2.9" y="4.2">10</text></g>
<g transform="translate(1422.7 1176.5)rotate(30)"><use href="#s"/><text x="-2.9" y="4.2">1</text></g>
<g transform="translate(1447.7 1176.5)rotate(30)"><use href="#s"/><text x="-2.9" y="4.2">2</text></g>
<g transform="translate(1472.7 1176.5)rotate(30)"><use href="#s"/><text x="-2.9" y="4.2">3</text></g>
<g transform="translate(1497.7 1176.5)rotate(30)"><use href="#s"/><text x="-2.9" y="4.2">4</text></g>
<g transform="translate(1522.7 1176.5)rotate(30)"><use href="#s"/><text x="-2.9" y="4.2">5</text></g>
<g transform="translate(1547.7 1176.5)rotate(30)"><use href="#s"/><text x="-2.9" y="4.2">6</text></g>
<g transform="translate(1572.7 1176.5)rotate(30)"><use href="#s"/><text x="-2.9" y="4.2">7</text></g>
<g transform="translate(1597.7 1176.5)rotate(30)"><use href="#s"/><text x="-2.9" y="4.2">8</text></g>
<g transform="translate(1622.7 1176.5)rotate(30)"><use href="#s"/><text x="-2.9" y="4.2">9</text></g>
<g transform="translate(1647.7 1176.5)rotate(30)"><use href="#s"/><text x="-2.9" y="4.2">10</text></g>
<g transform="translate(1422.7 1201.5)rotate(30)"><use href="#s"/><text x="-2.9" y="4.2">1</text></g>
<g transform="translate(1447.7 1201.5)rotate(30)"><use href="#s"/><text x="-2.9" y="4.2">2</text></g>
<g transform="translate(1472.7 1201.5)rotate(30)"><use href="#s"/><text x="-2.9" y="4.2">3</text></g>
<g transform="translate(1497.7 1201.5)rotate(30)"><use href="#s"/><text x="-2.9" y="4.2">4</text></g>
<g transform="translate(1522.7 1201.5)rotate(30)"><use href="#s"/><text x="-2.9" y="4.2">5</text></g>
<g transform="translate(1547.7 1201.5)rotate(30)"><use href="#s"/><text x="-2.9" y="4.2">6</text></g>
<g transform="translate(1572.7 1201.5)rotate(30)"><use href="#s"/><text x="-2.9" y="4.2">7</text></g>
<g transform="translate(1597.7 1201.5)rotate(30)"><use href="#s"/><text x="-2.9" y="4.2">8</text></g>
<g transform="translate(1622.7 1201.5)rotate(30)"><use href="#s"/><text x="-2.9" y="4.2">9</text></g>
<g transform="translate(1647.7 1201.5)rotate(30)"><use href="#s"/><text x="-2.9" y="4.2">10</text></g>
<g transform="translate(1422.7 1256.5)rotate(30)"><use href="#s"/><text x="-2.9" y="4.2">1</text></g>
<g transform="translate(1447.7 1256.5)rotate(30)"><use href="#s"/><text x="-2.9" y="4.2">2</text></g>
<g transform="translate(1472.7 1256.5)rotate(30)"><use href="#s"/><text x="-2.9" y="4.2">3</text></g>
<g transform="translate(1497.7 1256.5)rotate(30)"><use href="#s"/><text x="-2.9" y="4.2">4</text></g>
<g transform="translate(1522.7 1256.5)rotate(30)"><use href="#s"/><text x="-2.9" y="4.2">5</text></g>
<g transform="translate(1547.7 1256.5)rotate(30)"><use href="#s"/><text x="-2.9" y="4.2">6</text></g>
<g transform="translate(1572.7 1256.5)rotate(30)"><use href="#s"/><text x="-2.9" y="4.2">7</text></g>
<g transform="translate(1597.7 1256.5)rotate(30)"><use href="#s"/><text x="-2.9" y="4.2">8</text></g>
<g transform="translate(1622.7 1256.5)rotate(30)"><use href="#s"/><text x="-2.9" y="4.2">9</text></g>
<g transform="translate(1647.7 1256.5)rotate(30)"><use href="#s"/><text x="-2.9" y="4.2">10</text></g>
<g transform="translate(1422.7 1281.5)rotate(30)"><use href="#s"/><text x="-2.9" y="4.2">1</text></g>
<g transform="translate(1447.7 1281.5)rotate(30)"><use href="#s"/><text x="-2.9" y="4.2">2</text></g>
<g transform="translate(1472.7 1281.5)rotate(30)"><use href="#s"/><text x="-2.9" y="4.2">3</text></g>
<g transform="translate(1497.7 1281.5)rotate(30)"><use href="#s"/><text x="-2.9" y="4.2">4</text></g>
<g transform="translate(1522.7 1281.5)rotate(30)"><use href="#s"/><text x="-2.9" y="4.2">5</text></g>
<g transform="translate(1547.7 1281.5)rotate(30)"><use href="#s"/><text x="-2.9" y="4.2">6</text></g>
<g transform="translate(1572.7 1281.5)rotate(30)"><use href="#s"/><text x="-2.9" y="4.2">7</text></g>
<g transform="translate(1597.7 1281.5)rotate(30)"><use href="#s"/><text x="-2.9" y="4.2">8</text></g>
<g transform="translate(1622.7 1281.5)rotate(30)"><use href="#s"/><text x="-2.9" y="4.2">9</text></g>
<g transform="translate(1647.7 1281.5)rotate(30)"><use href="#s"/><text x="-2.9" y="4.2">10</text></g>
<g transform="translate(1422.7 1306.5)rotate(30)"><use href="#s"/><text x="-2.9" y="4.2">1</text></g>
<g transform="translate(1447.7 1306.5)rotate(30)"><use href="#s"/><text x="-2.9" y="4.2">2</text></g>
<g transform="translate(1472.7 1306.5)rotate(30)"><use href="#s"/><text x="-2.9" y="4.2">3</text></g>
<g transform="translate(1497.7 1306.5)rotate(30)"><use href="#s"/><text x="-2.9" y="4.2">4</text></g>
<g transform="translate(1522.7 1306.5)rotate(30)"><use href="#s"/><text x="-2.9" y="4.2">5</text></g>
<g transform="translate(1547.7 1306.5)rotate(30)"><use href="#s"/><text x="-2.9" y="4.2">6</text></g>
<g transform="translate(1572.7 1306.5)rotate(30)"><use href="#s"/><text x="-2.9" y="4.2">7</text></g>
<g transform="translate(1597.7 1306.5)rotate(30)"><use href="#s"/><text x="-2.9" y="4.2">8</text></g>
<g transform="translate(1622.7 1306.5)rotate(30)"><use href="#s"/><text x="-2.9" y="4.2">9</text></g>
<g transform="translate(1647.7 1306.5)rotate(30)"><use href="#s"/><text x="-2.9" y="4.2">10</text></g>
<g transform="translate(1422.7 1331.5)rotate(30)"><use href="#s"/><text x="-2.9" y="4.2">1</text></g>
<g transform="translate(1447.7 1331.5)rotate(30)"><use href="#s"/><text x="-2.9" y="4.2">2</text></g>
<g transform="translate(1472.7 1331.5)rotate(30)"><use href="#s"/><text x="-2.9" y="4.2">3</text></g>
<g transform="translate(1497.7 1331.5)rotate(30)"><use href="#s"/><text x="-2.9" y="4.2">4</text></g>
<g transform="translate(1522.7 1331.5)rotate(30)"><use href="#s"/><text x="-2.9" y="4.2">5</text></g>
<g transform="translate(1547.7 1331.5)rotate(30)"><use href="#s"/><text x="-2.9" y="4.2">6</text></g>
<g transform="translate(1572.7 1331.5)rotate(30)"><use href="#s"/><text x="-2.9" y="4.2">7</text></g>
<g transform="translate(1597.7 1331.5)rotate(30)"><use href="#s"/><text x="-2.9" y="4.2">8</text></g>
<g transform="translate(1622.7 1331.5)rotate(30)"><use href="#s"/><text x="-2.9" y="4.2">9</text></g>
<g transform="translate(1647.7 1331.5)rotate(30)"><use href="#s"/><text x="-2.9" y="4.2">10</text></g>
<g transform="translate(1422.7 1356.5)rotate(30)"><use href="#s"/><text x="-2.9" y="4.2">1</text></g>
<g transform="translate(1447.7 1356.5)rotate(30)"><use href="#s"/><text x="-2.9" y="4.2">2</text></g>
<g transform="translate(1472.7 1356.5)rotate(30)"><use href="#s"/><text x="-2.9" y="4.2">3</text></g>
<g transform="translate(1497.7 1356.5)rotate(30)"><use href="#s"/><text x="-2.9" y="4.2">4</text></g>
<g transform="translate(1522.7 1356.5)rotate(30)"><use href="#s"/><text x="-2.9" y="4.2">5</text></g>
<g transform="translate(1547.7 1356.5)rotate(30)"><use href="#s"/><text x="-2.9" y="4.2">6</text></g>
<g transform="translate(1572.7 1356.5)rotate(30)"><use href="#s"/><text x="-2.9" y="4.2">7</text></g>
<g transform="translate(1597.7 1356.5)rotate(30)"><use href="#s"/><text x="-2.9" y="4.2">8</text></g>
<g transform="translate(1622.7 1356.5)rotate(30)"><use href="#s"/><text x="-2.9" y="4.2">9</text></g>
<g transform="translate(1647.7 1356.5)rotate(30)"><use href="#s"/><text x="-2.9" y="4.2">10</text></g>
<g transform="translate(1422.7 1381.5)rotate(30)"><use href="#s"/><text x="-2.9" y="4.2">1</text></g>
<g transform="translate(1447.7 1381.5)rotate(30)"><use href="#s"/><text x="-2.9" y="4.2">2</text></g>
<g transform="translate(1472.7 1381.5)rotate(30)"><use href="#s"/><text x="-2.9" y="4.2">3</text></g>
<g transform="translate(1497.7 1381.5)rotate(30)"><use href="#s"/><text x="-2.9" y="4.2">4</text></g>
<g transform="translate(1522.7 1381.5)rotate(30)"><use href="#s"/><text x="-2.9" y="4.2">5</text></g>
<g transform="translate(1547.7 1381.5)rotate(30)"><use href="#s"/><text x="-2.9" y="4.2">6</text></g>
<g transform="translate(1572.7 1381.5)rotate(30)"><use href="#s"/><text x="-2.9" y="4.2">7</text></g>
<g transform="translate(1597.7 1381.5)rotate(30)"><use href="#s"/><text x="-2.9" y="4.2">8</text></g>
<g transform="translate(1622.7 1381.5)rotate(30)"><use href="#s"/><text x="-2.9" y="4.2">9</text></g>
<g transform="translate(1647.7 1381.5)rotate(30)"><use href="#s"/><text x="-2.9" y="4.2">10</text></g>
</g>
</svg>
</body></html>
